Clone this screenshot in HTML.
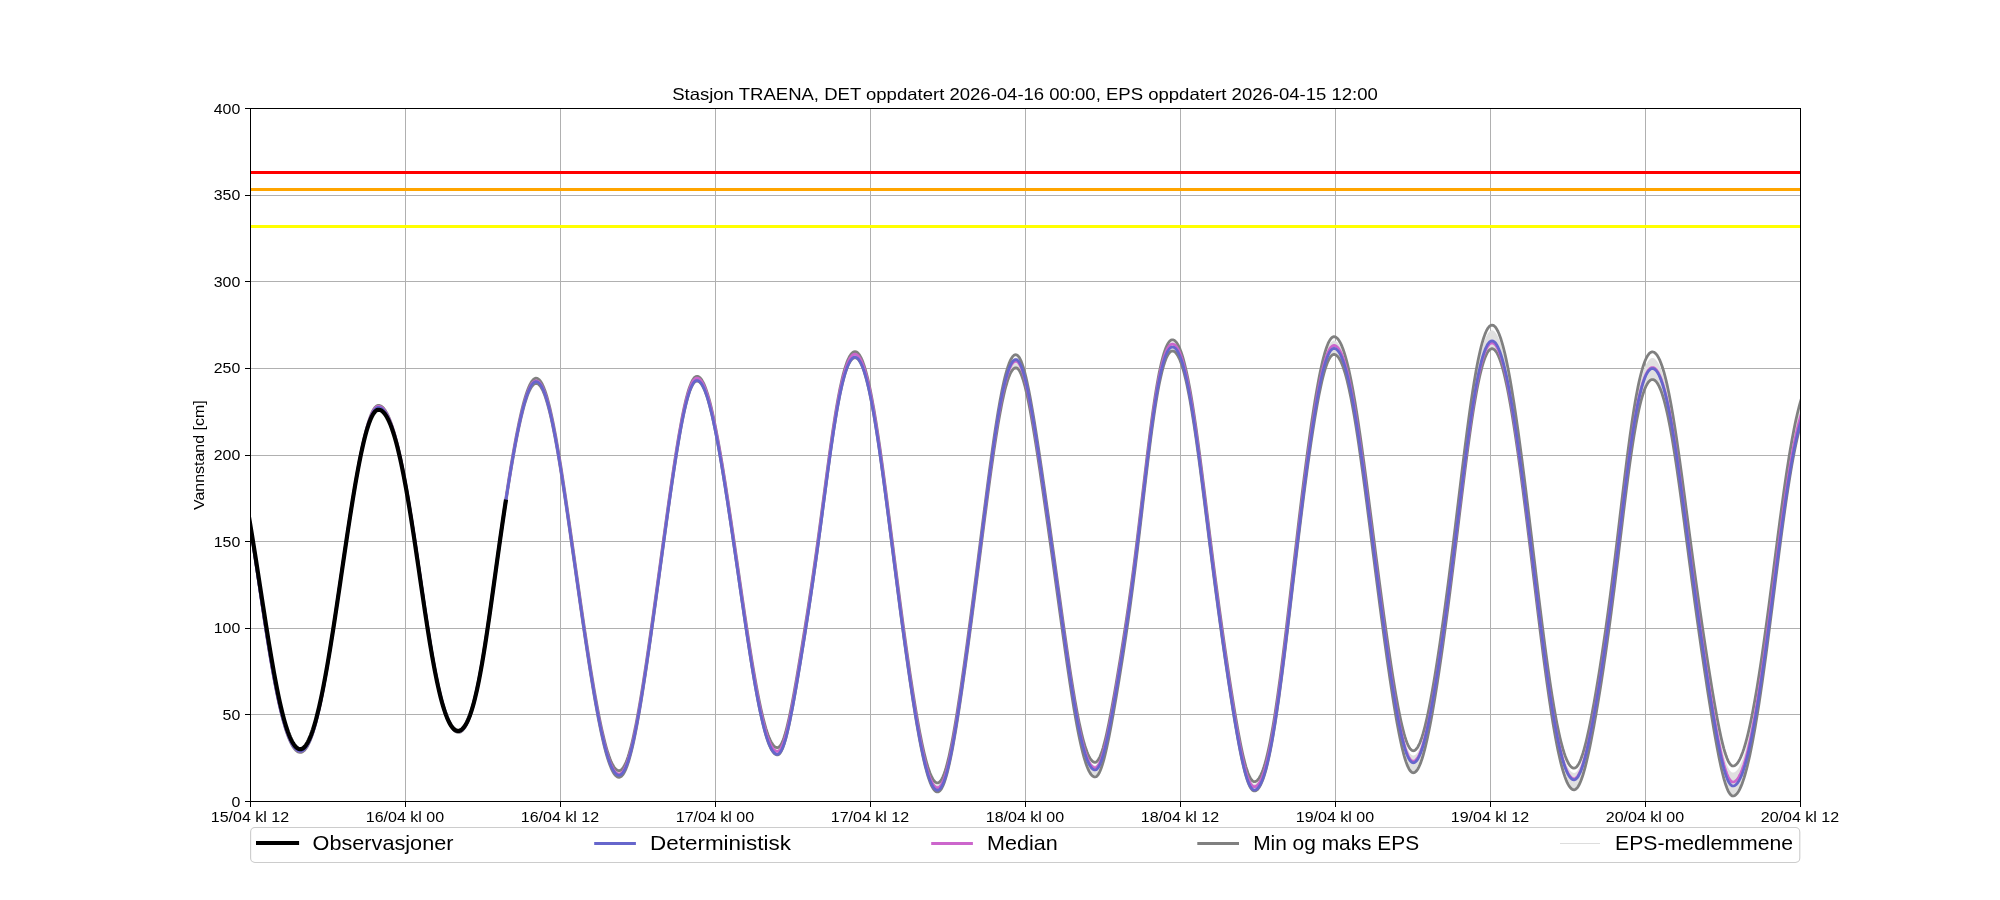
<!DOCTYPE html>
<html><head><meta charset="utf-8"><title>Vannstand TRAENA</title>
<style>html,body{margin:0;padding:0;background:#fff;}body{width:2000px;height:900px;overflow:hidden;}svg{display:block;will-change:transform;}</style>
</head><body>
<svg width="2000" height="900" viewBox="0 0 2000 900">
<defs><clipPath id="ax"><rect x="250" y="108" width="1550" height="693"/></clipPath></defs>
<rect x="0" y="0" width="2000" height="900" fill="#ffffff"/>
<path d="M405 108 h1 V801 h-1Z M560 108 h1 V801 h-1Z M715 108 h1 V801 h-1Z M870 108 h1 V801 h-1Z M1025 108 h1 V801 h-1Z M1180 108 h1 V801 h-1Z M1335 108 h1 V801 h-1Z M1490 108 h1 V801 h-1Z M1645 108 h1 V801 h-1Z M250 714 H1800 v1 H250Z M250 628 H1800 v1 H250Z M250 541 H1800 v1 H250Z M250 455 H1800 v1 H250Z M250 368 H1800 v1 H250Z M250 281 H1800 v1 H250Z M250 195 H1800 v1 H250Z" fill="#b0b0b0" shape-rendering="crispEdges"/>
<g clip-path="url(#ax)" fill="none" stroke-linejoin="round" stroke-linecap="butt">
<path d="M240.00 466.83L241.00 471.74L242.00 476.84L243.00 482.11L244.00 487.55L245.00 493.16L246.00 498.92L247.00 504.83L248.00 510.87L249.00 517.04L250.00 523.32L251.00 529.71L252.00 536.19L253.00 542.76L254.00 549.40L255.00 556.09L256.00 562.83L257.00 569.60L258.00 576.39L259.00 583.19L260.00 589.98L261.00 596.75L262.00 603.49L263.00 610.19L264.00 616.83L265.00 623.40L266.00 629.89L267.00 636.29L268.00 642.58L269.00 648.76L270.00 654.81L271.00 660.73L272.00 666.51L273.00 672.14L274.00 677.61L275.00 682.92L276.00 688.05L277.00 693.00L278.00 697.77L279.00 702.35L280.00 706.73L281.00 710.92L282.00 714.91L283.00 718.70L284.00 722.27L285.00 725.65L286.00 728.81L287.00 731.76L288.00 734.50L289.00 737.02L290.00 739.33L291.00 741.43L292.00 743.31L293.00 744.98L294.00 746.44L295.00 747.68L296.00 748.71L297.00 749.52L298.00 750.12L299.00 750.50L300.00 750.67L301.00 750.62L302.00 750.33L303.00 749.80L304.00 749.02L305.00 748.00L306.00 746.74L307.00 745.24L308.00 743.49L309.00 741.51L310.00 739.28L311.00 736.81L312.00 734.10L313.00 731.16L314.00 727.98L315.00 724.56L316.00 720.92L317.00 717.05L318.00 712.96L319.00 708.65L320.00 704.13L321.00 699.40L322.00 694.48L323.00 689.36L324.00 684.06L325.00 678.59L326.00 672.96L327.00 667.16L328.00 661.23L329.00 655.16L330.00 648.96L331.00 642.66L332.00 636.25L333.00 629.76L334.00 623.18L335.00 616.54L336.00 609.84L337.00 603.10L338.00 596.32L339.00 589.52L340.00 582.71L341.00 575.90L342.00 569.09L343.00 562.29L344.00 555.52L345.00 548.79L346.00 542.10L347.00 535.45L348.00 528.87L349.00 522.36L350.00 515.92L351.00 509.57L352.00 503.31L353.00 497.15L354.00 491.10L355.00 485.17L356.00 479.37L357.00 473.71L358.00 468.20L359.00 462.85L360.00 457.67L361.00 452.67L362.00 447.86L363.00 443.25L364.00 438.86L365.00 434.70L366.00 430.77L367.00 427.09L368.00 423.67L369.00 420.53L370.00 417.67L371.00 415.09L372.00 412.82L373.00 410.86L374.00 409.21L375.00 407.88L376.00 406.88L377.00 406.22L378.00 405.88L379.00 405.87L380.00 406.09L381.00 406.54L382.00 407.20L383.00 408.09L384.00 409.21L385.00 410.54L386.00 412.09L387.00 413.85L388.00 415.83L389.00 418.03L390.00 420.44L391.00 423.06L392.00 425.88L393.00 428.91L394.00 432.15L395.00 435.59L396.00 439.22L397.00 443.06L398.00 447.08L399.00 451.30L400.00 455.71L401.00 460.30L402.00 465.07L403.00 470.02L404.00 475.14L405.00 480.43L406.00 485.88L407.00 491.49L408.00 497.26L409.00 503.17L410.00 509.21L411.00 515.38L412.00 521.68L413.00 528.08L414.00 534.59L415.00 541.18L416.00 547.85L417.00 554.59L418.00 561.37L419.00 568.19L420.00 575.03L421.00 581.88L422.00 588.72L423.00 595.54L424.00 602.31L425.00 609.03L426.00 615.67L427.00 622.23L428.00 628.68L429.00 635.01L430.00 641.21L431.00 647.26L432.00 653.15L433.00 658.87L434.00 664.40L435.00 669.74L436.00 674.88L437.00 679.81L438.00 684.52L439.00 689.01L440.00 693.27L441.00 697.31L442.00 701.11L443.00 704.67L444.00 708.01L445.00 711.11L446.00 713.97L447.00 716.60L448.00 719.01L449.00 721.18L450.00 723.13L451.00 724.85L452.00 726.35L453.00 727.63L454.00 728.70L455.00 729.54L456.00 730.18L457.00 730.60L458.00 730.81L459.00 730.81L460.00 730.57L461.00 730.09L462.00 729.36L463.00 728.40L464.00 727.19L465.00 725.73L466.00 724.03L467.00 722.07L468.00 719.86L469.00 717.40L470.00 714.67L471.00 711.69L472.00 708.45L473.00 704.95L474.00 701.18L475.00 697.17L476.00 692.89L477.00 688.36L478.00 683.59L479.00 678.57L480.00 673.33L481.00 667.85L482.00 662.16L483.00 656.27L484.00 650.19L485.00 643.93L486.00 637.50L487.00 630.93L488.00 624.22L489.00 617.40L490.00 610.47L491.00 603.46L492.00 596.39L493.00 589.25L494.00 582.09L495.00 574.90L496.00 567.70L497.00 560.52L498.00 553.35L499.00 546.21L500.00 539.12L501.00 532.09L502.00 525.12L503.00 518.22L504.00 511.40L505.00 504.68L506.00 498.05L507.00 491.52L508.00 485.10L509.00 478.80L510.00 472.62L511.00 466.56L512.00 460.64L513.00 454.85L514.00 449.21L515.00 443.73L516.00 438.40L517.00 433.23L518.00 428.25L519.00 423.44L520.00 418.83L521.00 414.42L522.00 410.23L523.00 406.25L524.00 402.51L525.00 399.01L526.00 395.77L527.00 392.79L528.00 390.09L529.00 387.67L530.00 385.55L531.00 383.73L532.00 382.21L533.00 381.01L534.00 380.13L535.00 379.58L536.00 379.35L537.00 379.45L538.00 379.88L539.00 380.64L540.00 381.73L541.00 383.14L542.00 384.88L543.00 386.93L544.00 389.29L545.00 391.95L546.00 394.91L547.00 398.16L548.00 401.68L549.00 405.48L550.00 409.54L551.00 413.85L552.00 418.40L553.00 423.18L554.00 428.18L555.00 433.39L556.00 438.79L557.00 444.37L558.00 450.12L559.00 456.04L560.00 462.10L561.00 468.30L562.00 474.62L563.00 481.06L564.00 487.61L565.00 494.24L566.00 500.96L567.00 507.75L568.00 514.61L569.00 521.52L570.00 528.47L571.00 535.46L572.00 542.48L573.00 549.52L574.00 556.57L575.00 563.62L576.00 570.67L577.00 577.72L578.00 584.75L579.00 591.75L580.00 598.73L581.00 605.67L582.00 612.57L583.00 619.42L584.00 626.22L585.00 632.95L586.00 639.63L587.00 646.22L588.00 652.74L589.00 659.17L590.00 665.51L591.00 671.75L592.00 677.88L593.00 683.90L594.00 689.79L595.00 695.55L596.00 701.17L597.00 706.64L598.00 711.95L599.00 717.10L600.00 722.07L601.00 726.86L602.00 731.46L603.00 735.85L604.00 740.04L605.00 744.00L606.00 747.74L607.00 751.23L608.00 754.48L609.00 757.48L610.00 760.22L611.00 762.68L612.00 764.88L613.00 766.79L614.00 768.42L615.00 769.76L616.00 770.80L617.00 771.55L618.00 772.00L619.00 772.15L620.00 771.98L621.00 771.45L622.00 770.58L623.00 769.36L624.00 767.81L625.00 765.91L626.00 763.69L627.00 761.15L628.00 758.29L629.00 755.12L630.00 751.66L631.00 747.92L632.00 743.90L633.00 739.62L634.00 735.08L635.00 730.31L636.00 725.31L637.00 720.09L638.00 714.67L639.00 709.07L640.00 703.28L641.00 697.33L642.00 691.22L643.00 684.97L644.00 678.60L645.00 672.10L646.00 665.49L647.00 658.78L648.00 651.97L649.00 645.09L650.00 638.13L651.00 631.11L652.00 624.02L653.00 616.89L654.00 609.71L655.00 602.49L656.00 595.24L657.00 587.97L658.00 580.67L659.00 573.36L660.00 566.04L661.00 558.72L662.00 551.41L663.00 544.10L664.00 536.81L665.00 529.54L666.00 522.31L667.00 515.11L668.00 507.96L669.00 500.86L670.00 493.83L671.00 486.88L672.00 480.01L673.00 473.24L674.00 466.58L675.00 460.04L676.00 453.64L677.00 447.39L678.00 441.31L679.00 435.40L680.00 429.70L681.00 424.21L682.00 418.94L683.00 413.92L684.00 409.16L685.00 404.68L686.00 400.49L687.00 396.61L688.00 393.05L689.00 389.83L690.00 386.95L691.00 384.43L692.00 382.28L693.00 380.51L694.00 379.13L695.00 378.13L696.00 377.53L697.00 377.33L698.00 377.50L699.00 377.98L700.00 378.79L701.00 379.92L702.00 381.37L703.00 383.13L704.00 385.19L705.00 387.55L706.00 390.20L707.00 393.14L708.00 396.34L709.00 399.81L710.00 403.53L711.00 407.50L712.00 411.69L713.00 416.11L714.00 420.73L715.00 425.55L716.00 430.56L717.00 435.75L718.00 441.10L719.00 446.61L720.00 452.26L721.00 458.05L722.00 463.96L723.00 470.00L724.00 476.13L725.00 482.37L726.00 488.70L727.00 495.12L728.00 501.61L729.00 508.17L730.00 514.79L731.00 521.47L732.00 528.19L733.00 534.96L734.00 541.77L735.00 548.60L736.00 555.46L737.00 562.33L738.00 569.22L739.00 576.10L740.00 582.98L741.00 589.84L742.00 596.69L743.00 603.51L744.00 610.29L745.00 617.02L746.00 623.70L747.00 630.31L748.00 636.85L749.00 643.31L750.00 649.67L751.00 655.93L752.00 662.08L753.00 668.10L754.00 673.98L755.00 679.72L756.00 685.30L757.00 690.71L758.00 695.94L759.00 700.98L760.00 705.82L761.00 710.45L762.00 714.86L763.00 719.04L764.00 722.98L765.00 726.68L766.00 730.12L767.00 733.29L768.00 736.20L769.00 738.82L770.00 741.17L771.00 743.22L772.00 744.98L773.00 746.45L774.00 747.61L775.00 748.47L776.00 749.02L777.00 749.27L778.00 749.17L779.00 748.60L780.00 747.56L781.00 746.06L782.00 744.12L783.00 741.75L784.00 738.97L785.00 735.80L786.00 732.27L787.00 728.40L788.00 724.23L789.00 719.77L790.00 715.07L791.00 710.14L792.00 705.01L793.00 699.71L794.00 694.26L795.00 688.67L796.00 682.98L797.00 677.19L798.00 671.32L799.00 665.38L800.00 659.38L801.00 653.32L802.00 647.21L803.00 641.05L804.00 634.83L805.00 628.57L806.00 622.25L807.00 615.87L808.00 609.42L809.00 602.91L810.00 596.33L811.00 589.66L812.00 582.92L813.00 576.09L814.00 569.17L815.00 562.16L816.00 555.06L817.00 547.88L818.00 540.62L819.00 533.28L820.00 525.87L821.00 518.41L822.00 510.91L823.00 503.37L824.00 495.82L825.00 488.28L826.00 480.75L827.00 473.27L828.00 465.86L829.00 458.53L830.00 451.31L831.00 444.23L832.00 437.30L833.00 430.54L834.00 423.98L835.00 417.64L836.00 411.53L837.00 405.67L838.00 400.08L839.00 394.77L840.00 389.75L841.00 385.03L842.00 380.63L843.00 376.53L844.00 372.76L845.00 369.32L846.00 366.20L847.00 363.41L848.00 360.95L849.00 358.82L850.00 357.02L851.00 355.55L852.00 354.41L853.00 353.59L854.00 353.11L855.00 352.94L856.00 353.11L857.00 353.62L858.00 354.47L859.00 355.65L860.00 357.18L861.00 359.03L862.00 361.21L863.00 363.72L864.00 366.56L865.00 369.71L866.00 373.17L867.00 376.94L868.00 381.01L869.00 385.37L870.00 390.01L871.00 394.93L872.00 400.11L873.00 405.55L874.00 411.23L875.00 417.14L876.00 423.28L877.00 429.62L878.00 436.16L879.00 442.88L880.00 449.77L881.00 456.81L882.00 463.99L883.00 471.30L884.00 478.72L885.00 486.24L886.00 493.84L887.00 501.51L888.00 509.25L889.00 517.03L890.00 524.84L891.00 532.68L892.00 540.52L893.00 548.37L894.00 556.21L895.00 564.03L896.00 571.83L897.00 579.59L898.00 587.31L899.00 594.99L900.00 602.61L901.00 610.17L902.00 617.66L903.00 625.09L904.00 632.44L905.00 639.71L906.00 646.89L907.00 653.98L908.00 660.98L909.00 667.88L910.00 674.67L911.00 681.34L912.00 687.90L913.00 694.33L914.00 700.63L915.00 706.79L916.00 712.79L917.00 718.64L918.00 724.32L919.00 729.81L920.00 735.12L921.00 740.22L922.00 745.11L923.00 749.77L924.00 754.19L925.00 758.37L926.00 762.28L927.00 765.91L928.00 769.25L929.00 772.30L930.00 775.04L931.00 777.46L932.00 779.55L933.00 781.31L934.00 782.72L935.00 783.79L936.00 784.50L937.00 784.86L938.00 784.85L939.00 784.43L940.00 783.58L941.00 782.31L942.00 780.63L943.00 778.55L944.00 776.08L945.00 773.22L946.00 770.00L947.00 766.42L948.00 762.50L949.00 758.27L950.00 753.73L951.00 748.91L952.00 743.82L953.00 738.49L954.00 732.92L955.00 727.14L956.00 721.16L957.00 714.99L958.00 708.67L959.00 702.18L960.00 695.56L961.00 688.81L962.00 681.95L963.00 674.98L964.00 667.91L965.00 660.75L966.00 653.51L967.00 646.19L968.00 638.80L969.00 631.35L970.00 623.84L971.00 616.28L972.00 608.66L973.00 600.99L974.00 593.28L975.00 585.54L976.00 577.76L977.00 569.95L978.00 562.12L979.00 554.27L980.00 546.40L981.00 538.54L982.00 530.68L983.00 522.83L984.00 515.01L985.00 507.22L986.00 499.48L987.00 491.79L988.00 484.18L989.00 476.64L990.00 469.21L991.00 461.88L992.00 454.68L993.00 447.63L994.00 440.73L995.00 434.01L996.00 427.47L997.00 421.14L998.00 415.04L999.00 409.17L1000.00 403.55L1001.00 398.19L1002.00 393.12L1003.00 388.34L1004.00 383.87L1005.00 379.72L1006.00 375.89L1007.00 372.41L1008.00 369.27L1009.00 366.50L1010.00 364.09L1011.00 362.05L1012.00 360.38L1013.00 359.11L1014.00 358.21L1015.00 357.71L1016.00 357.59L1017.00 357.91L1018.00 358.70L1019.00 359.93L1020.00 361.62L1021.00 363.74L1022.00 366.27L1023.00 369.22L1024.00 372.55L1025.00 376.25L1026.00 380.30L1027.00 384.68L1028.00 389.35L1029.00 394.31L1030.00 399.52L1031.00 404.97L1032.00 410.62L1033.00 416.47L1034.00 422.49L1035.00 428.65L1036.00 434.95L1037.00 441.37L1038.00 447.89L1039.00 454.49L1040.00 461.18L1041.00 467.93L1042.00 474.74L1043.00 481.59L1044.00 488.50L1045.00 495.44L1046.00 502.42L1047.00 509.43L1048.00 516.47L1049.00 523.55L1050.00 530.64L1051.00 537.76L1052.00 544.91L1053.00 552.08L1054.00 559.26L1055.00 566.47L1056.00 573.68L1057.00 580.91L1058.00 588.14L1059.00 595.38L1060.00 602.60L1061.00 609.82L1062.00 617.01L1063.00 624.18L1064.00 631.30L1065.00 638.37L1066.00 645.39L1067.00 652.32L1068.00 659.17L1069.00 665.92L1070.00 672.56L1071.00 679.07L1072.00 685.43L1073.00 691.64L1074.00 697.68L1075.00 703.54L1076.00 709.20L1077.00 714.64L1078.00 719.87L1079.00 724.85L1080.00 729.59L1081.00 734.08L1082.00 738.29L1083.00 742.23L1084.00 745.88L1085.00 749.24L1086.00 752.30L1087.00 755.05L1088.00 757.49L1089.00 759.61L1090.00 761.41L1091.00 762.89L1092.00 764.05L1093.00 764.87L1094.00 765.37L1095.00 765.53L1096.00 765.30L1097.00 764.60L1098.00 763.44L1099.00 761.84L1100.00 759.80L1101.00 757.35L1102.00 754.50L1103.00 751.28L1104.00 747.71L1105.00 743.82L1106.00 739.64L1107.00 735.20L1108.00 730.52L1109.00 725.63L1110.00 720.55L1111.00 715.30L1112.00 709.92L1113.00 704.40L1114.00 698.78L1115.00 693.06L1116.00 687.25L1117.00 681.37L1118.00 675.41L1119.00 669.38L1120.00 663.27L1121.00 657.09L1122.00 650.83L1123.00 644.49L1124.00 638.06L1125.00 631.53L1126.00 624.90L1127.00 618.15L1128.00 611.29L1129.00 604.29L1130.00 597.16L1131.00 589.90L1132.00 582.49L1133.00 574.95L1134.00 567.26L1135.00 559.43L1136.00 551.47L1137.00 543.39L1138.00 535.19L1139.00 526.90L1140.00 518.52L1141.00 510.08L1142.00 501.60L1143.00 493.10L1144.00 484.61L1145.00 476.15L1146.00 467.75L1147.00 459.44L1148.00 451.25L1149.00 443.20L1150.00 435.33L1151.00 427.67L1152.00 420.23L1153.00 413.05L1154.00 406.14L1155.00 399.53L1156.00 393.23L1157.00 387.27L1158.00 381.65L1159.00 376.38L1160.00 371.48L1161.00 366.95L1162.00 362.80L1163.00 359.03L1164.00 355.64L1165.00 352.64L1166.00 350.02L1167.00 347.78L1168.00 345.92L1169.00 344.45L1170.00 343.35L1171.00 342.63L1172.00 342.29L1173.00 342.32L1174.00 342.68L1175.00 343.36L1176.00 344.36L1177.00 345.68L1178.00 347.33L1179.00 349.30L1180.00 351.60L1181.00 354.22L1182.00 357.17L1183.00 360.43L1184.00 364.02L1185.00 367.92L1186.00 372.14L1187.00 376.67L1188.00 381.50L1189.00 386.62L1190.00 392.04L1191.00 397.73L1192.00 403.69L1193.00 409.91L1194.00 416.37L1195.00 423.06L1196.00 429.95L1197.00 437.05L1198.00 444.31L1199.00 451.74L1200.00 459.31L1201.00 467.00L1202.00 474.79L1203.00 482.66L1204.00 490.60L1205.00 498.59L1206.00 506.60L1207.00 514.63L1208.00 522.66L1209.00 530.67L1210.00 538.65L1211.00 546.59L1212.00 554.49L1213.00 562.32L1214.00 570.10L1215.00 577.80L1216.00 585.43L1217.00 592.98L1218.00 600.45L1219.00 607.84L1220.00 615.16L1221.00 622.39L1222.00 629.54L1223.00 636.62L1224.00 643.62L1225.00 650.55L1226.00 657.39L1227.00 664.17L1228.00 670.86L1229.00 677.48L1230.00 684.02L1231.00 690.46L1232.00 696.82L1233.00 703.07L1234.00 709.22L1235.00 715.24L1236.00 721.13L1237.00 726.87L1238.00 732.45L1239.00 737.85L1240.00 743.05L1241.00 748.03L1242.00 752.77L1243.00 757.24L1244.00 761.44L1245.00 765.33L1246.00 768.90L1247.00 772.13L1248.00 774.99L1249.00 777.47L1250.00 779.56L1251.00 781.23L1252.00 782.49L1253.00 783.32L1254.00 783.71L1255.00 783.69L1256.00 783.33L1257.00 782.65L1258.00 781.64L1259.00 780.31L1260.00 778.65L1261.00 776.67L1262.00 774.36L1263.00 771.73L1264.00 768.78L1265.00 765.51L1266.00 761.92L1267.00 758.01L1268.00 753.79L1269.00 749.26L1270.00 744.43L1271.00 739.30L1272.00 733.87L1273.00 728.17L1274.00 722.18L1275.00 715.93L1276.00 709.43L1277.00 702.68L1278.00 695.71L1279.00 688.51L1280.00 681.12L1281.00 673.53L1282.00 665.77L1283.00 657.85L1284.00 649.80L1285.00 641.61L1286.00 633.32L1287.00 624.94L1288.00 616.48L1289.00 607.96L1290.00 599.40L1291.00 590.81L1292.00 582.20L1293.00 573.59L1294.00 564.99L1295.00 556.42L1296.00 547.88L1297.00 539.39L1298.00 530.95L1299.00 522.59L1300.00 514.29L1301.00 506.09L1302.00 497.97L1303.00 489.95L1304.00 482.05L1305.00 474.25L1306.00 466.58L1307.00 459.04L1308.00 451.64L1309.00 444.39L1310.00 437.28L1311.00 430.34L1312.00 423.57L1313.00 416.98L1314.00 410.58L1315.00 404.38L1316.00 398.40L1317.00 392.64L1318.00 387.11L1319.00 381.83L1320.00 376.82L1321.00 372.07L1322.00 367.62L1323.00 363.46L1324.00 359.61L1325.00 356.09L1326.00 352.90L1327.00 350.06L1328.00 347.58L1329.00 345.46L1330.00 343.72L1331.00 342.36L1332.00 341.38L1333.00 340.79L1334.00 340.59L1335.00 340.75L1336.00 341.20L1337.00 341.97L1338.00 343.03L1339.00 344.41L1340.00 346.08L1341.00 348.06L1342.00 350.34L1343.00 352.93L1344.00 355.81L1345.00 358.99L1346.00 362.46L1347.00 366.23L1348.00 370.28L1349.00 374.61L1350.00 379.22L1351.00 384.09L1352.00 389.23L1353.00 394.62L1354.00 400.26L1355.00 406.12L1356.00 412.22L1357.00 418.52L1358.00 425.02L1359.00 431.70L1360.00 438.56L1361.00 445.57L1362.00 452.72L1363.00 460.01L1364.00 467.41L1365.00 474.90L1366.00 482.49L1367.00 490.14L1368.00 497.85L1369.00 505.61L1370.00 513.40L1371.00 521.21L1372.00 529.03L1373.00 536.85L1374.00 544.66L1375.00 552.45L1376.00 560.22L1377.00 567.95L1378.00 575.64L1379.00 583.29L1380.00 590.88L1381.00 598.42L1382.00 605.89L1383.00 613.29L1384.00 620.62L1385.00 627.87L1386.00 635.04L1387.00 642.11L1388.00 649.08L1389.00 655.95L1390.00 662.70L1391.00 669.32L1392.00 675.82L1393.00 682.16L1394.00 688.35L1395.00 694.36L1396.00 700.19L1397.00 705.83L1398.00 711.24L1399.00 716.42L1400.00 721.36L1401.00 726.02L1402.00 730.41L1403.00 734.49L1404.00 738.26L1405.00 741.70L1406.00 744.78L1407.00 747.51L1408.00 749.85L1409.00 751.82L1410.00 753.38L1411.00 754.54L1412.00 755.29L1413.00 755.62L1414.00 755.55L1415.00 755.10L1416.00 754.27L1417.00 753.07L1418.00 751.51L1419.00 749.59L1420.00 747.33L1421.00 744.72L1422.00 741.79L1423.00 738.54L1424.00 734.99L1425.00 731.15L1426.00 727.04L1427.00 722.66L1428.00 718.04L1429.00 713.18L1430.00 708.10L1431.00 702.81L1432.00 697.33L1433.00 691.66L1434.00 685.82L1435.00 679.81L1436.00 673.64L1437.00 667.33L1438.00 660.87L1439.00 654.27L1440.00 647.55L1441.00 640.70L1442.00 633.73L1443.00 626.64L1444.00 619.43L1445.00 612.12L1446.00 604.69L1447.00 597.17L1448.00 589.54L1449.00 581.82L1450.00 574.02L1451.00 566.12L1452.00 558.15L1453.00 550.11L1454.00 542.01L1455.00 533.85L1456.00 525.66L1457.00 517.43L1458.00 509.19L1459.00 500.94L1460.00 492.70L1461.00 484.49L1462.00 476.33L1463.00 468.22L1464.00 460.19L1465.00 452.25L1466.00 444.43L1467.00 436.74L1468.00 429.21L1469.00 421.84L1470.00 414.66L1471.00 407.68L1472.00 400.93L1473.00 394.41L1474.00 388.14L1475.00 382.15L1476.00 376.43L1477.00 371.01L1478.00 365.89L1479.00 361.09L1480.00 356.61L1481.00 352.46L1482.00 348.66L1483.00 345.20L1484.00 342.09L1485.00 339.34L1486.00 336.95L1487.00 334.92L1488.00 333.25L1489.00 331.96L1490.00 331.03L1491.00 330.48L1492.00 330.29L1493.00 330.47L1494.00 331.01L1495.00 331.90L1496.00 333.14L1497.00 334.73L1498.00 336.67L1499.00 338.95L1500.00 341.56L1501.00 344.49L1502.00 347.75L1503.00 351.32L1504.00 355.19L1505.00 359.35L1506.00 363.80L1507.00 368.52L1508.00 373.50L1509.00 378.74L1510.00 384.23L1511.00 389.94L1512.00 395.88L1513.00 402.03L1514.00 408.39L1515.00 414.93L1516.00 421.66L1517.00 428.56L1518.00 435.62L1519.00 442.83L1520.00 450.18L1521.00 457.67L1522.00 465.27L1523.00 473.00L1524.00 480.82L1525.00 488.74L1526.00 496.75L1527.00 504.83L1528.00 512.98L1529.00 521.18L1530.00 529.43L1531.00 537.71L1532.00 546.02L1533.00 554.35L1534.00 562.68L1535.00 571.00L1536.00 579.30L1537.00 587.58L1538.00 595.81L1539.00 603.99L1540.00 612.10L1541.00 620.14L1542.00 628.08L1543.00 635.93L1544.00 643.66L1545.00 651.26L1546.00 658.72L1547.00 666.04L1548.00 673.19L1549.00 680.16L1550.00 686.96L1551.00 693.55L1552.00 699.94L1553.00 706.11L1554.00 712.05L1555.00 717.76L1556.00 723.23L1557.00 728.44L1558.00 733.39L1559.00 738.07L1560.00 742.48L1561.00 746.61L1562.00 750.45L1563.00 754.01L1564.00 757.26L1565.00 760.22L1566.00 762.88L1567.00 765.23L1568.00 767.27L1569.00 769.00L1570.00 770.42L1571.00 771.53L1572.00 772.32L1573.00 772.79L1574.00 772.95L1575.00 772.76L1576.00 772.17L1577.00 771.20L1578.00 769.85L1579.00 768.12L1580.00 766.04L1581.00 763.61L1582.00 760.85L1583.00 757.77L1584.00 754.39L1585.00 750.73L1586.00 746.81L1587.00 742.64L1588.00 738.23L1589.00 733.62L1590.00 728.80L1591.00 723.81L1592.00 718.64L1593.00 713.31L1594.00 707.83L1595.00 702.21L1596.00 696.46L1597.00 690.58L1598.00 684.57L1599.00 678.44L1600.00 672.19L1601.00 665.82L1602.00 659.32L1603.00 652.70L1604.00 645.96L1605.00 639.08L1606.00 632.08L1607.00 624.95L1608.00 617.69L1609.00 610.29L1610.00 602.77L1611.00 595.12L1612.00 587.34L1613.00 579.45L1614.00 571.45L1615.00 563.35L1616.00 555.17L1617.00 546.90L1618.00 538.58L1619.00 530.22L1620.00 521.84L1621.00 513.45L1622.00 505.09L1623.00 496.77L1624.00 488.52L1625.00 480.35L1626.00 472.31L1627.00 464.41L1628.00 456.67L1629.00 449.12L1630.00 441.78L1631.00 434.67L1632.00 427.81L1633.00 421.23L1634.00 414.93L1635.00 408.92L1636.00 403.23L1637.00 397.86L1638.00 392.82L1639.00 388.11L1640.00 383.75L1641.00 379.72L1642.00 376.05L1643.00 372.71L1644.00 369.72L1645.00 367.08L1646.00 364.77L1647.00 362.81L1648.00 361.18L1649.00 359.88L1650.00 358.92L1651.00 358.30L1652.00 358.00L1653.00 358.03L1654.00 358.36L1655.00 359.00L1656.00 359.95L1657.00 361.20L1658.00 362.75L1659.00 364.62L1660.00 366.79L1661.00 369.26L1662.00 372.05L1663.00 375.13L1664.00 378.52L1665.00 382.22L1666.00 386.21L1667.00 390.49L1668.00 395.07L1669.00 399.92L1670.00 405.05L1671.00 410.44L1672.00 416.09L1673.00 421.98L1674.00 428.10L1675.00 434.44L1676.00 440.98L1677.00 447.70L1678.00 454.59L1679.00 461.63L1680.00 468.80L1681.00 476.09L1682.00 483.47L1683.00 490.93L1684.00 498.45L1685.00 506.02L1686.00 513.61L1687.00 521.22L1688.00 528.82L1689.00 536.42L1690.00 543.98L1691.00 551.52L1692.00 559.01L1693.00 566.45L1694.00 573.83L1695.00 581.15L1696.00 588.40L1697.00 595.59L1698.00 602.72L1699.00 609.77L1700.00 616.75L1701.00 623.67L1702.00 630.51L1703.00 637.30L1704.00 644.01L1705.00 650.66L1706.00 657.24L1707.00 663.75L1708.00 670.19L1709.00 676.55L1710.00 682.83L1711.00 689.03L1712.00 695.13L1713.00 701.13L1714.00 707.01L1715.00 712.75L1716.00 718.36L1717.00 723.80L1718.00 729.06L1719.00 734.12L1720.00 738.96L1721.00 743.57L1722.00 747.90L1723.00 751.96L1724.00 755.70L1725.00 759.12L1726.00 762.19L1727.00 764.90L1728.00 767.22L1729.00 769.14L1730.00 770.64L1731.00 771.73L1732.00 772.38L1733.00 772.60L1734.00 772.45L1735.00 772.00L1736.00 771.26L1737.00 770.22L1738.00 768.89L1739.00 767.26L1740.00 765.35L1741.00 763.16L1742.00 760.68L1743.00 757.94L1744.00 754.92L1745.00 751.64L1746.00 748.10L1747.00 744.31L1748.00 740.27L1749.00 735.99L1750.00 731.48L1751.00 726.75L1752.00 721.79L1753.00 716.62L1754.00 711.24L1755.00 705.66L1756.00 699.89L1757.00 693.93L1758.00 687.79L1759.00 681.47L1760.00 675.00L1761.00 668.36L1762.00 661.57L1763.00 654.65L1764.00 647.59L1765.00 640.40L1766.00 633.10L1767.00 625.70L1768.00 618.20L1769.00 610.62L1770.00 602.97L1771.00 595.26L1772.00 587.50L1773.00 579.71L1774.00 571.90L1775.00 564.09L1776.00 556.29L1777.00 548.51L1778.00 540.78L1779.00 533.10L1780.00 525.50L1781.00 517.98L1782.00 510.57L1783.00 503.28L1784.00 496.12L1785.00 489.11L1786.00 482.26L1787.00 475.58L1788.00 469.09L1789.00 462.80L1790.00 456.72L1791.00 450.85L1792.00 445.20L1793.00 439.79L1794.00 434.60L1795.00 429.66L1796.00 424.96L1797.00 420.50L1798.00 416.28L1799.00 412.31L1800.00 408.57L1801.00 405.08L1802.00 401.82L1803.00 398.79L1804.00 396.00L1805.00 393.42L1806.00 391.06L1807.00 388.92L1808.00 386.98L1809.00 385.24L1810.00 383.71L1811.00 382.36L1812.00 381.21L1812.00 399.22L1811.00 400.40L1810.00 401.77L1809.00 403.33L1808.00 405.10L1807.00 407.08L1806.00 409.27L1805.00 411.67L1804.00 414.29L1803.00 417.14L1802.00 420.22L1801.00 423.54L1800.00 427.10L1799.00 430.89L1798.00 434.93L1797.00 439.22L1796.00 443.75L1795.00 448.53L1794.00 453.55L1793.00 458.81L1792.00 464.31L1791.00 470.04L1790.00 475.99L1789.00 482.17L1788.00 488.55L1787.00 495.13L1786.00 501.89L1785.00 508.84L1784.00 515.94L1783.00 523.20L1782.00 530.59L1781.00 538.10L1780.00 545.72L1779.00 553.42L1778.00 561.20L1777.00 569.03L1776.00 576.91L1775.00 584.81L1774.00 592.72L1773.00 600.63L1772.00 608.52L1771.00 616.38L1770.00 624.19L1769.00 631.94L1768.00 639.62L1767.00 647.21L1766.00 654.71L1765.00 662.11L1764.00 669.38L1763.00 676.53L1762.00 683.55L1761.00 690.42L1760.00 697.15L1759.00 703.71L1758.00 710.10L1757.00 716.32L1756.00 722.36L1755.00 728.21L1754.00 733.86L1753.00 739.31L1752.00 744.54L1751.00 749.57L1750.00 754.36L1749.00 758.93L1748.00 763.26L1747.00 767.35L1746.00 771.19L1745.00 774.77L1744.00 778.10L1743.00 781.15L1742.00 783.93L1741.00 786.44L1740.00 788.66L1739.00 790.60L1738.00 792.24L1737.00 793.59L1736.00 794.64L1735.00 795.40L1734.00 795.85L1733.00 796.00L1732.00 795.78L1731.00 795.13L1730.00 794.04L1729.00 792.53L1728.00 790.60L1727.00 788.27L1726.00 785.56L1725.00 782.48L1724.00 779.05L1723.00 775.29L1722.00 771.22L1721.00 766.86L1720.00 762.25L1719.00 757.39L1718.00 752.31L1717.00 747.02L1716.00 741.56L1715.00 735.93L1714.00 730.16L1713.00 724.26L1712.00 718.23L1711.00 712.11L1710.00 705.88L1709.00 699.57L1708.00 693.18L1707.00 686.71L1706.00 680.16L1705.00 673.55L1704.00 666.87L1703.00 660.13L1702.00 653.31L1701.00 646.43L1700.00 639.48L1699.00 632.46L1698.00 625.37L1697.00 618.21L1696.00 610.99L1695.00 603.70L1694.00 596.34L1693.00 588.92L1692.00 581.45L1691.00 573.92L1690.00 566.35L1689.00 558.75L1688.00 551.12L1687.00 543.48L1686.00 535.83L1685.00 528.20L1684.00 520.60L1683.00 513.05L1682.00 505.55L1681.00 498.14L1680.00 490.82L1679.00 483.62L1678.00 476.55L1677.00 469.63L1676.00 462.88L1675.00 456.31L1674.00 449.94L1673.00 443.80L1672.00 437.88L1671.00 432.21L1670.00 426.79L1669.00 421.64L1668.00 416.76L1667.00 412.17L1666.00 407.86L1665.00 403.86L1664.00 400.15L1663.00 396.74L1662.00 393.64L1661.00 390.84L1660.00 388.36L1659.00 386.18L1658.00 384.30L1657.00 382.74L1656.00 381.48L1655.00 380.53L1654.00 379.89L1653.00 379.56L1652.00 379.53L1651.00 379.82L1650.00 380.44L1649.00 381.39L1648.00 382.67L1647.00 384.28L1646.00 386.22L1645.00 388.50L1644.00 391.12L1643.00 394.08L1642.00 397.37L1641.00 401.01L1640.00 404.99L1639.00 409.31L1638.00 413.97L1637.00 418.96L1636.00 424.27L1635.00 429.91L1634.00 435.85L1633.00 442.08L1632.00 448.60L1631.00 455.39L1630.00 462.42L1629.00 469.69L1628.00 477.16L1627.00 484.82L1626.00 492.65L1625.00 500.61L1624.00 508.68L1623.00 516.85L1622.00 525.09L1621.00 533.36L1620.00 541.66L1619.00 549.95L1618.00 558.22L1617.00 566.45L1616.00 574.62L1615.00 582.71L1614.00 590.71L1613.00 598.62L1612.00 606.42L1611.00 614.10L1610.00 621.65L1609.00 629.09L1608.00 636.39L1607.00 643.56L1606.00 650.60L1605.00 657.52L1604.00 664.30L1603.00 670.96L1602.00 677.49L1601.00 683.91L1600.00 690.20L1599.00 696.37L1598.00 702.42L1597.00 708.35L1596.00 714.16L1595.00 719.84L1594.00 725.39L1593.00 730.80L1592.00 736.07L1591.00 741.18L1590.00 746.12L1589.00 750.88L1588.00 755.44L1587.00 759.79L1586.00 763.92L1585.00 767.81L1584.00 771.43L1583.00 774.77L1582.00 777.82L1581.00 780.55L1580.00 782.96L1579.00 785.02L1578.00 786.72L1577.00 788.06L1576.00 789.03L1575.00 789.61L1574.00 789.80L1573.00 789.64L1572.00 789.17L1571.00 788.38L1570.00 787.28L1569.00 785.87L1568.00 784.14L1567.00 782.10L1566.00 779.76L1565.00 777.12L1564.00 774.17L1563.00 770.92L1562.00 767.38L1561.00 763.55L1560.00 759.44L1559.00 755.04L1558.00 750.38L1557.00 745.44L1556.00 740.25L1555.00 734.81L1554.00 729.12L1553.00 723.19L1552.00 717.04L1551.00 710.68L1550.00 704.11L1549.00 697.34L1548.00 690.39L1547.00 683.26L1546.00 675.97L1545.00 668.54L1544.00 660.96L1543.00 653.26L1542.00 645.44L1541.00 637.52L1540.00 629.52L1539.00 621.43L1538.00 613.28L1537.00 605.08L1536.00 596.83L1535.00 588.56L1534.00 580.27L1533.00 571.97L1532.00 563.67L1531.00 555.39L1530.00 547.14L1529.00 538.92L1528.00 530.75L1527.00 522.63L1526.00 514.58L1525.00 506.60L1524.00 498.71L1523.00 490.91L1522.00 483.21L1521.00 475.63L1520.00 468.17L1519.00 460.85L1518.00 453.66L1517.00 446.63L1516.00 439.75L1515.00 433.05L1514.00 426.53L1513.00 420.20L1512.00 414.07L1511.00 408.15L1510.00 402.45L1509.00 396.99L1508.00 391.76L1507.00 386.79L1506.00 382.09L1505.00 377.66L1504.00 373.51L1503.00 369.65L1502.00 366.10L1501.00 362.85L1500.00 359.93L1499.00 357.32L1498.00 355.06L1497.00 353.13L1496.00 351.54L1495.00 350.30L1494.00 349.41L1493.00 348.88L1492.00 348.70L1491.00 348.88L1490.00 349.44L1489.00 350.36L1488.00 351.65L1487.00 353.31L1486.00 355.34L1485.00 357.72L1484.00 360.47L1483.00 363.57L1482.00 367.02L1481.00 370.82L1480.00 374.95L1479.00 379.42L1478.00 384.21L1477.00 389.31L1476.00 394.72L1475.00 400.42L1474.00 406.40L1473.00 412.65L1472.00 419.15L1471.00 425.89L1470.00 432.84L1469.00 440.01L1468.00 447.35L1467.00 454.87L1466.00 462.54L1465.00 470.34L1464.00 478.25L1463.00 486.26L1462.00 494.34L1461.00 502.49L1460.00 510.67L1459.00 518.89L1458.00 527.11L1457.00 535.33L1456.00 543.53L1455.00 551.70L1454.00 559.83L1453.00 567.91L1452.00 575.92L1451.00 583.87L1450.00 591.74L1449.00 599.52L1448.00 607.22L1447.00 614.82L1446.00 622.32L1445.00 629.72L1444.00 637.01L1443.00 644.19L1442.00 651.26L1441.00 658.21L1440.00 665.03L1439.00 671.74L1438.00 678.31L1437.00 684.75L1436.00 691.04L1435.00 697.19L1434.00 703.18L1433.00 709.01L1432.00 714.66L1431.00 720.13L1430.00 725.40L1429.00 730.46L1428.00 735.30L1427.00 739.91L1426.00 744.28L1425.00 748.38L1424.00 752.21L1423.00 755.75L1422.00 758.99L1421.00 761.91L1420.00 764.51L1419.00 766.77L1418.00 768.68L1417.00 770.24L1416.00 771.43L1415.00 772.26L1414.00 772.71L1413.00 772.78L1412.00 772.45L1411.00 771.69L1410.00 770.53L1409.00 768.95L1408.00 766.98L1407.00 764.61L1406.00 761.87L1405.00 758.77L1404.00 755.31L1403.00 751.51L1402.00 747.40L1401.00 742.99L1400.00 738.29L1399.00 733.32L1398.00 728.10L1397.00 722.65L1396.00 716.98L1395.00 711.10L1394.00 705.04L1393.00 698.81L1392.00 692.41L1391.00 685.87L1390.00 679.19L1389.00 672.39L1388.00 665.47L1387.00 658.44L1386.00 651.31L1385.00 644.08L1384.00 636.77L1383.00 629.38L1382.00 621.92L1381.00 614.38L1380.00 606.78L1379.00 599.12L1378.00 591.41L1377.00 583.65L1376.00 575.86L1375.00 568.02L1374.00 560.16L1373.00 552.29L1372.00 544.40L1371.00 536.51L1370.00 528.64L1369.00 520.78L1368.00 512.96L1367.00 505.19L1366.00 497.47L1365.00 489.82L1364.00 482.26L1363.00 474.80L1362.00 467.46L1361.00 460.25L1360.00 453.18L1359.00 446.26L1358.00 439.52L1357.00 432.97L1356.00 426.62L1355.00 420.48L1354.00 414.56L1353.00 408.88L1352.00 403.45L1351.00 398.26L1350.00 393.35L1349.00 388.70L1348.00 384.33L1347.00 380.25L1346.00 376.45L1345.00 372.95L1344.00 369.75L1343.00 366.84L1342.00 364.23L1341.00 361.93L1340.00 359.94L1339.00 358.25L1338.00 356.86L1337.00 355.78L1336.00 355.02L1335.00 354.55L1334.00 354.40L1333.00 354.59L1332.00 355.17L1331.00 356.14L1330.00 357.48L1329.00 359.21L1328.00 361.30L1327.00 363.75L1326.00 366.55L1325.00 369.69L1324.00 373.17L1323.00 376.96L1322.00 381.06L1321.00 385.46L1320.00 390.13L1319.00 395.08L1318.00 400.29L1317.00 405.73L1316.00 411.41L1315.00 417.31L1314.00 423.42L1313.00 429.72L1312.00 436.22L1311.00 442.89L1310.00 449.73L1309.00 456.72L1308.00 463.87L1307.00 471.16L1306.00 478.59L1305.00 486.14L1304.00 493.81L1303.00 501.60L1302.00 509.49L1301.00 517.48L1300.00 525.57L1299.00 533.73L1298.00 541.97L1297.00 550.28L1296.00 558.64L1295.00 567.05L1294.00 575.50L1293.00 583.96L1292.00 592.44L1291.00 600.92L1290.00 609.39L1289.00 617.82L1288.00 626.22L1287.00 634.55L1286.00 642.81L1285.00 650.98L1284.00 659.04L1283.00 666.98L1282.00 674.78L1281.00 682.43L1280.00 689.90L1279.00 697.19L1278.00 704.28L1277.00 711.16L1276.00 717.81L1275.00 724.21L1274.00 730.37L1273.00 736.26L1272.00 741.89L1271.00 747.23L1270.00 752.28L1269.00 757.04L1268.00 761.51L1267.00 765.66L1266.00 769.51L1265.00 773.05L1264.00 776.27L1263.00 779.18L1262.00 781.76L1261.00 784.03L1260.00 785.98L1259.00 787.62L1258.00 788.93L1257.00 789.92L1256.00 790.59L1255.00 790.94L1254.00 790.97L1253.00 790.57L1252.00 789.75L1251.00 788.49L1250.00 786.82L1249.00 784.74L1248.00 782.27L1247.00 779.41L1246.00 776.20L1245.00 772.64L1244.00 768.75L1243.00 764.57L1242.00 760.10L1241.00 755.38L1240.00 750.41L1239.00 745.23L1238.00 739.85L1237.00 734.29L1236.00 728.56L1235.00 722.69L1234.00 716.69L1233.00 710.56L1232.00 704.33L1231.00 698.00L1230.00 691.57L1229.00 685.06L1228.00 678.47L1227.00 671.79L1226.00 665.05L1225.00 658.22L1224.00 651.32L1223.00 644.35L1222.00 637.30L1221.00 630.17L1220.00 622.97L1219.00 615.68L1218.00 608.32L1217.00 600.87L1216.00 593.35L1215.00 585.75L1214.00 578.07L1213.00 570.33L1212.00 562.52L1211.00 554.66L1210.00 546.74L1209.00 538.79L1208.00 530.80L1207.00 522.81L1206.00 514.80L1205.00 506.82L1204.00 498.86L1203.00 490.95L1202.00 483.10L1201.00 475.33L1200.00 467.67L1199.00 460.13L1198.00 452.72L1197.00 445.48L1196.00 438.41L1195.00 431.53L1194.00 424.87L1193.00 418.43L1192.00 412.23L1191.00 406.29L1190.00 400.61L1189.00 395.22L1188.00 390.11L1187.00 385.29L1186.00 380.78L1185.00 376.57L1184.00 372.68L1183.00 369.11L1182.00 365.85L1181.00 362.92L1180.00 360.31L1179.00 358.02L1178.00 356.05L1177.00 354.41L1176.00 353.09L1175.00 352.09L1174.00 351.41L1173.00 351.06L1172.00 351.03L1171.00 351.37L1170.00 352.09L1169.00 353.20L1168.00 354.68L1167.00 356.55L1166.00 358.80L1165.00 361.43L1164.00 364.46L1163.00 367.86L1162.00 371.66L1161.00 375.83L1160.00 380.39L1159.00 385.32L1158.00 390.61L1157.00 396.26L1156.00 402.26L1155.00 408.59L1154.00 415.24L1153.00 422.19L1152.00 429.41L1151.00 436.89L1150.00 444.60L1149.00 452.51L1148.00 460.60L1147.00 468.84L1146.00 477.20L1145.00 485.64L1144.00 494.16L1143.00 502.70L1142.00 511.25L1141.00 519.79L1140.00 528.28L1139.00 536.71L1138.00 545.06L1137.00 553.31L1136.00 561.44L1135.00 569.46L1134.00 577.34L1133.00 585.09L1132.00 592.69L1131.00 600.15L1130.00 607.47L1129.00 614.65L1128.00 621.70L1127.00 628.62L1126.00 635.42L1125.00 642.10L1124.00 648.69L1123.00 655.17L1122.00 661.56L1121.00 667.86L1120.00 674.09L1119.00 680.24L1118.00 686.32L1117.00 692.33L1116.00 698.25L1115.00 704.10L1114.00 709.86L1113.00 715.52L1112.00 721.07L1111.00 726.49L1110.00 731.77L1109.00 736.88L1108.00 741.80L1107.00 746.51L1106.00 750.98L1105.00 755.18L1104.00 759.08L1103.00 762.67L1102.00 765.91L1101.00 768.77L1100.00 771.24L1099.00 773.29L1098.00 774.90L1097.00 776.06L1096.00 776.77L1095.00 777.00L1094.00 776.83L1093.00 776.34L1092.00 775.51L1091.00 774.35L1090.00 772.87L1089.00 771.06L1088.00 768.93L1087.00 766.48L1086.00 763.72L1085.00 760.65L1084.00 757.29L1083.00 753.62L1082.00 749.68L1081.00 745.45L1080.00 740.95L1079.00 736.20L1078.00 731.20L1077.00 725.96L1076.00 720.49L1075.00 714.82L1074.00 708.95L1073.00 702.89L1072.00 696.66L1071.00 690.27L1070.00 683.74L1069.00 677.08L1068.00 670.31L1067.00 663.44L1066.00 656.48L1065.00 649.45L1064.00 642.35L1063.00 635.20L1062.00 628.01L1061.00 620.80L1060.00 613.56L1059.00 606.31L1058.00 599.05L1057.00 591.79L1056.00 584.54L1055.00 577.29L1054.00 570.07L1053.00 562.86L1052.00 555.66L1051.00 548.49L1050.00 541.35L1049.00 534.23L1048.00 527.13L1047.00 520.07L1046.00 513.03L1045.00 506.03L1044.00 499.06L1043.00 492.14L1042.00 485.26L1041.00 478.43L1040.00 471.66L1039.00 464.96L1038.00 458.33L1037.00 451.79L1036.00 445.36L1035.00 439.04L1034.00 432.86L1033.00 426.83L1032.00 420.96L1031.00 415.29L1030.00 409.83L1029.00 404.61L1028.00 399.64L1027.00 394.95L1026.00 390.57L1025.00 386.51L1024.00 382.80L1023.00 379.46L1022.00 376.51L1021.00 373.97L1020.00 371.84L1019.00 370.16L1018.00 368.92L1017.00 368.13L1016.00 367.81L1015.00 367.92L1014.00 368.43L1013.00 369.31L1012.00 370.58L1011.00 372.23L1010.00 374.26L1009.00 376.65L1008.00 379.41L1007.00 382.53L1006.00 385.99L1005.00 389.79L1004.00 393.91L1003.00 398.36L1002.00 403.10L1001.00 408.14L1000.00 413.46L999.00 419.04L998.00 424.87L997.00 430.94L996.00 437.22L995.00 443.71L994.00 450.39L993.00 457.24L992.00 464.24L991.00 471.39L990.00 478.66L989.00 486.04L988.00 493.52L987.00 501.08L986.00 508.71L985.00 516.40L984.00 524.13L983.00 531.89L982.00 539.68L981.00 547.48L980.00 555.28L979.00 563.08L978.00 570.87L977.00 578.64L976.00 586.38L975.00 594.10L974.00 601.79L973.00 609.43L972.00 617.04L971.00 624.59L970.00 632.10L969.00 639.55L968.00 646.95L967.00 654.27L966.00 661.53L965.00 668.72L964.00 675.82L963.00 682.84L962.00 689.76L961.00 696.57L960.00 703.27L959.00 709.84L958.00 716.28L957.00 722.56L956.00 728.68L955.00 734.62L954.00 740.36L953.00 745.89L952.00 751.19L951.00 756.25L950.00 761.04L949.00 765.54L948.00 769.75L947.00 773.64L946.00 777.19L945.00 780.40L944.00 783.23L943.00 785.69L942.00 787.76L941.00 789.43L940.00 790.69L939.00 791.53L938.00 791.95L937.00 791.96L936.00 791.60L935.00 790.88L934.00 789.81L933.00 788.39L932.00 786.63L931.00 784.53L930.00 782.10L929.00 779.35L928.00 776.28L927.00 772.92L926.00 769.27L925.00 765.34L924.00 761.15L923.00 756.71L922.00 752.02L921.00 747.11L920.00 741.98L919.00 736.64L918.00 731.12L917.00 725.41L916.00 719.53L915.00 713.49L914.00 707.30L913.00 700.97L912.00 694.50L911.00 687.91L910.00 681.19L909.00 674.36L908.00 667.43L907.00 660.39L906.00 653.26L905.00 646.03L904.00 638.72L903.00 631.33L902.00 623.86L901.00 616.32L900.00 608.72L899.00 601.05L898.00 593.33L897.00 585.57L896.00 577.76L895.00 569.92L894.00 562.05L893.00 554.16L892.00 546.27L891.00 538.38L890.00 530.50L889.00 522.64L888.00 514.82L887.00 507.05L886.00 499.33L885.00 491.69L884.00 484.13L883.00 476.67L882.00 469.32L881.00 462.10L880.00 455.02L879.00 448.10L878.00 441.34L877.00 434.77L876.00 428.40L875.00 422.23L874.00 416.29L873.00 410.57L872.00 405.11L871.00 399.90L870.00 394.96L869.00 390.29L868.00 385.91L867.00 381.82L866.00 378.03L865.00 374.55L864.00 371.38L863.00 368.54L862.00 366.01L861.00 363.82L860.00 361.95L859.00 360.43L858.00 359.23L857.00 358.38L856.00 357.87L855.00 357.70L854.00 357.86L853.00 358.35L852.00 359.17L851.00 360.32L850.00 361.79L849.00 363.59L848.00 365.73L847.00 368.19L846.00 370.99L845.00 374.11L844.00 377.56L843.00 381.34L842.00 385.44L841.00 389.86L840.00 394.59L839.00 399.62L838.00 404.94L837.00 410.54L836.00 416.41L835.00 422.53L834.00 428.88L833.00 435.46L832.00 442.23L831.00 449.17L830.00 456.27L829.00 463.50L828.00 470.85L827.00 478.28L826.00 485.77L825.00 493.31L824.00 500.87L823.00 508.44L822.00 515.99L821.00 523.51L820.00 530.99L819.00 538.42L818.00 545.77L817.00 553.05L816.00 560.25L815.00 567.36L814.00 574.39L813.00 581.32L812.00 588.17L811.00 594.94L810.00 601.62L809.00 608.22L808.00 614.75L807.00 621.21L806.00 627.60L805.00 633.94L804.00 640.22L803.00 646.45L802.00 652.62L801.00 658.75L800.00 664.82L799.00 670.84L798.00 676.79L797.00 682.68L796.00 688.48L795.00 694.18L794.00 699.77L793.00 705.24L792.00 710.55L791.00 715.69L790.00 720.63L789.00 725.34L788.00 729.80L787.00 733.98L786.00 737.85L785.00 741.39L784.00 744.56L783.00 747.35L782.00 749.73L781.00 751.67L780.00 753.17L779.00 754.21L778.00 754.78L777.00 754.89L776.00 754.64L775.00 754.08L774.00 753.22L773.00 752.05L772.00 750.58L771.00 748.81L770.00 746.75L769.00 744.39L768.00 741.75L767.00 738.83L766.00 735.64L765.00 732.19L764.00 728.48L763.00 724.51L762.00 720.31L761.00 715.88L760.00 711.23L759.00 706.36L758.00 701.29L757.00 696.04L756.00 690.60L755.00 684.99L754.00 679.23L753.00 673.31L752.00 667.26L751.00 661.08L750.00 654.79L749.00 648.39L748.00 641.90L747.00 635.33L746.00 628.68L745.00 621.96L744.00 615.19L743.00 608.37L742.00 601.52L741.00 594.64L740.00 587.73L739.00 580.82L738.00 573.89L737.00 566.97L736.00 560.06L735.00 553.17L734.00 546.30L733.00 539.45L732.00 532.64L731.00 525.88L730.00 519.17L729.00 512.51L728.00 505.91L727.00 499.38L726.00 492.94L725.00 486.57L724.00 480.30L723.00 474.13L722.00 468.06L721.00 462.12L720.00 456.30L719.00 450.62L718.00 445.08L717.00 439.70L716.00 434.49L715.00 429.45L714.00 424.61L713.00 419.96L712.00 415.52L711.00 411.31L710.00 407.32L709.00 403.58L708.00 400.10L707.00 396.88L706.00 393.93L705.00 391.27L704.00 388.89L703.00 386.82L702.00 385.06L701.00 383.60L700.00 382.47L699.00 381.65L698.00 381.16L697.00 381.00L696.00 381.20L695.00 381.80L694.00 382.80L693.00 384.19L692.00 385.96L691.00 388.12L690.00 390.64L689.00 393.53L688.00 396.76L687.00 400.34L686.00 404.23L685.00 408.43L684.00 412.93L683.00 417.70L682.00 422.74L681.00 428.02L680.00 433.53L679.00 439.26L678.00 445.18L677.00 451.28L676.00 457.55L675.00 463.98L674.00 470.54L673.00 477.22L672.00 484.02L671.00 490.91L670.00 497.89L669.00 504.95L668.00 512.07L667.00 519.25L666.00 526.48L665.00 533.74L664.00 541.04L663.00 548.36L662.00 555.70L661.00 563.04L660.00 570.39L659.00 577.74L658.00 585.08L657.00 592.40L656.00 599.71L655.00 606.99L654.00 614.23L653.00 621.44L652.00 628.61L651.00 635.72L650.00 642.77L649.00 649.76L648.00 656.67L647.00 663.50L646.00 670.24L645.00 676.87L644.00 683.40L643.00 689.80L642.00 696.07L641.00 702.20L640.00 708.18L639.00 713.99L638.00 719.61L637.00 725.05L636.00 730.29L635.00 735.31L634.00 740.10L633.00 744.65L632.00 748.95L631.00 752.98L630.00 756.74L629.00 760.21L628.00 763.39L627.00 766.26L626.00 768.81L625.00 771.04L624.00 772.94L623.00 774.50L622.00 775.72L621.00 776.60L620.00 777.12L619.00 777.30L618.00 777.15L617.00 776.70L616.00 775.95L615.00 774.90L614.00 773.56L613.00 771.93L612.00 770.01L611.00 767.81L610.00 765.33L609.00 762.59L608.00 759.58L607.00 756.32L606.00 752.82L605.00 749.07L604.00 745.10L603.00 740.91L602.00 736.50L601.00 731.89L600.00 727.09L599.00 722.10L598.00 716.94L597.00 711.61L596.00 706.12L595.00 700.48L594.00 694.71L593.00 688.80L592.00 682.77L591.00 676.62L590.00 670.36L589.00 664.01L588.00 657.55L587.00 651.02L586.00 644.40L585.00 637.71L584.00 630.95L583.00 624.13L582.00 617.26L581.00 610.34L580.00 603.38L579.00 596.38L578.00 589.36L577.00 582.31L576.00 575.24L575.00 568.17L574.00 561.10L573.00 554.02L572.00 546.97L571.00 539.93L570.00 532.92L569.00 525.95L568.00 519.02L567.00 512.14L566.00 505.33L565.00 498.59L564.00 491.94L563.00 485.38L562.00 478.92L561.00 472.58L560.00 466.36L559.00 460.28L558.00 454.35L557.00 448.59L556.00 442.99L555.00 437.58L554.00 432.36L553.00 427.35L552.00 422.55L551.00 417.99L550.00 413.67L549.00 409.60L548.00 405.79L547.00 402.26L546.00 399.00L545.00 396.03L544.00 393.37L543.00 391.00L542.00 388.95L541.00 387.21L540.00 385.79L539.00 384.70L538.00 383.94L537.00 383.51L536.00 383.41L535.00 383.63L534.00 384.19L533.00 385.06L532.00 386.25L531.00 387.76L530.00 389.57L529.00 391.68L528.00 394.08L527.00 396.77L526.00 399.72L525.00 402.95L524.00 406.42L523.00 410.14L522.00 414.08L521.00 418.25L520.00 422.63L519.00 427.21L518.00 431.98L517.00 436.94L516.00 442.06L515.00 447.36L514.00 452.81L513.00 458.40L512.00 464.15L511.00 470.03L510.00 476.04L509.00 482.18L508.00 488.44L507.00 494.81L506.00 501.29L505.00 507.87L504.00 514.55L503.00 521.32L502.00 528.17L501.00 535.09L500.00 542.08L499.00 549.12L498.00 556.20L497.00 563.32L496.00 570.46L495.00 577.60L494.00 584.74L493.00 591.86L492.00 598.94L491.00 605.97L490.00 612.93L489.00 619.81L488.00 626.59L487.00 633.25L486.00 639.77L485.00 646.15L484.00 652.37L483.00 658.41L482.00 664.26L481.00 669.91L480.00 675.34L479.00 680.55L478.00 685.53L477.00 690.27L476.00 694.76L475.00 699.00L474.00 702.99L473.00 706.73L472.00 710.20L471.00 713.42L470.00 716.37L469.00 719.08L468.00 721.52L467.00 723.71L466.00 725.65L465.00 727.34L464.00 728.79L463.00 729.98L462.00 730.94L461.00 731.66L460.00 732.13L459.00 732.37L458.00 732.37L457.00 732.16L456.00 731.74L455.00 731.10L454.00 730.26L453.00 729.19L452.00 727.91L451.00 726.41L450.00 724.69L449.00 722.74L448.00 720.57L447.00 718.16L446.00 715.53L445.00 712.67L444.00 709.57L443.00 706.23L442.00 702.67L441.00 698.87L440.00 694.83L439.00 690.57L438.00 686.08L437.00 681.37L436.00 676.44L435.00 671.30L434.00 665.96L433.00 660.43L432.00 654.71L431.00 648.82L430.00 642.77L429.00 636.57L428.00 630.24L427.00 623.79L426.00 617.23L425.00 610.59L424.00 603.87L423.00 597.10L422.00 590.28L421.00 583.44L420.00 576.59L419.00 569.75L418.00 562.93L417.00 556.15L416.00 549.41L415.00 542.74L414.00 536.15L413.00 529.64L412.00 523.24L411.00 516.94L410.00 510.77L409.00 504.73L408.00 498.82L407.00 493.05L406.00 487.44L405.00 481.99L404.00 476.70L403.00 471.58L402.00 466.63L401.00 461.86L400.00 457.27L399.00 452.86L398.00 448.64L397.00 444.62L396.00 440.78L395.00 437.15L394.00 433.71L393.00 430.47L392.00 427.44L391.00 424.62L390.00 422.00L389.00 419.59L388.00 417.39L387.00 415.41L386.00 413.65L385.00 412.10L384.00 410.77L383.00 409.65L382.00 408.76L381.00 408.10L380.00 407.65L379.00 407.43L378.00 407.44L377.00 407.78L376.00 408.45L375.00 409.44L374.00 410.77L373.00 412.42L372.00 414.38L371.00 416.66L370.00 419.23L369.00 422.09L368.00 425.24L367.00 428.66L366.00 432.34L365.00 436.27L364.00 440.43L363.00 444.83L362.00 449.43L361.00 454.25L360.00 459.25L359.00 464.43L358.00 469.79L357.00 475.30L356.00 480.96L355.00 486.77L354.00 492.70L353.00 498.75L352.00 504.91L351.00 511.17L350.00 517.53L349.00 523.97L348.00 530.48L347.00 537.07L346.00 543.71L345.00 550.41L344.00 557.15L343.00 563.92L342.00 570.71L341.00 577.53L340.00 584.35L339.00 591.16L338.00 597.97L337.00 604.74L336.00 611.49L335.00 618.19L334.00 624.83L333.00 631.41L332.00 637.91L331.00 644.32L330.00 650.63L329.00 656.83L328.00 662.90L327.00 668.84L326.00 674.63L325.00 680.27L324.00 685.75L323.00 691.05L322.00 696.16L321.00 701.09L320.00 705.82L319.00 710.34L318.00 714.65L317.00 718.75L316.00 722.62L315.00 726.26L314.00 729.68L313.00 732.86L312.00 735.81L311.00 738.52L310.00 740.99L309.00 743.22L308.00 745.21L307.00 746.95L306.00 748.46L305.00 749.72L304.00 750.74L303.00 751.51L302.00 752.05L301.00 752.34L300.00 752.39L299.00 752.22L298.00 751.83L297.00 751.24L296.00 750.42L295.00 749.40L294.00 748.15L293.00 746.70L292.00 745.03L291.00 743.14L290.00 741.04L289.00 738.73L288.00 736.20L287.00 733.46L286.00 730.51L285.00 727.35L284.00 723.98L283.00 720.40L282.00 716.61L281.00 712.62L280.00 708.43L279.00 704.04L278.00 699.46L277.00 694.69L276.00 689.73L275.00 684.60L274.00 679.29L273.00 673.82L272.00 668.19L271.00 662.41L270.00 656.48L269.00 650.43L268.00 644.24L267.00 637.95L266.00 631.55L265.00 625.06L264.00 618.48L263.00 611.84L262.00 605.14L261.00 598.40L260.00 591.62L259.00 584.83L258.00 578.03L257.00 571.23L256.00 564.46L255.00 557.72L254.00 551.02L253.00 544.38L252.00 537.81L251.00 531.33L250.00 524.93L249.00 518.65L248.00 512.48L247.00 506.43L246.00 500.52L245.00 494.76L244.00 489.15L243.00 483.70L242.00 478.43L241.00 473.33L240.00 468.41Z" fill="#e0e0e0" stroke="none"/>
<path d="M240.00 466.38L241.00 471.29L242.00 476.39L243.00 481.66L244.00 487.10L245.00 492.71L246.00 498.47L247.00 504.38L248.00 510.42L249.00 516.58L250.00 522.87L251.00 529.26L252.00 535.74L253.00 542.30L254.00 548.94L255.00 555.63L256.00 562.37L257.00 569.14L258.00 575.93L259.00 582.73L260.00 589.52L261.00 596.29L262.00 603.03L263.00 609.72L264.00 616.36L265.00 622.93L266.00 629.42L267.00 635.82L268.00 642.11L269.00 648.29L270.00 654.34L271.00 660.26L272.00 666.04L273.00 671.67L274.00 677.14L275.00 682.44L276.00 687.57L277.00 692.52L278.00 697.29L279.00 701.87L280.00 706.26L281.00 710.44L282.00 714.43L283.00 718.22L284.00 721.79L285.00 725.17L286.00 728.33L287.00 731.28L288.00 734.01L289.00 736.54L290.00 738.85L291.00 740.95L292.00 742.83L293.00 744.50L294.00 745.96L295.00 747.20L296.00 748.22L297.00 749.04L298.00 749.63L299.00 750.02L300.00 750.19L301.00 750.14L302.00 749.85L303.00 749.32L304.00 748.54L305.00 747.52L306.00 746.26L307.00 744.76L308.00 743.01L309.00 741.02L310.00 738.80L311.00 736.33L312.00 733.62L313.00 730.67L314.00 727.49L315.00 724.08L316.00 720.44L317.00 716.57L318.00 712.48L319.00 708.17L320.00 703.65L321.00 698.92L322.00 694.00L323.00 688.89L324.00 683.59L325.00 678.12L326.00 672.48L327.00 666.69L328.00 660.76L329.00 654.69L330.00 648.49L331.00 642.19L332.00 635.78L333.00 629.29L334.00 622.71L335.00 616.07L336.00 609.38L337.00 602.64L338.00 595.86L339.00 589.06L340.00 582.25L341.00 575.43L342.00 568.63L343.00 561.83L344.00 555.07L345.00 548.33L346.00 541.64L347.00 535.00L348.00 528.42L349.00 521.90L350.00 515.47L351.00 509.12L352.00 502.86L353.00 496.70L354.00 490.65L355.00 484.72L356.00 478.93L357.00 473.27L358.00 467.76L359.00 462.40L360.00 457.22L361.00 452.22L362.00 447.41L363.00 442.81L364.00 438.42L365.00 434.25L366.00 430.33L367.00 426.65L368.00 423.23L369.00 420.09L370.00 417.22L371.00 414.65L372.00 412.38L373.00 410.42L374.00 408.77L375.00 407.44L376.00 406.44L377.00 405.78L378.00 405.44L379.00 405.43L380.00 405.65L381.00 406.10L382.00 406.76L383.00 407.65L384.00 408.77L385.00 410.10L386.00 411.65L387.00 413.41L388.00 415.39L389.00 417.59L390.00 420.00L391.00 422.62L392.00 425.44L393.00 428.47L394.00 431.71L395.00 435.15L396.00 438.78L397.00 442.62L398.00 446.64L399.00 450.86L400.00 455.27L401.00 459.86L402.00 464.63L403.00 469.58L404.00 474.70L405.00 479.99L406.00 485.44L407.00 491.05L408.00 496.82L409.00 502.73L410.00 508.77L411.00 514.94L412.00 521.24L413.00 527.64L414.00 534.15L415.00 540.74L416.00 547.41L417.00 554.15L418.00 560.93L419.00 567.75L420.00 574.59L421.00 581.44L422.00 588.28L423.00 595.10L424.00 601.87L425.00 608.59L426.00 615.23L427.00 621.79L428.00 628.24L429.00 634.57L430.00 640.77L431.00 646.82L432.00 652.71L433.00 658.43L434.00 663.96L435.00 669.30L436.00 674.44L437.00 679.37L438.00 684.08L439.00 688.57L440.00 692.83L441.00 696.87L442.00 700.67L443.00 704.23L444.00 707.57L445.00 710.67L446.00 713.53L447.00 716.16L448.00 718.57L449.00 720.74L450.00 722.69L451.00 724.41L452.00 725.91L453.00 727.19L454.00 728.26L455.00 729.10L456.00 729.74L457.00 730.16L458.00 730.37L459.00 730.37L460.00 730.13L461.00 729.64L462.00 728.92L463.00 727.95L464.00 726.74L465.00 725.28L466.00 723.57L467.00 721.61L468.00 719.39L469.00 716.92L470.00 714.19L471.00 711.20L472.00 707.95L473.00 704.44L474.00 700.67L475.00 696.65L476.00 692.36L477.00 687.82L478.00 683.04L479.00 678.02L480.00 672.76L481.00 667.27L482.00 661.57L483.00 655.67L484.00 649.57L485.00 643.30L486.00 636.86L487.00 630.28L488.00 623.56L489.00 616.72L490.00 609.78L491.00 602.76L492.00 595.67L493.00 588.52L494.00 581.34L495.00 574.14L496.00 566.93L497.00 559.73L498.00 552.54L499.00 545.39L500.00 538.29L501.00 531.24L502.00 524.26L503.00 517.34L504.00 510.51L505.00 503.78L506.00 497.13L507.00 490.59L508.00 484.16L509.00 477.84L510.00 471.65L511.00 465.58L512.00 459.65L513.00 453.85L514.00 448.20L515.00 442.70L516.00 437.36L517.00 432.19L518.00 427.19L519.00 422.38L520.00 417.76L521.00 413.34L522.00 409.14L523.00 405.16L524.00 401.41L525.00 397.91L526.00 394.66L527.00 391.67L528.00 388.97L529.00 386.54L530.00 384.42L531.00 382.59L532.00 381.07L533.00 379.87L534.00 378.99L535.00 378.44L536.00 378.21L537.00 378.31L538.00 378.74L539.00 379.50L540.00 380.58L541.00 382.00L542.00 383.73L543.00 385.78L544.00 388.13L545.00 390.80L546.00 393.75L547.00 397.00L548.00 400.53L549.00 404.32L550.00 408.38L551.00 412.69L552.00 417.23L553.00 422.01L554.00 427.00L555.00 432.20L556.00 437.60L557.00 443.18L558.00 448.93L559.00 454.84L560.00 460.90L561.00 467.09L562.00 473.41L563.00 479.85L564.00 486.39L565.00 493.02L566.00 499.73L567.00 506.52L568.00 513.37L569.00 520.27L570.00 527.22L571.00 534.20L572.00 541.21L573.00 548.25L574.00 555.29L575.00 562.34L576.00 569.39L577.00 576.42L578.00 583.45L579.00 590.44L580.00 597.41L581.00 604.35L582.00 611.24L583.00 618.09L584.00 624.88L585.00 631.61L586.00 638.28L587.00 644.87L588.00 651.38L589.00 657.81L590.00 664.15L591.00 670.38L592.00 676.50L593.00 682.51L594.00 688.40L595.00 694.15L596.00 699.77L597.00 705.24L598.00 710.55L599.00 715.69L600.00 720.66L601.00 725.45L602.00 730.04L603.00 734.43L604.00 738.61L605.00 742.57L606.00 746.30L607.00 749.80L608.00 753.04L609.00 756.04L610.00 758.77L611.00 761.24L612.00 763.43L613.00 765.34L614.00 766.97L615.00 768.31L616.00 769.35L617.00 770.10L618.00 770.55L619.00 770.70L620.00 770.53L621.00 770.00L622.00 769.13L623.00 767.91L624.00 766.36L625.00 764.47L626.00 762.25L627.00 759.71L628.00 756.85L629.00 753.69L630.00 750.23L631.00 746.49L632.00 742.48L633.00 738.20L634.00 733.67L635.00 728.90L636.00 723.90L637.00 718.69L638.00 713.28L639.00 707.68L640.00 701.90L641.00 695.95L642.00 689.85L643.00 683.61L644.00 677.24L645.00 670.75L646.00 664.15L647.00 657.44L648.00 650.65L649.00 643.77L650.00 636.82L651.00 629.80L652.00 622.73L653.00 615.60L654.00 608.43L655.00 601.22L656.00 593.98L657.00 586.72L658.00 579.43L659.00 572.13L660.00 564.82L661.00 557.51L662.00 550.20L663.00 542.90L664.00 535.62L665.00 528.36L666.00 521.13L667.00 513.94L668.00 506.80L669.00 499.71L670.00 492.68L671.00 485.74L672.00 478.88L673.00 472.11L674.00 465.46L675.00 458.93L676.00 452.53L677.00 446.29L678.00 440.21L679.00 434.32L680.00 428.62L681.00 423.13L682.00 417.87L683.00 412.86L684.00 408.10L685.00 403.62L686.00 399.44L687.00 395.56L688.00 392.00L689.00 388.78L690.00 385.91L691.00 383.39L692.00 381.24L693.00 379.47L694.00 378.09L695.00 377.10L696.00 376.50L697.00 376.30L698.00 376.46L699.00 376.95L700.00 377.76L701.00 378.89L702.00 380.33L703.00 382.09L704.00 384.15L705.00 386.50L706.00 389.15L707.00 392.08L708.00 395.28L709.00 398.75L710.00 402.46L711.00 406.42L712.00 410.61L713.00 415.02L714.00 419.64L715.00 424.45L716.00 429.46L717.00 434.64L718.00 439.98L719.00 445.48L720.00 451.12L721.00 456.90L722.00 462.81L723.00 468.83L724.00 474.96L725.00 481.19L726.00 487.51L727.00 493.91L728.00 500.39L729.00 506.94L730.00 513.55L731.00 520.22L732.00 526.94L733.00 533.70L734.00 540.49L735.00 547.32L736.00 554.16L737.00 561.02L738.00 567.90L739.00 574.77L740.00 581.64L741.00 588.49L742.00 595.33L743.00 602.13L744.00 608.90L745.00 615.63L746.00 622.29L747.00 628.90L748.00 635.43L749.00 641.88L750.00 648.23L751.00 654.48L752.00 660.62L753.00 666.63L754.00 672.50L755.00 678.23L756.00 683.80L757.00 689.20L758.00 694.43L759.00 699.46L760.00 704.29L761.00 708.92L762.00 713.32L763.00 717.50L764.00 721.43L765.00 725.12L766.00 728.56L767.00 731.73L768.00 734.63L769.00 737.25L770.00 739.59L771.00 741.65L772.00 743.41L773.00 744.87L774.00 746.03L775.00 746.89L776.00 747.44L777.00 747.69L778.00 747.58L779.00 747.02L780.00 745.98L781.00 744.48L782.00 742.54L783.00 740.17L784.00 737.39L785.00 734.22L786.00 730.69L787.00 726.83L788.00 722.65L789.00 718.20L790.00 713.50L791.00 708.57L792.00 703.45L793.00 698.15L794.00 692.70L795.00 687.12L796.00 681.43L797.00 675.65L798.00 669.78L799.00 663.84L800.00 657.84L801.00 651.79L802.00 645.68L803.00 639.52L804.00 633.31L805.00 627.05L806.00 620.74L807.00 614.36L808.00 607.92L809.00 601.42L810.00 594.83L811.00 588.18L812.00 581.43L813.00 574.61L814.00 567.69L815.00 560.69L816.00 553.60L817.00 546.42L818.00 539.16L819.00 531.83L820.00 524.43L821.00 516.97L822.00 509.47L823.00 501.94L824.00 494.40L825.00 486.85L826.00 479.34L827.00 471.86L828.00 464.45L829.00 457.13L830.00 449.92L831.00 442.83L832.00 435.91L833.00 429.16L834.00 422.60L835.00 416.26L836.00 410.16L837.00 404.30L838.00 398.71L839.00 393.41L840.00 388.39L841.00 383.67L842.00 379.27L843.00 375.18L844.00 371.41L845.00 367.97L846.00 364.85L847.00 362.06L848.00 359.61L849.00 357.48L850.00 355.68L851.00 354.21L852.00 353.07L853.00 352.25L854.00 351.76L855.00 351.60L856.00 351.77L857.00 352.28L858.00 353.13L859.00 354.31L860.00 355.83L861.00 357.68L862.00 359.86L863.00 362.37L864.00 365.20L865.00 368.34L866.00 371.80L867.00 375.56L868.00 379.63L869.00 383.98L870.00 388.62L871.00 393.53L872.00 398.70L873.00 404.13L874.00 409.80L875.00 415.71L876.00 421.84L877.00 428.17L878.00 434.70L879.00 441.41L880.00 448.28L881.00 455.31L882.00 462.49L883.00 469.78L884.00 477.19L885.00 484.70L886.00 492.29L887.00 499.95L888.00 507.67L889.00 515.44L890.00 523.24L891.00 531.07L892.00 538.90L893.00 546.74L894.00 554.56L895.00 562.37L896.00 570.16L897.00 577.91L898.00 585.62L899.00 593.28L900.00 600.89L901.00 608.43L902.00 615.92L903.00 623.33L904.00 630.67L905.00 637.92L906.00 645.09L907.00 652.18L908.00 659.16L909.00 666.05L910.00 672.83L911.00 679.49L912.00 686.04L913.00 692.46L914.00 698.75L915.00 704.90L916.00 710.89L917.00 716.73L918.00 722.40L919.00 727.89L920.00 733.18L921.00 738.28L922.00 743.16L923.00 747.82L924.00 752.23L925.00 756.40L926.00 760.30L927.00 763.93L928.00 767.27L929.00 770.32L930.00 773.05L931.00 775.47L932.00 777.56L933.00 779.31L934.00 780.72L935.00 781.79L936.00 782.50L937.00 782.86L938.00 782.85L939.00 782.42L940.00 781.57L941.00 780.30L942.00 778.62L943.00 776.54L944.00 774.06L945.00 771.20L946.00 767.97L947.00 764.38L948.00 760.46L949.00 756.22L950.00 751.67L951.00 746.84L952.00 741.75L953.00 736.40L954.00 730.82L955.00 725.03L956.00 719.03L957.00 712.86L958.00 706.52L959.00 700.02L960.00 693.39L961.00 686.63L962.00 679.75L963.00 672.76L964.00 665.68L965.00 658.50L966.00 651.24L967.00 643.91L968.00 636.51L969.00 629.04L970.00 621.51L971.00 613.93L972.00 606.29L973.00 598.61L974.00 590.89L975.00 583.12L976.00 575.32L977.00 567.50L978.00 559.65L979.00 551.78L980.00 543.90L981.00 536.02L982.00 528.14L983.00 520.28L984.00 512.44L985.00 504.64L986.00 496.87L987.00 489.17L988.00 481.54L989.00 473.99L990.00 466.54L991.00 459.20L992.00 451.99L993.00 444.92L994.00 438.01L995.00 431.27L996.00 424.72L997.00 418.38L998.00 412.26L999.00 406.38L1000.00 400.75L1001.00 395.39L1002.00 390.31L1003.00 385.52L1004.00 381.04L1005.00 376.88L1006.00 373.04L1007.00 369.55L1008.00 366.41L1009.00 363.63L1010.00 361.22L1011.00 359.17L1012.00 357.51L1013.00 356.23L1014.00 355.33L1015.00 354.82L1016.00 354.71L1017.00 355.03L1018.00 355.81L1019.00 357.05L1020.00 358.73L1021.00 360.85L1022.00 363.39L1023.00 366.33L1024.00 369.66L1025.00 373.36L1026.00 377.41L1027.00 381.78L1028.00 386.45L1029.00 391.40L1030.00 396.61L1031.00 402.05L1032.00 407.71L1033.00 413.55L1034.00 419.56L1035.00 425.72L1036.00 432.02L1037.00 438.43L1038.00 444.94L1039.00 451.54L1040.00 458.22L1041.00 464.97L1042.00 471.77L1043.00 478.62L1044.00 485.52L1045.00 492.45L1046.00 499.43L1047.00 506.43L1048.00 513.47L1049.00 520.53L1050.00 527.62L1051.00 534.74L1052.00 541.88L1053.00 549.04L1054.00 556.21L1055.00 563.41L1056.00 570.62L1057.00 577.84L1058.00 585.07L1059.00 592.29L1060.00 599.52L1061.00 606.72L1062.00 613.91L1063.00 621.07L1064.00 628.18L1065.00 635.25L1066.00 642.26L1067.00 649.19L1068.00 656.03L1069.00 662.78L1070.00 669.41L1071.00 675.91L1072.00 682.27L1073.00 688.47L1074.00 694.51L1075.00 700.36L1076.00 706.01L1077.00 711.45L1078.00 716.67L1079.00 721.65L1080.00 726.39L1081.00 730.87L1082.00 735.08L1083.00 739.01L1084.00 742.66L1085.00 746.02L1086.00 749.07L1087.00 751.82L1088.00 754.26L1089.00 756.38L1090.00 758.18L1091.00 759.66L1092.00 760.81L1093.00 761.64L1094.00 762.13L1095.00 762.30L1096.00 762.07L1097.00 761.37L1098.00 760.21L1099.00 758.61L1100.00 756.57L1101.00 754.12L1102.00 751.28L1103.00 748.06L1104.00 744.50L1105.00 740.62L1106.00 736.45L1107.00 732.01L1108.00 727.34L1109.00 722.45L1110.00 717.38L1111.00 712.15L1112.00 706.77L1113.00 701.27L1114.00 695.66L1115.00 689.95L1116.00 684.15L1117.00 678.28L1118.00 672.33L1119.00 666.31L1120.00 660.22L1121.00 654.05L1122.00 647.81L1123.00 641.48L1124.00 635.06L1125.00 628.55L1126.00 621.93L1127.00 615.20L1128.00 608.35L1129.00 601.37L1130.00 594.26L1131.00 587.01L1132.00 579.62L1133.00 572.09L1134.00 564.41L1135.00 556.60L1136.00 548.66L1137.00 540.59L1138.00 532.41L1139.00 524.13L1140.00 515.77L1141.00 507.35L1142.00 498.88L1143.00 490.40L1144.00 481.92L1145.00 473.47L1146.00 465.08L1147.00 456.79L1148.00 448.61L1149.00 440.58L1150.00 432.72L1151.00 425.07L1152.00 417.64L1153.00 410.47L1154.00 403.58L1155.00 396.97L1156.00 390.69L1157.00 384.73L1158.00 379.12L1159.00 373.86L1160.00 368.97L1161.00 364.45L1162.00 360.30L1163.00 356.54L1164.00 353.16L1165.00 350.16L1166.00 347.54L1167.00 345.31L1168.00 343.45L1169.00 341.98L1170.00 340.89L1171.00 340.17L1172.00 339.83L1173.00 339.86L1174.00 340.21L1175.00 340.89L1176.00 341.90L1177.00 343.22L1178.00 344.87L1179.00 346.85L1180.00 349.15L1181.00 351.77L1182.00 354.72L1183.00 357.99L1184.00 361.58L1185.00 365.48L1186.00 369.70L1187.00 374.24L1188.00 379.07L1189.00 384.20L1190.00 389.62L1191.00 395.32L1192.00 401.29L1193.00 407.51L1194.00 413.97L1195.00 420.67L1196.00 427.57L1197.00 434.67L1198.00 441.94L1199.00 449.38L1200.00 456.95L1201.00 464.65L1202.00 472.45L1203.00 480.33L1204.00 488.27L1205.00 496.27L1206.00 504.29L1207.00 512.32L1208.00 520.36L1209.00 528.38L1210.00 536.37L1211.00 544.32L1212.00 552.22L1213.00 560.07L1214.00 567.85L1215.00 575.56L1216.00 583.19L1217.00 590.75L1218.00 598.23L1219.00 605.63L1220.00 612.95L1221.00 620.19L1222.00 627.36L1223.00 634.44L1224.00 641.45L1225.00 648.38L1226.00 655.24L1227.00 662.02L1228.00 668.72L1229.00 675.34L1230.00 681.88L1231.00 688.34L1232.00 694.70L1233.00 700.96L1234.00 707.11L1235.00 713.14L1236.00 719.04L1237.00 724.78L1238.00 730.37L1239.00 735.77L1240.00 740.97L1241.00 745.95L1242.00 750.70L1243.00 755.18L1244.00 759.38L1245.00 763.27L1246.00 766.85L1247.00 770.07L1248.00 772.94L1249.00 775.42L1250.00 777.51L1251.00 779.19L1252.00 780.44L1253.00 781.27L1254.00 781.66L1255.00 781.64L1256.00 781.28L1257.00 780.60L1258.00 779.58L1259.00 778.25L1260.00 776.58L1261.00 774.59L1262.00 772.28L1263.00 769.64L1264.00 766.67L1265.00 763.38L1266.00 759.78L1267.00 755.85L1268.00 751.62L1269.00 747.07L1270.00 742.21L1271.00 737.06L1272.00 731.61L1273.00 725.88L1274.00 719.87L1275.00 713.60L1276.00 707.07L1277.00 700.30L1278.00 693.29L1279.00 686.06L1280.00 678.64L1281.00 671.02L1282.00 663.23L1283.00 655.28L1284.00 647.19L1285.00 638.97L1286.00 630.65L1287.00 622.23L1288.00 613.74L1289.00 605.18L1290.00 596.58L1291.00 587.95L1292.00 579.31L1293.00 570.66L1294.00 562.03L1295.00 553.42L1296.00 544.84L1297.00 536.32L1298.00 527.85L1299.00 519.44L1300.00 511.11L1301.00 502.87L1302.00 494.72L1303.00 486.67L1304.00 478.73L1305.00 470.90L1306.00 463.20L1307.00 455.63L1308.00 448.19L1309.00 440.91L1310.00 433.77L1311.00 426.80L1312.00 420.00L1313.00 413.39L1314.00 406.96L1315.00 400.74L1316.00 394.73L1317.00 388.94L1318.00 383.40L1319.00 378.10L1320.00 373.06L1321.00 368.30L1322.00 363.82L1323.00 359.65L1324.00 355.79L1325.00 352.25L1326.00 349.06L1327.00 346.20L1328.00 343.71L1329.00 341.59L1330.00 339.84L1331.00 338.47L1332.00 337.49L1333.00 336.90L1334.00 336.70L1335.00 336.85L1336.00 337.31L1337.00 338.07L1338.00 339.13L1339.00 340.50L1340.00 342.18L1341.00 344.15L1342.00 346.43L1343.00 349.00L1344.00 351.88L1345.00 355.05L1346.00 358.52L1347.00 362.27L1348.00 366.31L1349.00 370.63L1350.00 375.23L1351.00 380.10L1352.00 385.22L1353.00 390.60L1354.00 396.22L1355.00 402.08L1356.00 408.15L1357.00 414.44L1358.00 420.92L1359.00 427.59L1360.00 434.43L1361.00 441.43L1362.00 448.57L1363.00 455.84L1364.00 463.22L1365.00 470.70L1366.00 478.26L1367.00 485.90L1368.00 493.59L1369.00 501.33L1370.00 509.10L1371.00 516.89L1372.00 524.69L1373.00 532.49L1374.00 540.28L1375.00 548.06L1376.00 555.81L1377.00 563.52L1378.00 571.19L1379.00 578.82L1380.00 586.40L1381.00 593.91L1382.00 601.37L1383.00 608.75L1384.00 616.07L1385.00 623.30L1386.00 630.45L1387.00 637.50L1388.00 644.46L1389.00 651.31L1390.00 658.04L1391.00 664.66L1392.00 671.13L1393.00 677.47L1394.00 683.64L1395.00 689.64L1396.00 695.46L1397.00 701.08L1398.00 706.48L1399.00 711.66L1400.00 716.58L1401.00 721.24L1402.00 725.61L1403.00 729.69L1404.00 733.45L1405.00 736.88L1406.00 739.96L1407.00 742.68L1408.00 745.02L1409.00 746.98L1410.00 748.54L1411.00 749.70L1412.00 750.45L1413.00 750.78L1414.00 750.71L1415.00 750.26L1416.00 749.43L1417.00 748.23L1418.00 746.67L1419.00 744.75L1420.00 742.48L1421.00 739.87L1422.00 736.94L1423.00 733.69L1424.00 730.13L1425.00 726.29L1426.00 722.17L1427.00 717.79L1428.00 713.17L1429.00 708.31L1430.00 703.22L1431.00 697.93L1432.00 692.44L1433.00 686.77L1434.00 680.92L1435.00 674.91L1436.00 668.73L1437.00 662.41L1438.00 655.95L1439.00 649.35L1440.00 642.62L1441.00 635.76L1442.00 628.78L1443.00 621.69L1444.00 614.47L1445.00 607.15L1446.00 599.72L1447.00 592.19L1448.00 584.56L1449.00 576.83L1450.00 569.02L1451.00 561.12L1452.00 553.14L1453.00 545.09L1454.00 536.98L1455.00 528.82L1456.00 520.62L1457.00 512.38L1458.00 504.13L1459.00 495.88L1460.00 487.64L1461.00 479.42L1462.00 471.24L1463.00 463.13L1464.00 455.09L1465.00 447.15L1466.00 439.33L1467.00 431.63L1468.00 424.09L1469.00 416.71L1470.00 409.53L1471.00 402.55L1472.00 395.79L1473.00 389.26L1474.00 382.99L1475.00 376.99L1476.00 371.27L1477.00 365.85L1478.00 360.72L1479.00 355.92L1480.00 351.44L1481.00 347.29L1482.00 343.48L1483.00 340.02L1484.00 336.91L1485.00 334.15L1486.00 331.76L1487.00 329.73L1488.00 328.06L1489.00 326.77L1490.00 325.84L1491.00 325.28L1492.00 325.10L1493.00 325.28L1494.00 325.82L1495.00 326.71L1496.00 327.95L1497.00 329.55L1498.00 331.49L1499.00 333.76L1500.00 336.38L1501.00 339.32L1502.00 342.57L1503.00 346.14L1504.00 350.02L1505.00 354.19L1506.00 358.64L1507.00 363.36L1508.00 368.35L1509.00 373.60L1510.00 379.09L1511.00 384.81L1512.00 390.75L1513.00 396.91L1514.00 403.27L1515.00 409.82L1516.00 416.55L1517.00 423.46L1518.00 430.53L1519.00 437.74L1520.00 445.10L1521.00 452.60L1522.00 460.21L1523.00 467.94L1524.00 475.78L1525.00 483.71L1526.00 491.72L1527.00 499.81L1528.00 507.97L1529.00 516.18L1530.00 524.43L1531.00 532.73L1532.00 541.04L1533.00 549.38L1534.00 557.71L1535.00 566.04L1536.00 574.36L1537.00 582.64L1538.00 590.88L1539.00 599.07L1540.00 607.19L1541.00 615.23L1542.00 623.19L1543.00 631.04L1544.00 638.77L1545.00 646.39L1546.00 653.86L1547.00 661.18L1548.00 668.34L1549.00 675.32L1550.00 682.12L1551.00 688.72L1552.00 695.11L1553.00 701.29L1554.00 707.24L1555.00 712.95L1556.00 718.42L1557.00 723.64L1558.00 728.60L1559.00 733.28L1560.00 737.70L1561.00 741.83L1562.00 745.68L1563.00 749.23L1564.00 752.50L1565.00 755.46L1566.00 758.12L1567.00 760.47L1568.00 762.51L1569.00 764.25L1570.00 765.67L1571.00 766.78L1572.00 767.57L1573.00 768.04L1574.00 768.20L1575.00 768.00L1576.00 767.42L1577.00 766.44L1578.00 765.09L1579.00 763.36L1580.00 761.27L1581.00 758.83L1582.00 756.07L1583.00 752.98L1584.00 749.59L1585.00 745.92L1586.00 741.98L1587.00 737.80L1588.00 733.38L1589.00 728.75L1590.00 723.92L1591.00 718.91L1592.00 713.72L1593.00 708.37L1594.00 702.88L1595.00 697.24L1596.00 691.47L1597.00 685.57L1598.00 679.54L1599.00 673.39L1600.00 667.11L1601.00 660.72L1602.00 654.20L1603.00 647.55L1604.00 640.78L1605.00 633.88L1606.00 626.86L1607.00 619.70L1608.00 612.41L1609.00 604.99L1610.00 597.44L1611.00 589.76L1612.00 581.96L1613.00 574.04L1614.00 566.02L1615.00 557.89L1616.00 549.68L1617.00 541.39L1618.00 533.05L1619.00 524.66L1620.00 516.25L1621.00 507.84L1622.00 499.45L1623.00 491.10L1624.00 482.83L1625.00 474.64L1626.00 466.57L1627.00 458.65L1628.00 450.89L1629.00 443.31L1630.00 435.95L1631.00 428.83L1632.00 421.95L1633.00 415.35L1634.00 409.03L1635.00 403.01L1636.00 397.30L1637.00 391.91L1638.00 386.86L1639.00 382.14L1640.00 377.76L1641.00 373.72L1642.00 370.03L1643.00 366.69L1644.00 363.69L1645.00 361.03L1646.00 358.72L1647.00 356.75L1648.00 355.12L1649.00 353.82L1650.00 352.85L1651.00 352.22L1652.00 351.93L1653.00 351.95L1654.00 352.29L1655.00 352.93L1656.00 353.87L1657.00 355.12L1658.00 356.68L1659.00 358.54L1660.00 360.70L1661.00 363.18L1662.00 365.96L1663.00 369.04L1664.00 372.43L1665.00 376.11L1666.00 380.10L1667.00 384.38L1668.00 388.95L1669.00 393.80L1670.00 398.92L1671.00 404.30L1672.00 409.95L1673.00 415.83L1674.00 421.94L1675.00 428.27L1676.00 434.80L1677.00 441.52L1678.00 448.40L1679.00 455.43L1680.00 462.59L1681.00 469.87L1682.00 477.24L1683.00 484.69L1684.00 492.20L1685.00 499.76L1686.00 507.34L1687.00 514.94L1688.00 522.54L1689.00 530.12L1690.00 537.68L1691.00 545.20L1692.00 552.68L1693.00 560.11L1694.00 567.48L1695.00 574.79L1696.00 582.04L1697.00 589.21L1698.00 596.33L1699.00 603.37L1700.00 610.34L1701.00 617.25L1702.00 624.09L1703.00 630.86L1704.00 637.56L1705.00 644.20L1706.00 650.77L1707.00 657.27L1708.00 663.70L1709.00 670.06L1710.00 676.33L1711.00 682.52L1712.00 688.61L1713.00 694.60L1714.00 700.47L1715.00 706.22L1716.00 711.81L1717.00 717.25L1718.00 722.50L1719.00 727.56L1720.00 732.40L1721.00 736.99L1722.00 741.33L1723.00 745.38L1724.00 749.12L1725.00 752.54L1726.00 755.60L1727.00 758.30L1728.00 760.62L1729.00 762.54L1730.00 764.05L1731.00 765.13L1732.00 765.78L1733.00 766.00L1734.00 765.85L1735.00 765.41L1736.00 764.66L1737.00 763.63L1738.00 762.30L1739.00 760.68L1740.00 758.78L1741.00 756.59L1742.00 754.13L1743.00 751.39L1744.00 748.38L1745.00 745.11L1746.00 741.59L1747.00 737.81L1748.00 733.79L1749.00 729.53L1750.00 725.03L1751.00 720.31L1752.00 715.37L1753.00 710.22L1754.00 704.86L1755.00 699.30L1756.00 693.55L1757.00 687.61L1758.00 681.49L1759.00 675.20L1760.00 668.75L1761.00 662.14L1762.00 655.38L1763.00 648.47L1764.00 641.44L1765.00 634.28L1766.00 627.01L1767.00 619.63L1768.00 612.16L1769.00 604.61L1770.00 596.98L1771.00 589.30L1772.00 581.57L1773.00 573.81L1774.00 566.03L1775.00 558.25L1776.00 550.47L1777.00 542.73L1778.00 535.02L1779.00 527.37L1780.00 519.79L1781.00 512.31L1782.00 504.92L1783.00 497.66L1784.00 490.53L1785.00 483.54L1786.00 476.72L1787.00 470.07L1788.00 463.61L1789.00 457.34L1790.00 451.28L1791.00 445.44L1792.00 439.81L1793.00 434.42L1794.00 429.26L1795.00 424.34L1796.00 419.66L1797.00 415.22L1798.00 411.02L1799.00 407.06L1800.00 403.35L1801.00 399.87L1802.00 396.63L1803.00 393.62L1804.00 390.83L1805.00 388.27L1806.00 385.93L1807.00 383.79L1808.00 381.87L1809.00 380.14L1810.00 378.61L1811.00 377.28L1812.00 376.13" stroke="#808080" stroke-width="2.78"/>
<path d="M240.00 468.41L241.00 473.33L242.00 478.43L243.00 483.70L244.00 489.15L245.00 494.76L246.00 500.52L247.00 506.43L248.00 512.48L249.00 518.65L250.00 524.93L251.00 531.33L252.00 537.81L253.00 544.38L254.00 551.02L255.00 557.72L256.00 564.46L257.00 571.23L258.00 578.03L259.00 584.83L260.00 591.62L261.00 598.40L262.00 605.14L263.00 611.84L264.00 618.48L265.00 625.06L266.00 631.55L267.00 637.95L268.00 644.24L269.00 650.43L270.00 656.48L271.00 662.41L272.00 668.19L273.00 673.82L274.00 679.29L275.00 684.60L276.00 689.73L277.00 694.69L278.00 699.46L279.00 704.04L280.00 708.43L281.00 712.62L282.00 716.61L283.00 720.40L284.00 723.98L285.00 727.35L286.00 730.51L287.00 733.46L288.00 736.20L289.00 738.73L290.00 741.04L291.00 743.14L292.00 745.03L293.00 746.70L294.00 748.15L295.00 749.40L296.00 750.42L297.00 751.24L298.00 751.83L299.00 752.22L300.00 752.39L301.00 752.34L302.00 752.05L303.00 751.51L304.00 750.74L305.00 749.72L306.00 748.46L307.00 746.95L308.00 745.21L309.00 743.22L310.00 740.99L311.00 738.52L312.00 735.81L313.00 732.86L314.00 729.68L315.00 726.26L316.00 722.62L317.00 718.75L318.00 714.65L319.00 710.34L320.00 705.82L321.00 701.09L322.00 696.16L323.00 691.05L324.00 685.75L325.00 680.27L326.00 674.63L327.00 668.84L328.00 662.90L329.00 656.83L330.00 650.63L331.00 644.32L332.00 637.91L333.00 631.41L334.00 624.83L335.00 618.19L336.00 611.49L337.00 604.74L338.00 597.97L339.00 591.16L340.00 584.35L341.00 577.53L342.00 570.71L343.00 563.92L344.00 557.15L345.00 550.41L346.00 543.71L347.00 537.07L348.00 530.48L349.00 523.97L350.00 517.53L351.00 511.17L352.00 504.91L353.00 498.75L354.00 492.70L355.00 486.77L356.00 480.96L357.00 475.30L358.00 469.79L359.00 464.43L360.00 459.25L361.00 454.25L362.00 449.43L363.00 444.83L364.00 440.43L365.00 436.27L366.00 432.34L367.00 428.66L368.00 425.24L369.00 422.09L370.00 419.23L371.00 416.66L372.00 414.38L373.00 412.42L374.00 410.77L375.00 409.44L376.00 408.45L377.00 407.78L378.00 407.44L379.00 407.43L380.00 407.65L381.00 408.10L382.00 408.76L383.00 409.65L384.00 410.77L385.00 412.10L386.00 413.65L387.00 415.41L388.00 417.39L389.00 419.59L390.00 422.00L391.00 424.62L392.00 427.44L393.00 430.47L394.00 433.71L395.00 437.15L396.00 440.78L397.00 444.62L398.00 448.64L399.00 452.86L400.00 457.27L401.00 461.86L402.00 466.63L403.00 471.58L404.00 476.70L405.00 481.99L406.00 487.44L407.00 493.05L408.00 498.82L409.00 504.73L410.00 510.77L411.00 516.94L412.00 523.24L413.00 529.64L414.00 536.15L415.00 542.74L416.00 549.41L417.00 556.15L418.00 562.93L419.00 569.75L420.00 576.59L421.00 583.44L422.00 590.28L423.00 597.10L424.00 603.87L425.00 610.59L426.00 617.23L427.00 623.79L428.00 630.24L429.00 636.57L430.00 642.77L431.00 648.82L432.00 654.71L433.00 660.43L434.00 665.96L435.00 671.30L436.00 676.44L437.00 681.37L438.00 686.08L439.00 690.57L440.00 694.83L441.00 698.87L442.00 702.67L443.00 706.23L444.00 709.57L445.00 712.67L446.00 715.53L447.00 718.16L448.00 720.57L449.00 722.74L450.00 724.69L451.00 726.41L452.00 727.91L453.00 729.19L454.00 730.26L455.00 731.10L456.00 731.74L457.00 732.16L458.00 732.37L459.00 732.37L460.00 732.13L461.00 731.66L462.00 730.94L463.00 729.98L464.00 728.79L465.00 727.34L466.00 725.65L467.00 723.71L468.00 721.52L469.00 719.08L470.00 716.37L471.00 713.42L472.00 710.20L473.00 706.73L474.00 702.99L475.00 699.00L476.00 694.76L477.00 690.27L478.00 685.53L479.00 680.55L480.00 675.34L481.00 669.91L482.00 664.26L483.00 658.41L484.00 652.37L485.00 646.15L486.00 639.77L487.00 633.25L488.00 626.59L489.00 619.81L490.00 612.93L491.00 605.97L492.00 598.94L493.00 591.86L494.00 584.74L495.00 577.60L496.00 570.46L497.00 563.32L498.00 556.20L499.00 549.12L500.00 542.08L501.00 535.09L502.00 528.17L503.00 521.32L504.00 514.55L505.00 507.87L506.00 501.29L507.00 494.81L508.00 488.44L509.00 482.18L510.00 476.04L511.00 470.03L512.00 464.15L513.00 458.40L514.00 452.81L515.00 447.36L516.00 442.06L517.00 436.94L518.00 431.98L519.00 427.21L520.00 422.63L521.00 418.25L522.00 414.08L523.00 410.14L524.00 406.42L525.00 402.95L526.00 399.72L527.00 396.77L528.00 394.08L529.00 391.68L530.00 389.57L531.00 387.76L532.00 386.25L533.00 385.06L534.00 384.19L535.00 383.63L536.00 383.41L537.00 383.51L538.00 383.94L539.00 384.70L540.00 385.79L541.00 387.21L542.00 388.95L543.00 391.00L544.00 393.37L545.00 396.03L546.00 399.00L547.00 402.26L548.00 405.79L549.00 409.60L550.00 413.67L551.00 417.99L552.00 422.55L553.00 427.35L554.00 432.36L555.00 437.58L556.00 442.99L557.00 448.59L558.00 454.35L559.00 460.28L560.00 466.36L561.00 472.58L562.00 478.92L563.00 485.38L564.00 491.94L565.00 498.59L566.00 505.33L567.00 512.14L568.00 519.02L569.00 525.95L570.00 532.92L571.00 539.93L572.00 546.97L573.00 554.02L574.00 561.10L575.00 568.17L576.00 575.24L577.00 582.31L578.00 589.36L579.00 596.38L580.00 603.38L581.00 610.34L582.00 617.26L583.00 624.13L584.00 630.95L585.00 637.71L586.00 644.40L587.00 651.02L588.00 657.55L589.00 664.01L590.00 670.36L591.00 676.62L592.00 682.77L593.00 688.80L594.00 694.71L595.00 700.48L596.00 706.12L597.00 711.61L598.00 716.94L599.00 722.10L600.00 727.09L601.00 731.89L602.00 736.50L603.00 740.91L604.00 745.10L605.00 749.07L606.00 752.82L607.00 756.32L608.00 759.58L609.00 762.59L610.00 765.33L611.00 767.81L612.00 770.01L613.00 771.93L614.00 773.56L615.00 774.90L616.00 775.95L617.00 776.70L618.00 777.15L619.00 777.30L620.00 777.12L621.00 776.60L622.00 775.72L623.00 774.50L624.00 772.94L625.00 771.04L626.00 768.81L627.00 766.26L628.00 763.39L629.00 760.21L630.00 756.74L631.00 752.98L632.00 748.95L633.00 744.65L634.00 740.10L635.00 735.31L636.00 730.29L637.00 725.05L638.00 719.61L639.00 713.99L640.00 708.18L641.00 702.20L642.00 696.07L643.00 689.80L644.00 683.40L645.00 676.87L646.00 670.24L647.00 663.50L648.00 656.67L649.00 649.76L650.00 642.77L651.00 635.72L652.00 628.61L653.00 621.44L654.00 614.23L655.00 606.99L656.00 599.71L657.00 592.40L658.00 585.08L659.00 577.74L660.00 570.39L661.00 563.04L662.00 555.70L663.00 548.36L664.00 541.04L665.00 533.74L666.00 526.48L667.00 519.25L668.00 512.07L669.00 504.95L670.00 497.89L671.00 490.91L672.00 484.02L673.00 477.22L674.00 470.54L675.00 463.98L676.00 457.55L677.00 451.28L678.00 445.18L679.00 439.26L680.00 433.53L681.00 428.02L682.00 422.74L683.00 417.70L684.00 412.93L685.00 408.43L686.00 404.23L687.00 400.34L688.00 396.76L689.00 393.53L690.00 390.64L691.00 388.12L692.00 385.96L693.00 384.19L694.00 382.80L695.00 381.80L696.00 381.20L697.00 381.00L698.00 381.16L699.00 381.65L700.00 382.47L701.00 383.60L702.00 385.06L703.00 386.82L704.00 388.89L705.00 391.27L706.00 393.93L707.00 396.88L708.00 400.10L709.00 403.58L710.00 407.32L711.00 411.31L712.00 415.52L713.00 419.96L714.00 424.61L715.00 429.45L716.00 434.49L717.00 439.70L718.00 445.08L719.00 450.62L720.00 456.30L721.00 462.12L722.00 468.06L723.00 474.13L724.00 480.30L725.00 486.57L726.00 492.94L727.00 499.38L728.00 505.91L729.00 512.51L730.00 519.17L731.00 525.88L732.00 532.64L733.00 539.45L734.00 546.30L735.00 553.17L736.00 560.06L737.00 566.97L738.00 573.89L739.00 580.82L740.00 587.73L741.00 594.64L742.00 601.52L743.00 608.37L744.00 615.19L745.00 621.96L746.00 628.68L747.00 635.33L748.00 641.90L749.00 648.39L750.00 654.79L751.00 661.08L752.00 667.26L753.00 673.31L754.00 679.23L755.00 684.99L756.00 690.60L757.00 696.04L758.00 701.29L759.00 706.36L760.00 711.23L761.00 715.88L762.00 720.31L763.00 724.51L764.00 728.48L765.00 732.19L766.00 735.64L767.00 738.83L768.00 741.75L769.00 744.39L770.00 746.75L771.00 748.81L772.00 750.58L773.00 752.05L774.00 753.22L775.00 754.08L776.00 754.64L777.00 754.89L778.00 754.78L779.00 754.21L780.00 753.17L781.00 751.67L782.00 749.73L783.00 747.35L784.00 744.56L785.00 741.39L786.00 737.85L787.00 733.98L788.00 729.80L789.00 725.34L790.00 720.63L791.00 715.69L792.00 710.55L793.00 705.24L794.00 699.77L795.00 694.18L796.00 688.48L797.00 682.68L798.00 676.79L799.00 670.84L800.00 664.82L801.00 658.75L802.00 652.62L803.00 646.45L804.00 640.22L805.00 633.94L806.00 627.60L807.00 621.21L808.00 614.75L809.00 608.22L810.00 601.62L811.00 594.94L812.00 588.17L813.00 581.32L814.00 574.39L815.00 567.36L816.00 560.25L817.00 553.05L818.00 545.77L819.00 538.42L820.00 530.99L821.00 523.51L822.00 515.99L823.00 508.44L824.00 500.87L825.00 493.31L826.00 485.77L827.00 478.28L828.00 470.85L829.00 463.50L830.00 456.27L831.00 449.17L832.00 442.23L833.00 435.46L834.00 428.88L835.00 422.53L836.00 416.41L837.00 410.54L838.00 404.94L839.00 399.62L840.00 394.59L841.00 389.86L842.00 385.44L843.00 381.34L844.00 377.56L845.00 374.11L846.00 370.99L847.00 368.19L848.00 365.73L849.00 363.59L850.00 361.79L851.00 360.32L852.00 359.17L853.00 358.35L854.00 357.86L855.00 357.70L856.00 357.87L857.00 358.38L858.00 359.23L859.00 360.43L860.00 361.95L861.00 363.82L862.00 366.01L863.00 368.54L864.00 371.38L865.00 374.55L866.00 378.03L867.00 381.82L868.00 385.91L869.00 390.29L870.00 394.96L871.00 399.90L872.00 405.11L873.00 410.57L874.00 416.29L875.00 422.23L876.00 428.40L877.00 434.77L878.00 441.34L879.00 448.10L880.00 455.02L881.00 462.10L882.00 469.32L883.00 476.67L884.00 484.13L885.00 491.69L886.00 499.33L887.00 507.05L888.00 514.82L889.00 522.64L890.00 530.50L891.00 538.38L892.00 546.27L893.00 554.16L894.00 562.05L895.00 569.92L896.00 577.76L897.00 585.57L898.00 593.33L899.00 601.05L900.00 608.72L901.00 616.32L902.00 623.86L903.00 631.33L904.00 638.72L905.00 646.03L906.00 653.26L907.00 660.39L908.00 667.43L909.00 674.36L910.00 681.19L911.00 687.91L912.00 694.50L913.00 700.97L914.00 707.30L915.00 713.49L916.00 719.53L917.00 725.41L918.00 731.12L919.00 736.64L920.00 741.98L921.00 747.11L922.00 752.02L923.00 756.71L924.00 761.15L925.00 765.34L926.00 769.27L927.00 772.92L928.00 776.28L929.00 779.35L930.00 782.10L931.00 784.53L932.00 786.63L933.00 788.39L934.00 789.81L935.00 790.88L936.00 791.60L937.00 791.96L938.00 791.95L939.00 791.53L940.00 790.69L941.00 789.43L942.00 787.76L943.00 785.69L944.00 783.23L945.00 780.40L946.00 777.19L947.00 773.64L948.00 769.75L949.00 765.54L950.00 761.04L951.00 756.25L952.00 751.19L953.00 745.89L954.00 740.36L955.00 734.62L956.00 728.68L957.00 722.56L958.00 716.28L959.00 709.84L960.00 703.27L961.00 696.57L962.00 689.76L963.00 682.84L964.00 675.82L965.00 668.72L966.00 661.53L967.00 654.27L968.00 646.95L969.00 639.55L970.00 632.10L971.00 624.59L972.00 617.04L973.00 609.43L974.00 601.79L975.00 594.10L976.00 586.38L977.00 578.64L978.00 570.87L979.00 563.08L980.00 555.28L981.00 547.48L982.00 539.68L983.00 531.89L984.00 524.13L985.00 516.40L986.00 508.71L987.00 501.08L988.00 493.52L989.00 486.04L990.00 478.66L991.00 471.39L992.00 464.24L993.00 457.24L994.00 450.39L995.00 443.71L996.00 437.22L997.00 430.94L998.00 424.87L999.00 419.04L1000.00 413.46L1001.00 408.14L1002.00 403.10L1003.00 398.36L1004.00 393.91L1005.00 389.79L1006.00 385.99L1007.00 382.53L1008.00 379.41L1009.00 376.65L1010.00 374.26L1011.00 372.23L1012.00 370.58L1013.00 369.31L1014.00 368.43L1015.00 367.92L1016.00 367.81L1017.00 368.13L1018.00 368.92L1019.00 370.16L1020.00 371.84L1021.00 373.97L1022.00 376.51L1023.00 379.46L1024.00 382.80L1025.00 386.51L1026.00 390.57L1027.00 394.95L1028.00 399.64L1029.00 404.61L1030.00 409.83L1031.00 415.29L1032.00 420.96L1033.00 426.83L1034.00 432.86L1035.00 439.04L1036.00 445.36L1037.00 451.79L1038.00 458.33L1039.00 464.96L1040.00 471.66L1041.00 478.43L1042.00 485.26L1043.00 492.14L1044.00 499.06L1045.00 506.03L1046.00 513.03L1047.00 520.07L1048.00 527.13L1049.00 534.23L1050.00 541.35L1051.00 548.49L1052.00 555.66L1053.00 562.86L1054.00 570.07L1055.00 577.29L1056.00 584.54L1057.00 591.79L1058.00 599.05L1059.00 606.31L1060.00 613.56L1061.00 620.80L1062.00 628.01L1063.00 635.20L1064.00 642.35L1065.00 649.45L1066.00 656.48L1067.00 663.44L1068.00 670.31L1069.00 677.08L1070.00 683.74L1071.00 690.27L1072.00 696.66L1073.00 702.89L1074.00 708.95L1075.00 714.82L1076.00 720.49L1077.00 725.96L1078.00 731.20L1079.00 736.20L1080.00 740.95L1081.00 745.45L1082.00 749.68L1083.00 753.62L1084.00 757.29L1085.00 760.65L1086.00 763.72L1087.00 766.48L1088.00 768.93L1089.00 771.06L1090.00 772.87L1091.00 774.35L1092.00 775.51L1093.00 776.34L1094.00 776.83L1095.00 777.00L1096.00 776.77L1097.00 776.06L1098.00 774.90L1099.00 773.29L1100.00 771.24L1101.00 768.77L1102.00 765.91L1103.00 762.67L1104.00 759.08L1105.00 755.18L1106.00 750.98L1107.00 746.51L1108.00 741.80L1109.00 736.88L1110.00 731.77L1111.00 726.49L1112.00 721.07L1113.00 715.52L1114.00 709.86L1115.00 704.10L1116.00 698.25L1117.00 692.33L1118.00 686.32L1119.00 680.24L1120.00 674.09L1121.00 667.86L1122.00 661.56L1123.00 655.17L1124.00 648.69L1125.00 642.10L1126.00 635.42L1127.00 628.62L1128.00 621.70L1129.00 614.65L1130.00 607.47L1131.00 600.15L1132.00 592.69L1133.00 585.09L1134.00 577.34L1135.00 569.46L1136.00 561.44L1137.00 553.31L1138.00 545.06L1139.00 536.71L1140.00 528.28L1141.00 519.79L1142.00 511.25L1143.00 502.70L1144.00 494.16L1145.00 485.64L1146.00 477.20L1147.00 468.84L1148.00 460.60L1149.00 452.51L1150.00 444.60L1151.00 436.89L1152.00 429.41L1153.00 422.19L1154.00 415.24L1155.00 408.59L1156.00 402.26L1157.00 396.26L1158.00 390.61L1159.00 385.32L1160.00 380.39L1161.00 375.83L1162.00 371.66L1163.00 367.86L1164.00 364.46L1165.00 361.43L1166.00 358.80L1167.00 356.55L1168.00 354.68L1169.00 353.20L1170.00 352.09L1171.00 351.37L1172.00 351.03L1173.00 351.06L1174.00 351.41L1175.00 352.09L1176.00 353.09L1177.00 354.41L1178.00 356.05L1179.00 358.02L1180.00 360.31L1181.00 362.92L1182.00 365.85L1183.00 369.11L1184.00 372.68L1185.00 376.57L1186.00 380.78L1187.00 385.29L1188.00 390.11L1189.00 395.22L1190.00 400.61L1191.00 406.29L1192.00 412.23L1193.00 418.43L1194.00 424.87L1195.00 431.53L1196.00 438.41L1197.00 445.48L1198.00 452.72L1199.00 460.13L1200.00 467.67L1201.00 475.33L1202.00 483.10L1203.00 490.95L1204.00 498.86L1205.00 506.82L1206.00 514.80L1207.00 522.81L1208.00 530.80L1209.00 538.79L1210.00 546.74L1211.00 554.66L1212.00 562.52L1213.00 570.33L1214.00 578.07L1215.00 585.75L1216.00 593.35L1217.00 600.87L1218.00 608.32L1219.00 615.68L1220.00 622.97L1221.00 630.17L1222.00 637.30L1223.00 644.35L1224.00 651.32L1225.00 658.22L1226.00 665.05L1227.00 671.79L1228.00 678.47L1229.00 685.06L1230.00 691.57L1231.00 698.00L1232.00 704.33L1233.00 710.56L1234.00 716.69L1235.00 722.69L1236.00 728.56L1237.00 734.29L1238.00 739.85L1239.00 745.23L1240.00 750.41L1241.00 755.38L1242.00 760.10L1243.00 764.57L1244.00 768.75L1245.00 772.64L1246.00 776.20L1247.00 779.41L1248.00 782.27L1249.00 784.74L1250.00 786.82L1251.00 788.49L1252.00 789.75L1253.00 790.57L1254.00 790.97L1255.00 790.94L1256.00 790.59L1257.00 789.92L1258.00 788.93L1259.00 787.62L1260.00 785.98L1261.00 784.03L1262.00 781.76L1263.00 779.18L1264.00 776.27L1265.00 773.05L1266.00 769.51L1267.00 765.66L1268.00 761.51L1269.00 757.04L1270.00 752.28L1271.00 747.23L1272.00 741.89L1273.00 736.26L1274.00 730.37L1275.00 724.21L1276.00 717.81L1277.00 711.16L1278.00 704.28L1279.00 697.19L1280.00 689.90L1281.00 682.43L1282.00 674.78L1283.00 666.98L1284.00 659.04L1285.00 650.98L1286.00 642.81L1287.00 634.55L1288.00 626.22L1289.00 617.82L1290.00 609.39L1291.00 600.92L1292.00 592.44L1293.00 583.96L1294.00 575.50L1295.00 567.05L1296.00 558.64L1297.00 550.28L1298.00 541.97L1299.00 533.73L1300.00 525.57L1301.00 517.48L1302.00 509.49L1303.00 501.60L1304.00 493.81L1305.00 486.14L1306.00 478.59L1307.00 471.16L1308.00 463.87L1309.00 456.72L1310.00 449.73L1311.00 442.89L1312.00 436.22L1313.00 429.72L1314.00 423.42L1315.00 417.31L1316.00 411.41L1317.00 405.73L1318.00 400.29L1319.00 395.08L1320.00 390.13L1321.00 385.46L1322.00 381.06L1323.00 376.96L1324.00 373.17L1325.00 369.69L1326.00 366.55L1327.00 363.75L1328.00 361.30L1329.00 359.21L1330.00 357.48L1331.00 356.14L1332.00 355.17L1333.00 354.59L1334.00 354.40L1335.00 354.55L1336.00 355.02L1337.00 355.78L1338.00 356.86L1339.00 358.25L1340.00 359.94L1341.00 361.93L1342.00 364.23L1343.00 366.84L1344.00 369.75L1345.00 372.95L1346.00 376.45L1347.00 380.25L1348.00 384.33L1349.00 388.70L1350.00 393.35L1351.00 398.26L1352.00 403.45L1353.00 408.88L1354.00 414.56L1355.00 420.48L1356.00 426.62L1357.00 432.97L1358.00 439.52L1359.00 446.26L1360.00 453.18L1361.00 460.25L1362.00 467.46L1363.00 474.80L1364.00 482.26L1365.00 489.82L1366.00 497.47L1367.00 505.19L1368.00 512.96L1369.00 520.78L1370.00 528.64L1371.00 536.51L1372.00 544.40L1373.00 552.29L1374.00 560.16L1375.00 568.02L1376.00 575.86L1377.00 583.65L1378.00 591.41L1379.00 599.12L1380.00 606.78L1381.00 614.38L1382.00 621.92L1383.00 629.38L1384.00 636.77L1385.00 644.08L1386.00 651.31L1387.00 658.44L1388.00 665.47L1389.00 672.39L1390.00 679.19L1391.00 685.87L1392.00 692.41L1393.00 698.81L1394.00 705.04L1395.00 711.10L1396.00 716.98L1397.00 722.65L1398.00 728.10L1399.00 733.32L1400.00 738.29L1401.00 742.99L1402.00 747.40L1403.00 751.51L1404.00 755.31L1405.00 758.77L1406.00 761.87L1407.00 764.61L1408.00 766.98L1409.00 768.95L1410.00 770.53L1411.00 771.69L1412.00 772.45L1413.00 772.78L1414.00 772.71L1415.00 772.26L1416.00 771.43L1417.00 770.24L1418.00 768.68L1419.00 766.77L1420.00 764.51L1421.00 761.91L1422.00 758.99L1423.00 755.75L1424.00 752.21L1425.00 748.38L1426.00 744.28L1427.00 739.91L1428.00 735.30L1429.00 730.46L1430.00 725.40L1431.00 720.13L1432.00 714.66L1433.00 709.01L1434.00 703.18L1435.00 697.19L1436.00 691.04L1437.00 684.75L1438.00 678.31L1439.00 671.74L1440.00 665.03L1441.00 658.21L1442.00 651.26L1443.00 644.19L1444.00 637.01L1445.00 629.72L1446.00 622.32L1447.00 614.82L1448.00 607.22L1449.00 599.52L1450.00 591.74L1451.00 583.87L1452.00 575.92L1453.00 567.91L1454.00 559.83L1455.00 551.70L1456.00 543.53L1457.00 535.33L1458.00 527.11L1459.00 518.89L1460.00 510.67L1461.00 502.49L1462.00 494.34L1463.00 486.26L1464.00 478.25L1465.00 470.34L1466.00 462.54L1467.00 454.87L1468.00 447.35L1469.00 440.01L1470.00 432.84L1471.00 425.89L1472.00 419.15L1473.00 412.65L1474.00 406.40L1475.00 400.42L1476.00 394.72L1477.00 389.31L1478.00 384.21L1479.00 379.42L1480.00 374.95L1481.00 370.82L1482.00 367.02L1483.00 363.57L1484.00 360.47L1485.00 357.72L1486.00 355.34L1487.00 353.31L1488.00 351.65L1489.00 350.36L1490.00 349.44L1491.00 348.88L1492.00 348.70L1493.00 348.88L1494.00 349.41L1495.00 350.30L1496.00 351.54L1497.00 353.13L1498.00 355.06L1499.00 357.32L1500.00 359.93L1501.00 362.85L1502.00 366.10L1503.00 369.65L1504.00 373.51L1505.00 377.66L1506.00 382.09L1507.00 386.79L1508.00 391.76L1509.00 396.99L1510.00 402.45L1511.00 408.15L1512.00 414.07L1513.00 420.20L1514.00 426.53L1515.00 433.05L1516.00 439.75L1517.00 446.63L1518.00 453.66L1519.00 460.85L1520.00 468.17L1521.00 475.63L1522.00 483.21L1523.00 490.91L1524.00 498.71L1525.00 506.60L1526.00 514.58L1527.00 522.63L1528.00 530.75L1529.00 538.92L1530.00 547.14L1531.00 555.39L1532.00 563.67L1533.00 571.97L1534.00 580.27L1535.00 588.56L1536.00 596.83L1537.00 605.08L1538.00 613.28L1539.00 621.43L1540.00 629.52L1541.00 637.52L1542.00 645.44L1543.00 653.26L1544.00 660.96L1545.00 668.54L1546.00 675.97L1547.00 683.26L1548.00 690.39L1549.00 697.34L1550.00 704.11L1551.00 710.68L1552.00 717.04L1553.00 723.19L1554.00 729.12L1555.00 734.81L1556.00 740.25L1557.00 745.44L1558.00 750.38L1559.00 755.04L1560.00 759.44L1561.00 763.55L1562.00 767.38L1563.00 770.92L1564.00 774.17L1565.00 777.12L1566.00 779.76L1567.00 782.10L1568.00 784.14L1569.00 785.87L1570.00 787.28L1571.00 788.38L1572.00 789.17L1573.00 789.64L1574.00 789.80L1575.00 789.61L1576.00 789.03L1577.00 788.06L1578.00 786.72L1579.00 785.02L1580.00 782.96L1581.00 780.55L1582.00 777.82L1583.00 774.77L1584.00 771.43L1585.00 767.81L1586.00 763.92L1587.00 759.79L1588.00 755.44L1589.00 750.88L1590.00 746.12L1591.00 741.18L1592.00 736.07L1593.00 730.80L1594.00 725.39L1595.00 719.84L1596.00 714.16L1597.00 708.35L1598.00 702.42L1599.00 696.37L1600.00 690.20L1601.00 683.91L1602.00 677.49L1603.00 670.96L1604.00 664.30L1605.00 657.52L1606.00 650.60L1607.00 643.56L1608.00 636.39L1609.00 629.09L1610.00 621.65L1611.00 614.10L1612.00 606.42L1613.00 598.62L1614.00 590.71L1615.00 582.71L1616.00 574.62L1617.00 566.45L1618.00 558.22L1619.00 549.95L1620.00 541.66L1621.00 533.36L1622.00 525.09L1623.00 516.85L1624.00 508.68L1625.00 500.61L1626.00 492.65L1627.00 484.82L1628.00 477.16L1629.00 469.69L1630.00 462.42L1631.00 455.39L1632.00 448.60L1633.00 442.08L1634.00 435.85L1635.00 429.91L1636.00 424.27L1637.00 418.96L1638.00 413.97L1639.00 409.31L1640.00 404.99L1641.00 401.01L1642.00 397.37L1643.00 394.08L1644.00 391.12L1645.00 388.50L1646.00 386.22L1647.00 384.28L1648.00 382.67L1649.00 381.39L1650.00 380.44L1651.00 379.82L1652.00 379.53L1653.00 379.56L1654.00 379.89L1655.00 380.53L1656.00 381.48L1657.00 382.74L1658.00 384.30L1659.00 386.18L1660.00 388.36L1661.00 390.84L1662.00 393.64L1663.00 396.74L1664.00 400.15L1665.00 403.86L1666.00 407.86L1667.00 412.17L1668.00 416.76L1669.00 421.64L1670.00 426.79L1671.00 432.21L1672.00 437.88L1673.00 443.80L1674.00 449.94L1675.00 456.31L1676.00 462.88L1677.00 469.63L1678.00 476.55L1679.00 483.62L1680.00 490.82L1681.00 498.14L1682.00 505.55L1683.00 513.05L1684.00 520.60L1685.00 528.20L1686.00 535.83L1687.00 543.48L1688.00 551.12L1689.00 558.75L1690.00 566.35L1691.00 573.92L1692.00 581.45L1693.00 588.92L1694.00 596.34L1695.00 603.70L1696.00 610.99L1697.00 618.21L1698.00 625.37L1699.00 632.46L1700.00 639.48L1701.00 646.43L1702.00 653.31L1703.00 660.13L1704.00 666.87L1705.00 673.55L1706.00 680.16L1707.00 686.71L1708.00 693.18L1709.00 699.57L1710.00 705.88L1711.00 712.11L1712.00 718.23L1713.00 724.26L1714.00 730.16L1715.00 735.93L1716.00 741.56L1717.00 747.02L1718.00 752.31L1719.00 757.39L1720.00 762.25L1721.00 766.86L1722.00 771.22L1723.00 775.29L1724.00 779.05L1725.00 782.48L1726.00 785.56L1727.00 788.27L1728.00 790.60L1729.00 792.53L1730.00 794.04L1731.00 795.13L1732.00 795.78L1733.00 796.00L1734.00 795.85L1735.00 795.40L1736.00 794.64L1737.00 793.59L1738.00 792.24L1739.00 790.60L1740.00 788.66L1741.00 786.44L1742.00 783.93L1743.00 781.15L1744.00 778.10L1745.00 774.77L1746.00 771.19L1747.00 767.35L1748.00 763.26L1749.00 758.93L1750.00 754.36L1751.00 749.57L1752.00 744.54L1753.00 739.31L1754.00 733.86L1755.00 728.21L1756.00 722.36L1757.00 716.32L1758.00 710.10L1759.00 703.71L1760.00 697.15L1761.00 690.42L1762.00 683.55L1763.00 676.53L1764.00 669.38L1765.00 662.11L1766.00 654.71L1767.00 647.21L1768.00 639.62L1769.00 631.94L1770.00 624.19L1771.00 616.38L1772.00 608.52L1773.00 600.63L1774.00 592.72L1775.00 584.81L1776.00 576.91L1777.00 569.03L1778.00 561.20L1779.00 553.42L1780.00 545.72L1781.00 538.10L1782.00 530.59L1783.00 523.20L1784.00 515.94L1785.00 508.84L1786.00 501.89L1787.00 495.13L1788.00 488.55L1789.00 482.17L1790.00 475.99L1791.00 470.04L1792.00 464.31L1793.00 458.81L1794.00 453.55L1795.00 448.53L1796.00 443.75L1797.00 439.22L1798.00 434.93L1799.00 430.89L1800.00 427.10L1801.00 423.54L1802.00 420.22L1803.00 417.14L1804.00 414.29L1805.00 411.67L1806.00 409.27L1807.00 407.08L1808.00 405.10L1809.00 403.33L1810.00 401.77L1811.00 400.40L1812.00 399.22" stroke="#808080" stroke-width="2.78"/>
<path d="M240.00 467.38L241.00 472.29L242.00 477.39L243.00 482.66L244.00 488.10L245.00 493.71L246.00 499.47L247.00 505.38L248.00 511.42L249.00 517.58L250.00 523.87L251.00 530.26L252.00 536.74L253.00 543.30L254.00 549.94L255.00 556.63L256.00 563.37L257.00 570.14L258.00 576.93L259.00 583.73L260.00 590.52L261.00 597.29L262.00 604.03L263.00 610.72L264.00 617.36L265.00 623.93L266.00 630.42L267.00 636.82L268.00 643.11L269.00 649.29L270.00 655.34L271.00 661.26L272.00 667.04L273.00 672.67L274.00 678.14L275.00 683.44L276.00 688.57L277.00 693.52L278.00 698.29L279.00 702.87L280.00 707.26L281.00 711.44L282.00 715.43L283.00 719.22L284.00 722.79L285.00 726.17L286.00 729.33L287.00 732.28L288.00 735.01L289.00 737.54L290.00 739.85L291.00 741.95L292.00 743.83L293.00 745.50L294.00 746.96L295.00 748.20L296.00 749.22L297.00 750.04L298.00 750.63L299.00 751.02L300.00 751.19L301.00 751.14L302.00 750.85L303.00 750.32L304.00 749.54L305.00 748.52L306.00 747.26L307.00 745.76L308.00 744.01L309.00 742.02L310.00 739.80L311.00 737.33L312.00 734.62L313.00 731.67L314.00 728.49L315.00 725.08L316.00 721.44L317.00 717.57L318.00 713.48L319.00 709.17L320.00 704.65L321.00 699.92L322.00 695.00L323.00 689.89L324.00 684.59L325.00 679.12L326.00 673.48L327.00 667.69L328.00 661.76L329.00 655.69L330.00 649.49L331.00 643.19L332.00 636.78L333.00 630.29L334.00 623.71L335.00 617.07L336.00 610.38L337.00 603.64L338.00 596.86L339.00 590.06L340.00 583.25L341.00 576.43L342.00 569.63L343.00 562.83L344.00 556.07L345.00 549.33L346.00 542.64L347.00 536.00L348.00 529.42L349.00 522.90L350.00 516.47L351.00 510.12L352.00 503.86L353.00 497.70L354.00 491.65L355.00 485.72L356.00 479.93L357.00 474.27L358.00 468.76L359.00 463.40L360.00 458.22L361.00 453.22L362.00 448.41L363.00 443.81L364.00 439.42L365.00 435.25L366.00 431.33L367.00 427.65L368.00 424.23L369.00 421.09L370.00 418.22L371.00 415.65L372.00 413.38L373.00 411.42L374.00 409.77L375.00 408.44L376.00 407.44L377.00 406.78L378.00 406.44L379.00 406.43L380.00 406.65L381.00 407.10L382.00 407.76L383.00 408.65L384.00 409.77L385.00 411.10L386.00 412.65L387.00 414.41L388.00 416.39L389.00 418.59L390.00 421.00L391.00 423.62L392.00 426.44L393.00 429.47L394.00 432.71L395.00 436.15L396.00 439.78L397.00 443.62L398.00 447.64L399.00 451.86L400.00 456.27L401.00 460.86L402.00 465.63L403.00 470.58L404.00 475.70L405.00 480.99L406.00 486.44L407.00 492.05L408.00 497.82L409.00 503.73L410.00 509.77L411.00 515.94L412.00 522.24L413.00 528.64L414.00 535.15L415.00 541.74L416.00 548.41L417.00 555.15L418.00 561.93L419.00 568.75L420.00 575.59L421.00 582.44L422.00 589.28L423.00 596.10L424.00 602.87L425.00 609.59L426.00 616.23L427.00 622.79L428.00 629.24L429.00 635.57L430.00 641.77L431.00 647.82L432.00 653.71L433.00 659.43L434.00 664.96L435.00 670.30L436.00 675.44L437.00 680.37L438.00 685.08L439.00 689.57L440.00 693.83L441.00 697.87L442.00 701.67L443.00 705.23L444.00 708.57L445.00 711.67L446.00 714.53L447.00 717.16L448.00 719.57L449.00 721.74L450.00 723.69L451.00 725.41L452.00 726.91L453.00 728.19L454.00 729.26L455.00 730.10L456.00 730.74L457.00 731.16L458.00 731.37L459.00 731.37L460.00 731.13L461.00 730.65L462.00 729.93L463.00 728.97L464.00 727.76L465.00 726.31L466.00 724.61L467.00 722.66L468.00 720.46L469.00 718.00L470.00 715.29L471.00 712.32L472.00 709.09L473.00 705.59L474.00 701.84L475.00 697.84L476.00 693.57L477.00 689.06L478.00 684.30L479.00 679.30L480.00 674.07L481.00 668.61L482.00 662.94L483.00 657.06L484.00 651.00L485.00 644.75L486.00 638.35L487.00 631.79L488.00 625.10L489.00 618.30L490.00 611.39L491.00 604.40L492.00 597.34L493.00 590.23L494.00 583.08L495.00 575.92L496.00 568.74L497.00 561.57L498.00 554.42L499.00 547.31L500.00 540.24L501.00 533.22L502.00 526.27L503.00 519.39L504.00 512.60L505.00 505.89L506.00 499.28L507.00 492.77L508.00 486.37L509.00 480.09L510.00 473.92L511.00 467.88L512.00 461.98L513.00 456.21L514.00 450.58L515.00 445.11L516.00 439.80L517.00 434.65L518.00 429.68L519.00 424.88L520.00 420.29L521.00 415.89L522.00 411.70L523.00 407.74L524.00 404.01L525.00 400.52L526.00 397.29L527.00 394.32L528.00 391.62L529.00 389.21L530.00 387.09L531.00 385.27L532.00 383.76L533.00 382.57L534.00 381.69L535.00 381.13L536.00 380.91L537.00 381.01L538.00 381.44L539.00 382.20L540.00 383.29L541.00 384.70L542.00 386.44L543.00 388.49L544.00 390.85L545.00 393.52L546.00 396.48L547.00 399.73L548.00 403.26L549.00 407.06L550.00 411.13L551.00 415.44L552.00 419.99L553.00 424.78L554.00 429.78L555.00 434.99L556.00 440.39L557.00 445.98L558.00 451.74L559.00 457.66L560.00 463.73L561.00 469.94L562.00 476.27L563.00 482.71L564.00 489.26L565.00 495.91L566.00 502.63L567.00 509.43L568.00 516.29L569.00 523.21L570.00 530.17L571.00 537.17L572.00 544.19L573.00 551.24L574.00 558.29L575.00 565.36L576.00 572.42L577.00 579.47L578.00 586.50L579.00 593.51L580.00 600.50L581.00 607.44L582.00 614.35L583.00 621.21L584.00 628.02L585.00 634.76L586.00 641.44L587.00 648.04L588.00 654.57L589.00 661.01L590.00 667.35L591.00 673.60L592.00 679.73L593.00 685.76L594.00 691.65L595.00 697.42L596.00 703.04L597.00 708.52L598.00 713.84L599.00 718.99L600.00 723.97L601.00 728.77L602.00 733.37L603.00 737.77L604.00 741.95L605.00 745.92L606.00 749.66L607.00 753.16L608.00 756.41L609.00 759.41L610.00 762.15L611.00 764.62L612.00 766.82L613.00 768.73L614.00 770.36L615.00 771.70L616.00 772.75L617.00 773.50L618.00 773.95L619.00 774.10L620.00 773.92L621.00 773.40L622.00 772.52L623.00 771.30L624.00 769.74L625.00 767.84L626.00 765.62L627.00 763.07L628.00 760.20L629.00 757.03L630.00 753.56L631.00 749.80L632.00 745.77L633.00 741.47L634.00 736.93L635.00 732.14L636.00 727.12L637.00 721.89L638.00 716.46L639.00 710.83L640.00 705.03L641.00 699.06L642.00 692.93L643.00 686.67L644.00 680.27L645.00 673.75L646.00 667.12L647.00 660.39L648.00 653.56L649.00 646.66L650.00 639.67L651.00 632.63L652.00 625.52L653.00 618.36L654.00 611.16L655.00 603.92L656.00 596.65L657.00 589.35L658.00 582.03L659.00 574.70L660.00 567.35L661.00 560.01L662.00 552.67L663.00 545.34L664.00 538.03L665.00 530.74L666.00 523.48L667.00 516.26L668.00 509.08L669.00 501.96L670.00 494.91L671.00 487.94L672.00 481.05L673.00 474.26L674.00 467.58L675.00 461.02L676.00 454.60L677.00 448.34L678.00 442.24L679.00 436.32L680.00 430.60L681.00 425.09L682.00 419.81L683.00 414.78L684.00 410.01L685.00 405.52L686.00 401.32L687.00 397.42L688.00 393.86L689.00 390.62L690.00 387.74L691.00 385.21L692.00 383.06L693.00 381.28L694.00 379.90L695.00 378.90L696.00 378.30L697.00 378.10L698.00 378.26L699.00 378.75L700.00 379.56L701.00 380.70L702.00 382.15L703.00 383.91L704.00 385.98L705.00 388.35L706.00 391.01L707.00 393.95L708.00 397.17L709.00 400.65L710.00 404.38L711.00 408.36L712.00 412.57L713.00 417.00L714.00 421.64L715.00 426.48L716.00 431.51L717.00 436.71L718.00 442.09L719.00 447.61L720.00 453.29L721.00 459.10L722.00 465.03L723.00 471.08L724.00 477.25L725.00 483.51L726.00 489.86L727.00 496.30L728.00 502.81L729.00 509.40L730.00 516.05L731.00 522.75L732.00 529.50L733.00 536.30L734.00 543.13L735.00 549.99L736.00 556.87L737.00 563.77L738.00 570.68L739.00 577.59L740.00 584.50L741.00 591.39L742.00 598.26L743.00 605.10L744.00 611.91L745.00 618.67L746.00 625.37L747.00 632.01L748.00 638.58L749.00 645.06L750.00 651.44L751.00 657.73L752.00 663.89L753.00 669.94L754.00 675.84L755.00 681.60L756.00 687.20L757.00 692.62L758.00 697.87L759.00 702.93L760.00 707.79L761.00 712.44L762.00 716.86L763.00 721.06L764.00 725.01L765.00 728.72L766.00 732.17L767.00 735.36L768.00 738.27L769.00 740.91L770.00 743.26L771.00 745.32L772.00 747.09L773.00 748.56L774.00 749.72L775.00 750.58L776.00 751.14L777.00 751.39L778.00 751.28L779.00 750.71L780.00 749.67L781.00 748.17L782.00 746.23L783.00 743.85L784.00 741.06L785.00 737.89L786.00 734.35L787.00 730.48L788.00 726.30L789.00 721.84L790.00 717.13L791.00 712.19L792.00 707.05L793.00 701.74L794.00 696.27L795.00 690.68L796.00 684.98L797.00 679.18L798.00 673.29L799.00 667.34L800.00 661.32L801.00 655.25L802.00 649.12L803.00 642.95L804.00 636.72L805.00 630.44L806.00 624.10L807.00 617.71L808.00 611.25L809.00 604.72L810.00 598.12L811.00 591.44L812.00 584.67L813.00 577.82L814.00 570.89L815.00 563.86L816.00 556.75L817.00 549.55L818.00 542.27L819.00 534.92L820.00 527.49L821.00 520.01L822.00 512.49L823.00 504.94L824.00 497.37L825.00 489.81L826.00 482.27L827.00 474.78L828.00 467.35L829.00 460.00L830.00 452.77L831.00 445.67L832.00 438.73L833.00 431.96L834.00 425.38L835.00 419.03L836.00 412.91L837.00 407.04L838.00 401.44L839.00 396.12L840.00 391.09L841.00 386.36L842.00 381.94L843.00 377.84L844.00 374.06L845.00 370.61L846.00 367.49L847.00 364.69L848.00 362.23L849.00 360.09L850.00 358.29L851.00 356.82L852.00 355.67L853.00 354.85L854.00 354.36L855.00 354.20L856.00 354.37L857.00 354.88L858.00 355.73L859.00 356.92L860.00 358.45L861.00 360.31L862.00 362.50L863.00 365.02L864.00 367.86L865.00 371.03L866.00 374.50L867.00 378.28L868.00 382.37L869.00 386.74L870.00 391.40L871.00 396.34L872.00 401.54L873.00 406.99L874.00 412.70L875.00 418.63L876.00 424.79L877.00 431.15L878.00 437.72L879.00 444.46L880.00 451.37L881.00 458.44L882.00 465.65L883.00 472.98L884.00 480.43L885.00 487.98L886.00 495.61L887.00 503.31L888.00 511.08L889.00 518.89L890.00 526.73L891.00 534.60L892.00 542.48L893.00 550.35L894.00 558.23L895.00 566.08L896.00 573.91L897.00 581.70L898.00 589.46L899.00 597.16L900.00 604.81L901.00 612.40L902.00 619.93L903.00 627.38L904.00 634.76L905.00 642.06L906.00 649.27L907.00 656.40L908.00 663.42L909.00 670.35L910.00 677.16L911.00 683.87L912.00 690.45L913.00 696.91L914.00 703.23L915.00 709.41L916.00 715.44L917.00 721.31L918.00 727.01L919.00 732.52L920.00 737.85L921.00 742.97L922.00 747.88L923.00 752.55L924.00 756.99L925.00 761.18L926.00 765.10L927.00 768.75L928.00 772.10L929.00 775.16L930.00 777.91L931.00 780.34L932.00 782.44L933.00 784.20L934.00 785.61L935.00 786.68L936.00 787.40L937.00 787.76L938.00 787.75L939.00 787.32L940.00 786.48L941.00 785.21L942.00 783.54L943.00 781.46L944.00 778.99L945.00 776.13L946.00 772.91L947.00 769.34L948.00 765.43L949.00 761.20L950.00 756.67L951.00 751.86L952.00 746.78L953.00 741.45L954.00 735.89L955.00 730.11L956.00 724.14L957.00 717.99L958.00 711.67L959.00 705.19L960.00 698.58L961.00 691.84L962.00 684.99L963.00 678.03L964.00 670.97L965.00 663.82L966.00 656.59L967.00 649.29L968.00 641.91L969.00 634.47L970.00 626.97L971.00 619.42L972.00 611.81L973.00 604.16L974.00 596.46L975.00 588.73L976.00 580.96L977.00 573.16L978.00 565.34L979.00 557.50L980.00 549.66L981.00 541.80L982.00 533.96L983.00 526.12L984.00 518.31L985.00 510.53L986.00 502.80L987.00 495.13L988.00 487.52L989.00 480.00L990.00 472.57L991.00 465.26L992.00 458.07L993.00 451.02L994.00 444.14L995.00 437.42L996.00 430.90L997.00 424.58L998.00 418.48L999.00 412.62L1000.00 407.00L1001.00 401.66L1002.00 396.59L1003.00 391.82L1004.00 387.35L1005.00 383.20L1006.00 379.39L1007.00 375.91L1008.00 372.78L1009.00 370.00L1010.00 367.59L1011.00 365.56L1012.00 363.90L1013.00 362.62L1014.00 361.73L1015.00 361.22L1016.00 361.11L1017.00 361.43L1018.00 362.21L1019.00 363.45L1020.00 365.13L1021.00 367.24L1022.00 369.77L1023.00 372.71L1024.00 376.04L1025.00 379.73L1026.00 383.77L1027.00 388.14L1028.00 392.80L1029.00 397.75L1030.00 402.94L1031.00 408.38L1032.00 414.02L1033.00 419.85L1034.00 425.85L1035.00 432.00L1036.00 438.28L1037.00 444.68L1038.00 451.18L1039.00 457.77L1040.00 464.43L1041.00 471.16L1042.00 477.95L1043.00 484.79L1044.00 491.67L1045.00 498.59L1046.00 505.54L1047.00 512.53L1048.00 519.55L1049.00 526.60L1050.00 533.67L1051.00 540.77L1052.00 547.89L1053.00 555.03L1054.00 562.19L1055.00 569.37L1056.00 576.56L1057.00 583.76L1058.00 590.97L1059.00 598.18L1060.00 605.38L1061.00 612.58L1062.00 619.74L1063.00 626.88L1064.00 633.99L1065.00 641.04L1066.00 648.02L1067.00 654.94L1068.00 661.77L1069.00 668.50L1070.00 675.11L1071.00 681.60L1072.00 687.94L1073.00 694.14L1074.00 700.16L1075.00 705.99L1076.00 711.63L1077.00 717.06L1078.00 722.27L1079.00 727.24L1080.00 731.97L1081.00 736.44L1082.00 740.64L1083.00 744.56L1084.00 748.20L1085.00 751.55L1086.00 754.60L1087.00 757.34L1088.00 759.78L1089.00 761.89L1090.00 763.69L1091.00 765.17L1092.00 766.32L1093.00 767.14L1094.00 767.64L1095.00 767.80L1096.00 767.57L1097.00 766.87L1098.00 765.71L1099.00 764.10L1100.00 762.06L1101.00 759.61L1102.00 756.75L1103.00 753.53L1104.00 749.96L1105.00 746.07L1106.00 741.89L1107.00 737.44L1108.00 732.76L1109.00 727.86L1110.00 722.77L1111.00 717.53L1112.00 712.13L1113.00 706.61L1114.00 700.99L1115.00 695.26L1116.00 689.45L1117.00 683.55L1118.00 677.59L1119.00 671.55L1120.00 665.44L1121.00 659.25L1122.00 652.98L1123.00 646.63L1124.00 640.19L1125.00 633.66L1126.00 627.02L1127.00 620.26L1128.00 613.39L1129.00 606.38L1130.00 599.25L1131.00 591.97L1132.00 584.56L1133.00 577.00L1134.00 569.31L1135.00 561.47L1136.00 553.50L1137.00 545.41L1138.00 537.21L1139.00 528.90L1140.00 520.52L1141.00 512.07L1142.00 503.58L1143.00 495.07L1144.00 486.57L1145.00 478.10L1146.00 469.70L1147.00 461.38L1148.00 453.18L1149.00 445.13L1150.00 437.25L1151.00 429.58L1152.00 422.14L1153.00 414.95L1154.00 408.03L1155.00 401.42L1156.00 395.12L1157.00 389.15L1158.00 383.52L1159.00 378.25L1160.00 373.34L1161.00 368.81L1162.00 364.66L1163.00 360.88L1164.00 357.49L1165.00 354.48L1166.00 351.86L1167.00 349.62L1168.00 347.76L1169.00 346.28L1170.00 345.19L1171.00 344.47L1172.00 344.13L1173.00 344.16L1174.00 344.51L1175.00 345.19L1176.00 346.20L1177.00 347.53L1178.00 349.18L1179.00 351.16L1180.00 353.46L1181.00 356.09L1182.00 359.04L1183.00 362.32L1184.00 365.91L1185.00 369.83L1186.00 374.06L1187.00 378.60L1188.00 383.44L1189.00 388.58L1190.00 394.01L1191.00 399.72L1192.00 405.69L1193.00 411.93L1194.00 418.40L1195.00 425.11L1196.00 432.02L1197.00 439.13L1198.00 446.42L1199.00 453.87L1200.00 461.46L1201.00 469.17L1202.00 476.98L1203.00 484.87L1204.00 492.83L1205.00 500.84L1206.00 508.88L1207.00 516.93L1208.00 524.98L1209.00 533.01L1210.00 541.02L1211.00 548.98L1212.00 556.90L1213.00 564.76L1214.00 572.55L1215.00 580.28L1216.00 587.93L1217.00 595.51L1218.00 603.00L1219.00 610.42L1220.00 617.75L1221.00 625.01L1222.00 632.19L1223.00 639.28L1224.00 646.31L1225.00 653.25L1226.00 660.12L1227.00 666.92L1228.00 673.63L1229.00 680.27L1230.00 686.82L1231.00 693.29L1232.00 699.66L1233.00 705.93L1234.00 712.10L1235.00 718.14L1236.00 724.04L1237.00 729.80L1238.00 735.39L1239.00 740.80L1240.00 746.01L1241.00 751.00L1242.00 755.75L1243.00 760.24L1244.00 764.45L1245.00 768.35L1246.00 771.93L1247.00 775.16L1248.00 778.03L1249.00 780.51L1250.00 782.60L1251.00 784.28L1252.00 785.54L1253.00 786.37L1254.00 786.76L1255.00 786.74L1256.00 786.39L1257.00 785.71L1258.00 784.70L1259.00 783.38L1260.00 781.73L1261.00 779.75L1262.00 777.46L1263.00 774.84L1264.00 771.90L1265.00 768.64L1266.00 765.06L1267.00 761.17L1268.00 756.97L1269.00 752.46L1270.00 747.64L1271.00 742.53L1272.00 737.13L1273.00 731.45L1274.00 725.49L1275.00 719.26L1276.00 712.78L1277.00 706.06L1278.00 699.12L1279.00 691.95L1280.00 684.58L1281.00 677.02L1282.00 669.29L1283.00 661.41L1284.00 653.38L1285.00 645.23L1286.00 636.97L1287.00 628.62L1288.00 620.20L1289.00 611.71L1290.00 603.18L1291.00 594.63L1292.00 586.05L1293.00 577.48L1294.00 568.91L1295.00 560.38L1296.00 551.87L1297.00 543.41L1298.00 535.01L1299.00 526.68L1300.00 518.42L1301.00 510.25L1302.00 502.17L1303.00 494.18L1304.00 486.31L1305.00 478.55L1306.00 470.91L1307.00 463.40L1308.00 456.03L1309.00 448.80L1310.00 441.72L1311.00 434.81L1312.00 428.07L1313.00 421.50L1314.00 415.13L1315.00 408.96L1316.00 402.99L1317.00 397.25L1318.00 391.75L1319.00 386.49L1320.00 381.49L1321.00 376.77L1322.00 372.32L1323.00 368.18L1324.00 364.35L1325.00 360.84L1326.00 357.67L1327.00 354.84L1328.00 352.36L1329.00 350.25L1330.00 348.51L1331.00 347.16L1332.00 346.18L1333.00 345.60L1334.00 345.40L1335.00 345.55L1336.00 346.01L1337.00 346.78L1338.00 347.85L1339.00 349.22L1340.00 350.90L1341.00 352.89L1342.00 355.17L1343.00 357.76L1344.00 360.65L1345.00 363.83L1346.00 367.32L1347.00 371.09L1348.00 375.15L1349.00 379.49L1350.00 384.10L1351.00 388.99L1352.00 394.14L1353.00 399.54L1354.00 405.19L1355.00 411.07L1356.00 417.17L1357.00 423.49L1358.00 430.00L1359.00 436.70L1360.00 443.57L1361.00 450.60L1362.00 457.77L1363.00 465.07L1364.00 472.48L1365.00 479.99L1366.00 487.59L1367.00 495.26L1368.00 502.99L1369.00 510.76L1370.00 518.57L1371.00 526.40L1372.00 534.23L1373.00 542.07L1374.00 549.90L1375.00 557.71L1376.00 565.49L1377.00 573.24L1378.00 580.95L1379.00 588.61L1380.00 596.22L1381.00 603.77L1382.00 611.26L1383.00 618.68L1384.00 626.02L1385.00 633.29L1386.00 640.47L1387.00 647.56L1388.00 654.54L1389.00 661.42L1390.00 668.19L1391.00 674.83L1392.00 681.33L1393.00 687.69L1394.00 693.89L1395.00 699.92L1396.00 705.76L1397.00 711.40L1398.00 716.82L1399.00 722.02L1400.00 726.96L1401.00 731.63L1402.00 736.03L1403.00 740.12L1404.00 743.89L1405.00 747.33L1406.00 750.42L1407.00 753.15L1408.00 755.51L1409.00 757.47L1410.00 759.04L1411.00 760.20L1412.00 760.95L1413.00 761.28L1414.00 761.21L1415.00 760.76L1416.00 759.95L1417.00 758.77L1418.00 757.23L1419.00 755.34L1420.00 753.11L1421.00 750.55L1422.00 747.66L1423.00 744.46L1424.00 740.97L1425.00 737.19L1426.00 733.14L1427.00 728.83L1428.00 724.28L1429.00 719.51L1430.00 714.51L1431.00 709.31L1432.00 703.92L1433.00 698.35L1434.00 692.61L1435.00 686.70L1436.00 680.65L1437.00 674.44L1438.00 668.10L1439.00 661.62L1440.00 655.02L1441.00 648.29L1442.00 641.45L1443.00 634.48L1444.00 627.41L1445.00 620.23L1446.00 612.94L1447.00 605.55L1448.00 598.06L1449.00 590.48L1450.00 582.81L1451.00 575.05L1452.00 567.22L1453.00 559.32L1454.00 551.36L1455.00 543.34L1456.00 535.29L1457.00 527.20L1458.00 519.09L1459.00 510.98L1460.00 502.87L1461.00 494.80L1462.00 486.76L1463.00 478.78L1464.00 470.87L1465.00 463.06L1466.00 455.36L1467.00 447.79L1468.00 440.37L1469.00 433.11L1470.00 426.04L1471.00 419.17L1472.00 412.51L1473.00 406.09L1474.00 399.92L1475.00 394.01L1476.00 388.38L1477.00 383.04L1478.00 377.99L1479.00 373.26L1480.00 368.85L1481.00 364.76L1482.00 361.01L1483.00 357.60L1484.00 354.54L1485.00 351.82L1486.00 349.47L1487.00 347.47L1488.00 345.83L1489.00 344.55L1490.00 343.63L1491.00 343.08L1492.00 342.90L1493.00 343.07L1494.00 343.60L1495.00 344.48L1496.00 345.70L1497.00 347.27L1498.00 349.18L1499.00 351.42L1500.00 353.99L1501.00 356.89L1502.00 360.09L1503.00 363.61L1504.00 367.42L1505.00 371.53L1506.00 375.91L1507.00 380.56L1508.00 385.47L1509.00 390.63L1510.00 396.04L1511.00 401.67L1512.00 407.52L1513.00 413.58L1514.00 419.83L1515.00 426.28L1516.00 432.91L1517.00 439.70L1518.00 446.65L1519.00 453.75L1520.00 460.99L1521.00 468.36L1522.00 475.86L1523.00 483.46L1524.00 491.16L1525.00 498.96L1526.00 506.84L1527.00 514.80L1528.00 522.82L1529.00 530.90L1530.00 539.02L1531.00 547.17L1532.00 555.35L1533.00 563.55L1534.00 571.75L1535.00 579.94L1536.00 588.12L1537.00 596.26L1538.00 604.37L1539.00 612.42L1540.00 620.41L1541.00 628.32L1542.00 636.15L1543.00 643.87L1544.00 651.48L1545.00 658.97L1546.00 666.32L1547.00 673.52L1548.00 680.56L1549.00 687.43L1550.00 694.12L1551.00 700.62L1552.00 706.91L1553.00 712.98L1554.00 718.84L1555.00 724.46L1556.00 729.84L1557.00 734.97L1558.00 739.85L1559.00 744.46L1560.00 748.80L1561.00 752.86L1562.00 756.65L1563.00 760.15L1564.00 763.35L1565.00 766.27L1566.00 768.88L1567.00 771.20L1568.00 773.21L1569.00 774.91L1570.00 776.31L1571.00 777.40L1572.00 778.18L1573.00 778.64L1574.00 778.80L1575.00 778.61L1576.00 778.02L1577.00 777.06L1578.00 775.72L1579.00 774.01L1580.00 771.94L1581.00 769.53L1582.00 766.79L1583.00 763.74L1584.00 760.39L1585.00 756.76L1586.00 752.87L1587.00 748.73L1588.00 744.36L1589.00 739.79L1590.00 735.02L1591.00 730.06L1592.00 724.94L1593.00 719.66L1594.00 714.24L1595.00 708.68L1596.00 702.98L1597.00 697.16L1598.00 691.21L1599.00 685.14L1600.00 678.95L1601.00 672.64L1602.00 666.21L1603.00 659.66L1604.00 652.98L1605.00 646.18L1606.00 639.25L1607.00 632.18L1608.00 624.99L1609.00 617.67L1610.00 610.22L1611.00 602.64L1612.00 594.94L1613.00 587.12L1614.00 579.20L1615.00 571.17L1616.00 563.06L1617.00 554.87L1618.00 546.62L1619.00 538.33L1620.00 530.02L1621.00 521.71L1622.00 513.41L1623.00 505.16L1624.00 496.98L1625.00 488.88L1626.00 480.90L1627.00 473.06L1628.00 465.38L1629.00 457.89L1630.00 450.61L1631.00 443.56L1632.00 436.76L1633.00 430.23L1634.00 423.98L1635.00 418.02L1636.00 412.38L1637.00 407.05L1638.00 402.05L1639.00 397.38L1640.00 393.05L1641.00 389.06L1642.00 385.42L1643.00 382.11L1644.00 379.15L1645.00 376.52L1646.00 374.24L1647.00 372.29L1648.00 370.68L1649.00 369.39L1650.00 368.44L1651.00 367.82L1652.00 367.53L1653.00 367.55L1654.00 367.89L1655.00 368.53L1656.00 369.47L1657.00 370.72L1658.00 372.28L1659.00 374.14L1660.00 376.31L1661.00 378.79L1662.00 381.57L1663.00 384.66L1664.00 388.05L1665.00 391.74L1666.00 395.73L1667.00 400.01L1668.00 404.58L1669.00 409.44L1670.00 414.56L1671.00 419.96L1672.00 425.60L1673.00 431.49L1674.00 437.61L1675.00 443.95L1676.00 450.48L1677.00 457.20L1678.00 464.09L1679.00 471.13L1680.00 478.30L1681.00 485.58L1682.00 492.96L1683.00 500.42L1684.00 507.94L1685.00 515.50L1686.00 523.09L1687.00 530.70L1688.00 538.30L1689.00 545.89L1690.00 553.46L1691.00 560.99L1692.00 568.47L1693.00 575.91L1694.00 583.29L1695.00 590.61L1696.00 597.86L1697.00 605.05L1698.00 612.17L1699.00 619.22L1700.00 626.20L1701.00 633.11L1702.00 639.96L1703.00 646.73L1704.00 653.45L1705.00 660.09L1706.00 666.67L1707.00 673.18L1708.00 679.61L1709.00 685.98L1710.00 692.26L1711.00 698.45L1712.00 704.55L1713.00 710.55L1714.00 716.42L1715.00 722.17L1716.00 727.77L1717.00 733.21L1718.00 738.47L1719.00 743.53L1720.00 748.37L1721.00 752.97L1722.00 757.31L1723.00 761.36L1724.00 765.11L1725.00 768.53L1726.00 771.60L1727.00 774.30L1728.00 776.62L1729.00 778.54L1730.00 780.04L1731.00 781.13L1732.00 781.78L1733.00 782.00L1734.00 781.85L1735.00 781.40L1736.00 780.66L1737.00 779.62L1738.00 778.29L1739.00 776.67L1740.00 774.76L1741.00 772.57L1742.00 770.10L1743.00 767.35L1744.00 764.34L1745.00 761.06L1746.00 757.53L1747.00 753.74L1748.00 749.71L1749.00 745.44L1750.00 740.94L1751.00 736.20L1752.00 731.25L1753.00 726.09L1754.00 720.72L1755.00 715.14L1756.00 709.38L1757.00 703.43L1758.00 697.29L1759.00 690.99L1760.00 684.52L1761.00 677.89L1762.00 671.12L1763.00 664.20L1764.00 657.15L1765.00 649.97L1766.00 642.68L1767.00 635.29L1768.00 627.80L1769.00 620.23L1770.00 612.58L1771.00 604.88L1772.00 597.14L1773.00 589.36L1774.00 581.56L1775.00 573.76L1776.00 565.96L1777.00 558.20L1778.00 550.47L1779.00 542.81L1780.00 535.21L1781.00 527.71L1782.00 520.30L1783.00 513.02L1784.00 505.87L1785.00 498.87L1786.00 492.03L1787.00 485.36L1788.00 478.88L1789.00 472.60L1790.00 466.52L1791.00 460.66L1792.00 455.03L1793.00 449.62L1794.00 444.44L1795.00 439.51L1796.00 434.81L1797.00 430.36L1798.00 426.15L1799.00 422.18L1800.00 418.46L1801.00 414.97L1802.00 411.72L1803.00 408.69L1804.00 405.90L1805.00 403.33L1806.00 400.98L1807.00 398.83L1808.00 396.90L1809.00 395.17L1810.00 393.64L1811.00 392.30L1812.00 391.14" stroke="#cc66cc" stroke-width="2.78"/>
<path d="M240.00 468.21L241.00 473.11L242.00 478.19L243.00 483.45L244.00 488.88L245.00 494.47L246.00 500.21L247.00 506.10L248.00 512.12L249.00 518.27L250.00 524.54L251.00 530.91L252.00 537.37L253.00 543.92L254.00 550.53L255.00 557.21L256.00 563.93L257.00 570.68L258.00 577.45L259.00 584.23L260.00 591.00L261.00 597.75L262.00 604.47L263.00 611.15L264.00 617.77L265.00 624.32L266.00 630.79L267.00 637.17L268.00 643.44L269.00 649.60L270.00 655.64L271.00 661.54L272.00 667.30L273.00 672.91L274.00 678.37L275.00 683.65L276.00 688.77L277.00 693.71L278.00 698.46L279.00 703.02L280.00 707.40L281.00 711.57L282.00 715.55L283.00 719.32L284.00 722.89L285.00 726.25L286.00 729.40L287.00 732.34L288.00 735.07L289.00 737.58L290.00 739.89L291.00 741.98L292.00 743.85L293.00 745.52L294.00 746.97L295.00 748.21L296.00 749.23L297.00 750.04L298.00 750.64L299.00 751.02L300.00 751.19L301.00 751.14L302.00 750.85L303.00 750.32L304.00 749.55L305.00 748.53L306.00 747.27L307.00 745.78L308.00 744.04L309.00 742.06L310.00 739.84L311.00 737.37L312.00 734.68L313.00 731.74L314.00 728.57L315.00 725.17L316.00 721.54L317.00 717.68L318.00 713.60L319.00 709.31L320.00 704.80L321.00 700.09L322.00 695.18L323.00 690.08L324.00 684.80L325.00 679.35L326.00 673.73L327.00 667.96L328.00 662.04L329.00 655.99L330.00 649.81L331.00 643.53L332.00 637.14L333.00 630.66L334.00 624.11L335.00 617.49L336.00 610.81L337.00 604.09L338.00 597.34L339.00 590.56L340.00 583.76L341.00 576.97L342.00 570.18L343.00 563.41L344.00 556.66L345.00 549.95L346.00 543.27L347.00 536.65L348.00 530.09L349.00 523.60L350.00 517.18L351.00 510.84L352.00 504.60L353.00 498.46L354.00 492.43L355.00 486.52L356.00 480.74L357.00 475.09L358.00 469.60L359.00 464.26L360.00 459.09L361.00 454.10L362.00 449.31L363.00 444.71L364.00 440.33L365.00 436.18L366.00 432.26L367.00 428.60L368.00 425.19L369.00 422.05L370.00 419.20L371.00 416.63L372.00 414.36L373.00 412.40L374.00 410.76L375.00 409.44L376.00 408.44L377.00 407.78L378.00 407.44L379.00 407.43L380.00 407.65L381.00 408.09L382.00 408.76L383.00 409.65L384.00 410.75L385.00 412.08L386.00 413.62L387.00 415.38L388.00 417.36L389.00 419.55L390.00 421.95L391.00 424.56L392.00 427.37L393.00 430.39L394.00 433.62L395.00 437.04L396.00 440.67L397.00 444.49L398.00 448.50L399.00 452.71L400.00 457.10L401.00 461.67L402.00 466.43L403.00 471.36L404.00 476.47L405.00 481.74L406.00 487.18L407.00 492.77L408.00 498.51L409.00 504.40L410.00 510.43L411.00 516.59L412.00 522.86L413.00 529.25L414.00 535.73L415.00 542.31L416.00 548.96L417.00 555.67L418.00 562.44L419.00 569.24L420.00 576.06L421.00 582.89L422.00 589.71L423.00 596.51L424.00 603.26L425.00 609.96L426.00 616.58L427.00 623.12L428.00 629.55L429.00 635.87L430.00 642.05L431.00 648.08L432.00 653.95L433.00 659.65L434.00 665.17L435.00 670.49L436.00 675.62L437.00 680.53L438.00 685.23L439.00 689.70L440.00 693.95L441.00 697.98L442.00 701.76L443.00 705.32L444.00 708.64L445.00 711.73L446.00 714.59L447.00 717.21L448.00 719.60L449.00 721.77L450.00 723.71L451.00 725.43L452.00 726.92L453.00 728.20L454.00 729.26L455.00 730.11L456.00 730.74L457.00 731.16L458.00 731.37L459.00 731.37L460.00 731.13L461.00 730.65L462.00 729.94L463.00 728.98L464.00 727.78L465.00 726.33L466.00 724.63L467.00 722.69L468.00 720.49L469.00 718.04L470.00 715.34L471.00 712.37L472.00 709.15L473.00 705.66L474.00 701.92L475.00 697.93L476.00 693.67L477.00 689.17L478.00 684.42L479.00 679.43L480.00 674.21L481.00 668.77L482.00 663.11L483.00 657.25L484.00 651.20L485.00 644.97L486.00 638.58L487.00 632.03L488.00 625.36L489.00 618.57L490.00 611.68L491.00 604.70L492.00 597.66L493.00 590.57L494.00 583.43L495.00 576.28L496.00 569.12L497.00 561.97L498.00 554.84L499.00 547.74L500.00 540.69L501.00 533.69L502.00 526.75L503.00 519.89L504.00 513.11L505.00 506.42L506.00 499.82L507.00 493.33L508.00 486.94L509.00 480.67L510.00 474.52L511.00 468.49L512.00 462.60L513.00 456.85L514.00 451.24L515.00 445.78L516.00 440.47L517.00 435.34L518.00 430.37L519.00 425.59L520.00 421.00L521.00 416.62L522.00 412.44L523.00 408.49L524.00 404.76L525.00 401.28L526.00 398.05L527.00 395.09L528.00 392.40L529.00 389.99L530.00 387.88L531.00 386.06L532.00 384.56L533.00 383.36L534.00 382.49L535.00 381.93L536.00 381.71L537.00 381.81L538.00 382.24L539.00 383.00L540.00 384.09L541.00 385.51L542.00 387.24L543.00 389.29L544.00 391.66L545.00 394.33L546.00 397.29L547.00 400.55L548.00 404.08L549.00 407.88L550.00 411.95L551.00 416.27L552.00 420.83L553.00 425.62L554.00 430.62L555.00 435.84L556.00 441.25L557.00 446.84L558.00 452.61L559.00 458.53L560.00 464.61L561.00 470.82L562.00 477.16L563.00 483.61L564.00 490.16L565.00 496.81L566.00 503.55L567.00 510.35L568.00 517.22L569.00 524.14L570.00 531.11L571.00 538.12L572.00 545.15L573.00 552.20L574.00 559.27L575.00 566.34L576.00 573.40L577.00 580.46L578.00 587.50L579.00 594.52L580.00 601.51L581.00 608.47L582.00 615.38L583.00 622.25L584.00 629.06L585.00 635.82L586.00 642.50L587.00 649.11L588.00 655.65L589.00 662.09L590.00 668.44L591.00 674.70L592.00 680.84L593.00 686.87L594.00 692.77L595.00 698.54L596.00 704.17L597.00 709.66L598.00 714.98L599.00 720.14L600.00 725.12L601.00 729.92L602.00 734.53L603.00 738.93L604.00 743.12L605.00 747.09L606.00 750.84L607.00 754.34L608.00 757.60L609.00 760.60L610.00 763.34L611.00 765.81L612.00 768.01L613.00 769.93L614.00 771.56L615.00 772.90L616.00 773.95L617.00 774.70L618.00 775.15L619.00 775.30L620.00 775.13L621.00 774.60L622.00 773.73L623.00 772.51L624.00 770.96L625.00 769.06L626.00 766.84L627.00 764.30L628.00 761.44L629.00 758.27L630.00 754.81L631.00 751.07L632.00 747.05L633.00 742.77L634.00 738.23L635.00 733.46L636.00 728.46L637.00 723.24L638.00 717.82L639.00 712.22L640.00 706.43L641.00 700.48L642.00 694.37L643.00 688.13L644.00 681.75L645.00 675.25L646.00 668.64L647.00 661.93L648.00 655.13L649.00 648.24L650.00 641.28L651.00 634.26L652.00 627.18L653.00 620.04L654.00 612.86L655.00 605.65L656.00 598.40L657.00 591.12L658.00 583.83L659.00 576.52L660.00 569.20L661.00 561.88L662.00 554.57L663.00 547.26L664.00 539.97L665.00 532.70L666.00 525.47L667.00 518.27L668.00 511.12L669.00 504.02L670.00 496.99L671.00 490.04L672.00 483.17L673.00 476.40L674.00 469.74L675.00 463.20L676.00 456.80L677.00 450.55L678.00 444.47L679.00 438.57L680.00 432.86L681.00 427.37L682.00 422.11L683.00 417.09L684.00 412.33L685.00 407.85L686.00 403.66L687.00 399.78L688.00 396.22L689.00 392.99L690.00 390.11L691.00 387.60L692.00 385.45L693.00 383.68L694.00 382.29L695.00 381.30L696.00 380.70L697.00 380.50L698.00 380.66L699.00 381.15L700.00 381.97L701.00 383.10L702.00 384.55L703.00 386.32L704.00 388.39L705.00 390.76L706.00 393.43L707.00 396.37L708.00 399.59L709.00 403.08L710.00 406.82L711.00 410.80L712.00 415.01L713.00 419.45L714.00 424.10L715.00 428.94L716.00 433.98L717.00 439.19L718.00 444.57L719.00 450.10L720.00 455.78L721.00 461.60L722.00 467.54L723.00 473.60L724.00 479.77L725.00 486.04L726.00 492.41L727.00 498.85L728.00 505.38L729.00 511.97L730.00 518.63L731.00 525.34L732.00 532.10L733.00 538.91L734.00 545.75L735.00 552.62L736.00 559.52L737.00 566.42L738.00 573.34L739.00 580.26L740.00 587.18L741.00 594.08L742.00 600.96L743.00 607.81L744.00 614.63L745.00 621.40L746.00 628.11L747.00 634.76L748.00 641.33L749.00 647.82L750.00 654.22L751.00 660.51L752.00 666.68L753.00 672.73L754.00 678.64L755.00 684.41L756.00 690.01L757.00 695.45L758.00 700.71L759.00 705.77L760.00 710.64L761.00 715.29L762.00 719.72L763.00 723.92L764.00 727.88L765.00 731.59L766.00 735.05L767.00 738.24L768.00 741.16L769.00 743.79L770.00 746.15L771.00 748.21L772.00 749.98L773.00 751.45L774.00 752.62L775.00 753.48L776.00 754.04L777.00 754.29L778.00 754.18L779.00 753.61L780.00 752.57L781.00 751.08L782.00 749.13L783.00 746.75L784.00 743.97L785.00 740.79L786.00 737.26L787.00 733.39L788.00 729.21L789.00 724.74L790.00 720.03L791.00 715.09L792.00 709.96L793.00 704.65L794.00 699.19L795.00 693.59L796.00 687.89L797.00 682.09L798.00 676.21L799.00 670.26L800.00 664.24L801.00 658.17L802.00 652.05L803.00 645.87L804.00 639.65L805.00 633.37L806.00 627.03L807.00 620.64L808.00 614.18L809.00 607.65L810.00 601.05L811.00 594.38L812.00 587.61L813.00 580.77L814.00 573.83L815.00 566.81L816.00 559.70L817.00 552.50L818.00 545.22L819.00 537.87L820.00 530.45L821.00 522.97L822.00 515.45L823.00 507.90L824.00 500.34L825.00 492.78L826.00 485.24L827.00 477.75L828.00 470.32L829.00 462.98L830.00 455.75L831.00 448.65L832.00 441.71L833.00 434.94L834.00 428.37L835.00 422.01L836.00 415.89L837.00 410.03L838.00 404.43L839.00 399.11L840.00 394.08L841.00 389.35L842.00 384.93L843.00 380.84L844.00 377.06L845.00 373.61L846.00 370.48L847.00 367.69L848.00 365.23L849.00 363.09L850.00 361.29L851.00 359.82L852.00 358.67L853.00 357.85L854.00 357.36L855.00 357.20L856.00 357.37L857.00 357.88L858.00 358.73L859.00 359.92L860.00 361.44L861.00 363.30L862.00 365.49L863.00 368.01L864.00 370.85L865.00 374.01L866.00 377.48L867.00 381.26L868.00 385.33L869.00 389.71L870.00 394.36L871.00 399.29L872.00 404.49L873.00 409.94L874.00 415.63L875.00 421.56L876.00 427.71L877.00 434.07L878.00 440.62L879.00 447.36L880.00 454.27L881.00 461.33L882.00 468.53L883.00 475.85L884.00 483.29L885.00 490.83L886.00 498.45L887.00 506.15L888.00 513.90L889.00 521.70L890.00 529.54L891.00 537.39L892.00 545.26L893.00 553.13L894.00 561.00L895.00 568.84L896.00 576.66L897.00 584.44L898.00 592.19L899.00 599.88L900.00 607.52L901.00 615.11L902.00 622.62L903.00 630.07L904.00 637.44L905.00 644.73L906.00 651.93L907.00 659.04L908.00 666.06L909.00 672.98L910.00 679.79L911.00 686.48L912.00 693.06L913.00 699.51L914.00 705.82L915.00 712.00L916.00 718.02L917.00 723.88L918.00 729.57L919.00 735.08L920.00 740.40L921.00 745.52L922.00 750.42L923.00 755.09L924.00 759.52L925.00 763.71L926.00 767.62L927.00 771.27L928.00 774.62L929.00 777.67L930.00 780.42L931.00 782.84L932.00 784.94L933.00 786.70L934.00 788.12L935.00 789.18L936.00 789.90L937.00 790.26L938.00 790.25L939.00 789.82L940.00 788.96L941.00 787.69L942.00 786.00L943.00 783.90L944.00 781.41L945.00 778.53L946.00 775.29L947.00 771.68L948.00 767.74L949.00 763.48L950.00 758.91L951.00 754.06L952.00 748.93L953.00 743.55L954.00 737.95L955.00 732.12L956.00 726.09L957.00 719.89L958.00 713.51L959.00 706.98L960.00 700.30L961.00 693.50L962.00 686.58L963.00 679.55L964.00 672.42L965.00 665.20L966.00 657.90L967.00 650.52L968.00 643.07L969.00 635.56L970.00 627.98L971.00 620.35L972.00 612.67L973.00 604.93L974.00 597.16L975.00 589.35L976.00 581.50L977.00 573.62L978.00 565.72L979.00 557.81L980.00 549.88L981.00 541.95L982.00 534.02L983.00 526.11L984.00 518.22L985.00 510.37L986.00 502.56L987.00 494.82L988.00 487.14L989.00 479.54L990.00 472.05L991.00 464.67L992.00 457.41L993.00 450.30L994.00 443.35L995.00 436.58L996.00 430.00L997.00 423.62L998.00 417.47L999.00 411.56L1000.00 405.90L1001.00 400.50L1002.00 395.39L1003.00 390.58L1004.00 386.08L1005.00 381.89L1006.00 378.04L1007.00 374.53L1008.00 371.38L1009.00 368.58L1010.00 366.15L1011.00 364.10L1012.00 362.42L1013.00 361.14L1014.00 360.24L1015.00 359.73L1016.00 359.61L1017.00 359.93L1018.00 360.72L1019.00 361.96L1020.00 363.65L1021.00 365.78L1022.00 368.33L1023.00 371.29L1024.00 374.63L1025.00 378.35L1026.00 382.42L1027.00 386.81L1028.00 391.51L1029.00 396.49L1030.00 401.72L1031.00 407.20L1032.00 412.88L1033.00 418.76L1034.00 424.81L1035.00 431.01L1036.00 437.34L1037.00 443.79L1038.00 450.35L1039.00 456.99L1040.00 463.71L1041.00 470.50L1042.00 477.35L1043.00 484.25L1044.00 491.20L1045.00 498.19L1046.00 505.21L1047.00 512.27L1048.00 519.36L1049.00 526.47L1050.00 533.62L1051.00 540.79L1052.00 547.98L1053.00 555.20L1054.00 562.43L1055.00 569.68L1056.00 576.95L1057.00 584.22L1058.00 591.51L1059.00 598.79L1060.00 606.06L1061.00 613.33L1062.00 620.57L1063.00 627.78L1064.00 634.95L1065.00 642.07L1066.00 649.12L1067.00 656.11L1068.00 663.00L1069.00 669.79L1070.00 676.47L1071.00 683.02L1072.00 689.42L1073.00 695.67L1074.00 701.75L1075.00 707.64L1076.00 713.33L1077.00 718.81L1078.00 724.06L1079.00 729.08L1080.00 733.85L1081.00 738.36L1082.00 742.60L1083.00 746.56L1084.00 750.23L1085.00 753.61L1086.00 756.68L1087.00 759.45L1088.00 761.91L1089.00 764.04L1090.00 765.86L1091.00 767.34L1092.00 768.50L1093.00 769.33L1094.00 769.83L1095.00 770.00L1096.00 769.77L1097.00 769.07L1098.00 767.91L1099.00 766.31L1100.00 764.27L1101.00 761.82L1102.00 758.97L1103.00 755.75L1104.00 752.18L1105.00 748.30L1106.00 744.12L1107.00 739.68L1108.00 735.00L1109.00 730.11L1110.00 725.04L1111.00 719.80L1112.00 714.41L1113.00 708.90L1114.00 703.28L1115.00 697.57L1116.00 691.77L1117.00 685.89L1118.00 679.93L1119.00 673.90L1120.00 667.80L1121.00 661.63L1122.00 655.37L1123.00 649.04L1124.00 642.61L1125.00 636.09L1126.00 629.46L1127.00 622.72L1128.00 615.86L1129.00 608.87L1130.00 601.75L1131.00 594.49L1132.00 587.09L1133.00 579.54L1134.00 571.86L1135.00 564.04L1136.00 556.08L1137.00 548.01L1138.00 539.82L1139.00 531.53L1140.00 523.16L1141.00 514.72L1142.00 506.25L1143.00 497.75L1144.00 489.26L1145.00 480.81L1146.00 472.41L1147.00 464.11L1148.00 455.92L1149.00 447.88L1150.00 440.02L1151.00 432.36L1152.00 424.92L1153.00 417.75L1154.00 410.84L1155.00 404.23L1156.00 397.94L1157.00 391.98L1158.00 386.36L1159.00 381.10L1160.00 376.20L1161.00 371.67L1162.00 367.53L1163.00 363.76L1164.00 360.37L1165.00 357.37L1166.00 354.75L1167.00 352.51L1168.00 350.66L1169.00 349.18L1170.00 348.09L1171.00 347.37L1172.00 347.03L1173.00 347.06L1174.00 347.41L1175.00 348.10L1176.00 349.10L1177.00 350.43L1178.00 352.09L1179.00 354.07L1180.00 356.37L1181.00 359.00L1182.00 361.96L1183.00 365.24L1184.00 368.83L1185.00 372.75L1186.00 376.98L1187.00 381.53L1188.00 386.37L1189.00 391.52L1190.00 396.95L1191.00 402.67L1192.00 408.65L1193.00 414.89L1194.00 421.37L1195.00 428.08L1196.00 435.00L1197.00 442.11L1198.00 449.41L1199.00 456.86L1200.00 464.46L1201.00 472.17L1202.00 479.99L1203.00 487.89L1204.00 495.86L1205.00 503.88L1206.00 511.92L1207.00 519.98L1208.00 528.04L1209.00 536.08L1210.00 544.09L1211.00 552.06L1212.00 559.99L1213.00 567.86L1214.00 575.66L1215.00 583.39L1216.00 591.05L1217.00 598.63L1218.00 606.14L1219.00 613.56L1220.00 620.90L1221.00 628.17L1222.00 635.35L1223.00 642.46L1224.00 649.49L1225.00 656.44L1226.00 663.31L1227.00 670.11L1228.00 676.84L1229.00 683.48L1230.00 690.04L1231.00 696.51L1232.00 702.89L1233.00 709.17L1234.00 715.34L1235.00 721.38L1236.00 727.29L1237.00 733.06L1238.00 738.65L1239.00 744.07L1240.00 749.28L1241.00 754.28L1242.00 759.03L1243.00 763.52L1244.00 767.73L1245.00 771.64L1246.00 775.22L1247.00 778.45L1248.00 781.32L1249.00 783.81L1250.00 785.90L1251.00 787.58L1252.00 788.84L1253.00 789.67L1254.00 790.06L1255.00 790.04L1256.00 789.69L1257.00 789.01L1258.00 788.00L1259.00 786.67L1260.00 785.02L1261.00 783.05L1262.00 780.75L1263.00 778.13L1264.00 775.19L1265.00 771.93L1266.00 768.35L1267.00 764.45L1268.00 760.25L1269.00 755.73L1270.00 750.92L1271.00 745.80L1272.00 740.40L1273.00 734.71L1274.00 728.74L1275.00 722.52L1276.00 716.03L1277.00 709.31L1278.00 702.35L1279.00 695.18L1280.00 687.81L1281.00 680.25L1282.00 672.51L1283.00 664.62L1284.00 656.59L1285.00 648.44L1286.00 640.17L1287.00 631.82L1288.00 623.39L1289.00 614.89L1290.00 606.36L1291.00 597.80L1292.00 589.22L1293.00 580.63L1294.00 572.07L1295.00 563.52L1296.00 555.01L1297.00 546.55L1298.00 538.14L1299.00 529.80L1300.00 521.54L1301.00 513.36L1302.00 505.27L1303.00 497.28L1304.00 489.40L1305.00 481.63L1306.00 473.99L1307.00 466.48L1308.00 459.10L1309.00 451.87L1310.00 444.79L1311.00 437.87L1312.00 431.12L1313.00 424.55L1314.00 418.17L1315.00 412.00L1316.00 406.03L1317.00 400.29L1318.00 394.78L1319.00 389.52L1320.00 384.51L1321.00 379.78L1322.00 375.34L1323.00 371.20L1324.00 367.36L1325.00 363.85L1326.00 360.67L1327.00 357.84L1328.00 355.37L1329.00 353.26L1330.00 351.52L1331.00 350.16L1332.00 349.18L1333.00 348.60L1334.00 348.40L1335.00 348.55L1336.00 349.01L1337.00 349.77L1338.00 350.84L1339.00 352.21L1340.00 353.88L1341.00 355.86L1342.00 358.13L1343.00 360.71L1344.00 363.59L1345.00 366.76L1346.00 370.23L1347.00 373.99L1348.00 378.03L1349.00 382.36L1350.00 386.96L1351.00 391.83L1352.00 396.96L1353.00 402.34L1354.00 407.97L1355.00 413.83L1356.00 419.91L1357.00 426.20L1358.00 432.69L1359.00 439.36L1360.00 446.21L1361.00 453.21L1362.00 460.35L1363.00 467.62L1364.00 475.01L1365.00 482.50L1366.00 490.07L1367.00 497.71L1368.00 505.41L1369.00 513.15L1370.00 520.93L1371.00 528.72L1372.00 536.53L1373.00 544.34L1374.00 552.14L1375.00 559.92L1376.00 567.67L1377.00 575.39L1378.00 583.07L1379.00 590.70L1380.00 598.28L1381.00 605.81L1382.00 613.27L1383.00 620.66L1384.00 627.98L1385.00 635.21L1386.00 642.37L1387.00 649.43L1388.00 656.39L1389.00 663.24L1390.00 669.99L1391.00 676.60L1392.00 683.08L1393.00 689.42L1394.00 695.60L1395.00 701.61L1396.00 707.43L1397.00 713.05L1398.00 718.46L1399.00 723.63L1400.00 728.56L1401.00 733.22L1402.00 737.60L1403.00 741.68L1404.00 745.44L1405.00 748.87L1406.00 751.96L1407.00 754.68L1408.00 757.02L1409.00 758.98L1410.00 760.54L1411.00 761.70L1412.00 762.45L1413.00 762.78L1414.00 762.71L1415.00 762.26L1416.00 761.44L1417.00 760.25L1418.00 758.70L1419.00 756.80L1420.00 754.55L1421.00 751.96L1422.00 749.05L1423.00 745.83L1424.00 742.31L1425.00 738.50L1426.00 734.42L1427.00 730.07L1428.00 725.49L1429.00 720.67L1430.00 715.63L1431.00 710.39L1432.00 704.95L1433.00 699.33L1434.00 693.54L1435.00 687.58L1436.00 681.47L1437.00 675.21L1438.00 668.81L1439.00 662.27L1440.00 655.61L1441.00 648.82L1442.00 641.91L1443.00 634.88L1444.00 627.74L1445.00 620.49L1446.00 613.14L1447.00 605.68L1448.00 598.12L1449.00 590.47L1450.00 582.73L1451.00 574.91L1452.00 567.00L1453.00 559.03L1454.00 551.00L1455.00 542.91L1456.00 534.79L1457.00 526.63L1458.00 518.45L1459.00 510.27L1460.00 502.10L1461.00 493.96L1462.00 485.85L1463.00 477.81L1464.00 469.84L1465.00 461.97L1466.00 454.21L1467.00 446.58L1468.00 439.10L1469.00 431.78L1470.00 424.66L1471.00 417.73L1472.00 411.03L1473.00 404.56L1474.00 398.34L1475.00 392.39L1476.00 386.71L1477.00 381.33L1478.00 376.25L1479.00 371.48L1480.00 367.03L1481.00 362.92L1482.00 359.14L1483.00 355.70L1484.00 352.62L1485.00 349.89L1486.00 347.51L1487.00 345.50L1488.00 343.84L1489.00 342.56L1490.00 341.64L1491.00 341.08L1492.00 340.90L1493.00 341.08L1494.00 341.61L1495.00 342.49L1496.00 343.72L1497.00 345.30L1498.00 347.22L1499.00 349.48L1500.00 352.07L1501.00 354.98L1502.00 358.21L1503.00 361.75L1504.00 365.59L1505.00 369.72L1506.00 374.13L1507.00 378.81L1508.00 383.76L1509.00 388.95L1510.00 394.39L1511.00 400.06L1512.00 405.95L1513.00 412.05L1514.00 418.35L1515.00 424.84L1516.00 431.51L1517.00 438.35L1518.00 445.35L1519.00 452.50L1520.00 459.79L1521.00 467.21L1522.00 474.76L1523.00 482.41L1524.00 490.17L1525.00 498.02L1526.00 505.96L1527.00 513.97L1528.00 522.05L1529.00 530.18L1530.00 538.36L1531.00 546.57L1532.00 554.81L1533.00 563.06L1534.00 571.32L1535.00 579.57L1536.00 587.80L1537.00 596.00L1538.00 604.17L1539.00 612.27L1540.00 620.32L1541.00 628.29L1542.00 636.16L1543.00 643.94L1544.00 651.60L1545.00 659.14L1546.00 666.54L1547.00 673.80L1548.00 680.89L1549.00 687.80L1550.00 694.54L1551.00 701.08L1552.00 707.41L1553.00 713.53L1554.00 719.42L1555.00 725.08L1556.00 730.50L1557.00 735.67L1558.00 740.57L1559.00 745.22L1560.00 749.59L1561.00 753.68L1562.00 757.49L1563.00 761.02L1564.00 764.25L1565.00 767.18L1566.00 769.81L1567.00 772.14L1568.00 774.17L1569.00 775.89L1570.00 777.29L1571.00 778.39L1572.00 779.17L1573.00 779.64L1574.00 779.80L1575.00 779.61L1576.00 779.02L1577.00 778.06L1578.00 776.72L1579.00 775.01L1580.00 772.94L1581.00 770.53L1582.00 767.79L1583.00 764.74L1584.00 761.39L1585.00 757.76L1586.00 753.87L1587.00 749.73L1588.00 745.36L1589.00 740.79L1590.00 736.02L1591.00 731.06L1592.00 725.94L1593.00 720.66L1594.00 715.24L1595.00 709.68L1596.00 703.98L1597.00 698.16L1598.00 692.21L1599.00 686.14L1600.00 679.95L1601.00 673.64L1602.00 667.21L1603.00 660.66L1604.00 653.98L1605.00 647.18L1606.00 640.25L1607.00 633.18L1608.00 625.99L1609.00 618.67L1610.00 611.22L1611.00 603.64L1612.00 595.94L1613.00 588.12L1614.00 580.20L1615.00 572.17L1616.00 564.06L1617.00 555.87L1618.00 547.62L1619.00 539.33L1620.00 531.02L1621.00 522.71L1622.00 514.41L1623.00 506.16L1624.00 497.98L1625.00 489.88L1626.00 481.90L1627.00 474.06L1628.00 466.38L1629.00 458.89L1630.00 451.61L1631.00 444.56L1632.00 437.76L1633.00 431.23L1634.00 424.98L1635.00 419.02L1636.00 413.38L1637.00 408.05L1638.00 403.05L1639.00 398.38L1640.00 394.05L1641.00 390.06L1642.00 386.42L1643.00 383.11L1644.00 380.15L1645.00 377.52L1646.00 375.24L1647.00 373.29L1648.00 371.68L1649.00 370.39L1650.00 369.44L1651.00 368.82L1652.00 368.53L1653.00 368.56L1654.00 368.89L1655.00 369.54L1656.00 370.49L1657.00 371.75L1658.00 373.32L1659.00 375.19L1660.00 377.38L1661.00 379.87L1662.00 382.67L1663.00 385.78L1664.00 389.20L1665.00 392.92L1666.00 396.93L1667.00 401.25L1668.00 405.85L1669.00 410.74L1670.00 415.90L1671.00 421.33L1672.00 427.02L1673.00 432.95L1674.00 439.11L1675.00 445.49L1676.00 452.07L1677.00 458.84L1678.00 465.78L1679.00 472.86L1680.00 480.08L1681.00 487.42L1682.00 494.85L1683.00 502.36L1684.00 509.94L1685.00 517.56L1686.00 525.20L1687.00 532.87L1688.00 540.53L1689.00 548.17L1690.00 555.80L1691.00 563.39L1692.00 570.93L1693.00 578.43L1694.00 585.86L1695.00 593.24L1696.00 600.55L1697.00 607.80L1698.00 614.97L1699.00 622.08L1700.00 629.12L1701.00 636.09L1702.00 642.99L1703.00 649.82L1704.00 656.59L1705.00 663.28L1706.00 669.91L1707.00 676.47L1708.00 682.96L1709.00 689.37L1710.00 695.69L1711.00 701.93L1712.00 708.08L1713.00 714.11L1714.00 720.03L1715.00 725.82L1716.00 731.45L1717.00 736.93L1718.00 742.22L1719.00 747.31L1720.00 752.18L1721.00 756.81L1722.00 761.17L1723.00 765.25L1724.00 769.02L1725.00 772.45L1726.00 775.54L1727.00 778.26L1728.00 780.59L1729.00 782.52L1730.00 784.03L1731.00 785.12L1732.00 785.78L1733.00 786.00L1734.00 785.85L1735.00 785.41L1736.00 784.67L1737.00 783.63L1738.00 782.31L1739.00 780.69L1740.00 778.79L1741.00 776.61L1742.00 774.15L1743.00 771.42L1744.00 768.42L1745.00 765.16L1746.00 761.64L1747.00 757.88L1748.00 753.86L1749.00 749.61L1750.00 745.13L1751.00 740.42L1752.00 735.49L1753.00 730.35L1754.00 725.00L1755.00 719.46L1756.00 713.72L1757.00 707.79L1758.00 701.69L1759.00 695.42L1760.00 688.98L1761.00 682.38L1762.00 675.64L1763.00 668.75L1764.00 661.73L1765.00 654.59L1766.00 647.34L1767.00 639.98L1768.00 632.52L1769.00 624.99L1770.00 617.38L1771.00 609.72L1772.00 602.01L1773.00 594.26L1774.00 586.50L1775.00 578.74L1776.00 570.98L1777.00 563.25L1778.00 555.57L1779.00 547.94L1780.00 540.38L1781.00 532.91L1782.00 525.54L1783.00 518.29L1784.00 511.18L1785.00 504.21L1786.00 497.41L1787.00 490.78L1788.00 484.33L1789.00 478.08L1790.00 472.04L1791.00 466.21L1792.00 460.60L1793.00 455.22L1794.00 450.08L1795.00 445.17L1796.00 440.50L1797.00 436.07L1798.00 431.89L1799.00 427.95L1800.00 424.24L1801.00 420.78L1802.00 417.55L1803.00 414.54L1804.00 411.77L1805.00 409.22L1806.00 406.88L1807.00 404.75L1808.00 402.83L1809.00 401.12L1810.00 399.59L1811.00 398.26L1812.00 397.12" stroke="#6666cc" stroke-width="2.78"/>
<path d="M240.00 469.07L241.00 473.89L242.00 478.86L243.00 483.96L244.00 489.20L245.00 494.56L246.00 500.04L247.00 505.64L248.00 511.35L249.00 517.16L250.00 523.07L251.00 529.07L252.00 535.15L253.00 541.31L254.00 547.54L255.00 553.84L256.00 560.19L257.00 566.59L258.00 573.02L259.00 579.49L260.00 585.98L261.00 592.47L262.00 598.97L263.00 605.45L264.00 611.91L265.00 618.34L266.00 624.73L267.00 631.05L268.00 637.31L269.00 643.49L270.00 649.57L271.00 655.55L272.00 661.41L273.00 667.15L274.00 672.75L275.00 678.21L276.00 683.50L277.00 688.63L278.00 693.59L279.00 698.36L280.00 702.94L281.00 707.33L282.00 711.51L283.00 715.49L284.00 719.25L285.00 722.80L286.00 726.13L287.00 729.24L288.00 732.13L289.00 734.80L290.00 737.24L291.00 739.45L292.00 741.43L293.00 743.20L294.00 744.73L295.00 746.04L296.00 747.12L297.00 747.97L298.00 748.60L299.00 749.01L300.00 749.19L301.00 749.14L302.00 748.84L303.00 748.30L304.00 747.51L305.00 746.48L306.00 745.20L307.00 743.68L308.00 741.92L309.00 739.92L310.00 737.69L311.00 735.21L312.00 732.51L313.00 729.58L314.00 726.42L315.00 723.05L316.00 719.45L317.00 715.64L318.00 711.62L319.00 707.40L320.00 702.99L321.00 698.38L322.00 693.58L323.00 688.60L324.00 683.45L325.00 678.13L326.00 672.66L327.00 667.03L328.00 661.26L329.00 655.36L330.00 649.32L331.00 643.18L332.00 636.92L333.00 630.56L334.00 624.11L335.00 617.58L336.00 610.98L337.00 604.32L338.00 597.61L339.00 590.86L340.00 584.08L341.00 577.28L342.00 570.47L343.00 563.66L344.00 556.87L345.00 550.10L346.00 543.37L347.00 536.68L348.00 530.05L349.00 523.49L350.00 517.00L351.00 510.61L352.00 504.32L353.00 498.14L354.00 492.09L355.00 486.17L356.00 480.40L357.00 474.79L358.00 469.34L359.00 464.07L360.00 458.99L361.00 454.11L362.00 449.44L363.00 444.98L364.00 440.76L365.00 436.77L366.00 433.03L367.00 429.54L368.00 426.31L369.00 423.35L370.00 420.67L371.00 418.26L372.00 416.15L373.00 414.33L374.00 412.81L375.00 411.58L376.00 410.66L377.00 410.05L378.00 409.74L379.00 409.73L380.00 409.94L381.00 410.35L382.00 410.98L383.00 411.82L384.00 412.87L385.00 414.13L386.00 415.60L387.00 417.27L388.00 419.16L389.00 421.26L390.00 423.57L391.00 426.08L392.00 428.81L393.00 431.75L394.00 434.89L395.00 438.24L396.00 441.80L397.00 445.57L398.00 449.53L399.00 453.70L400.00 458.07L401.00 462.63L402.00 467.38L403.00 472.33L404.00 477.45L405.00 482.76L406.00 488.23L407.00 493.88L408.00 499.68L409.00 505.63L410.00 511.72L411.00 517.94L412.00 524.28L413.00 530.74L414.00 537.28L415.00 543.92L416.00 550.62L417.00 557.39L418.00 564.19L419.00 571.02L420.00 577.87L421.00 584.71L422.00 591.53L423.00 598.32L424.00 605.05L425.00 611.72L426.00 618.31L427.00 624.80L428.00 631.18L429.00 637.43L430.00 643.55L431.00 649.51L432.00 655.31L433.00 660.93L434.00 666.37L435.00 671.62L436.00 676.67L437.00 681.51L438.00 686.14L439.00 690.55L440.00 694.73L441.00 698.69L442.00 702.42L443.00 705.92L444.00 709.19L445.00 712.22L446.00 715.03L447.00 717.60L448.00 719.95L449.00 722.06L450.00 723.95L451.00 725.61L452.00 727.04L453.00 728.26L454.00 729.25L455.00 730.01L456.00 730.56L457.00 730.89L458.00 731.00L459.00 730.89L460.00 730.58L461.00 730.05L462.00 729.30L463.00 728.34L464.00 727.16L465.00 725.75L466.00 724.11L467.00 722.24L468.00 720.13L469.00 717.77L470.00 715.17L471.00 712.31L472.00 709.19L473.00 705.82L474.00 702.18L475.00 698.28L476.00 694.11L477.00 689.68L478.00 685.00L479.00 680.06L480.00 674.87L481.00 669.45L482.00 663.80L483.00 657.92L484.00 651.85L485.00 645.58L486.00 639.14L487.00 632.54L488.00 625.80L489.00 618.94L490.00 611.97L491.00 604.91L492.00 597.79L493.00 590.62L494.00 583.41L495.00 576.19L496.00 568.97L497.00 561.77L498.00 554.59L499.00 547.46L500.00 540.39L501.00 533.38L502.00 526.44L503.00 519.59L504.00 512.83L505.00 506.17L506.00 499.61" stroke="#000000" stroke-width="4.17"/>
<rect x="250" y="171" width="1550" height="3" fill="#ff0000" stroke="none" shape-rendering="crispEdges"/>
<rect x="250" y="188" width="1550" height="3" fill="#ffa500" stroke="none" shape-rendering="crispEdges"/>
<rect x="250" y="225" width="1550" height="3" fill="#ffff00" stroke="none" shape-rendering="crispEdges"/>
</g>
<path d="M250 108 H1801 v1 H250Z M250 801 H1801 v1 H250Z M250 108 h1 V802 h-1Z M1800 108 h1 V802 h-1Z M250 802 h1 V807 h-1Z M405 802 h1 V807 h-1Z M560 802 h1 V807 h-1Z M715 802 h1 V807 h-1Z M870 802 h1 V807 h-1Z M1025 802 h1 V807 h-1Z M1180 802 h1 V807 h-1Z M1335 802 h1 V807 h-1Z M1490 802 h1 V807 h-1Z M1645 802 h1 V807 h-1Z M1800 802 h1 V807 h-1Z M245 801 H250 v1 H245Z M245 714 H250 v1 H245Z M245 628 H250 v1 H245Z M245 541 H250 v1 H245Z M245 455 H250 v1 H245Z M245 368 H250 v1 H245Z M245 281 H250 v1 H245Z M245 195 H250 v1 H245Z M245 108 H250 v1 H245Z" fill="#000" shape-rendering="crispEdges"/>
<g font-family='"Liberation Sans", sans-serif' font-size="14.70" fill="#000">
<text x="240.28" y="806.60" text-anchor="end" textLength="8.84" lengthAdjust="spacingAndGlyphs">0</text>
<text x="240.28" y="719.98" text-anchor="end" textLength="17.67" lengthAdjust="spacingAndGlyphs">50</text>
<text x="240.28" y="633.35" text-anchor="end" textLength="26.51" lengthAdjust="spacingAndGlyphs">100</text>
<text x="240.28" y="546.73" text-anchor="end" textLength="26.51" lengthAdjust="spacingAndGlyphs">150</text>
<text x="240.28" y="460.10" text-anchor="end" textLength="26.51" lengthAdjust="spacingAndGlyphs">200</text>
<text x="240.28" y="373.48" text-anchor="end" textLength="26.51" lengthAdjust="spacingAndGlyphs">250</text>
<text x="240.28" y="286.85" text-anchor="end" textLength="26.51" lengthAdjust="spacingAndGlyphs">300</text>
<text x="240.28" y="200.22" text-anchor="end" textLength="26.51" lengthAdjust="spacingAndGlyphs">350</text>
<text x="240.28" y="113.60" text-anchor="end" textLength="26.51" lengthAdjust="spacingAndGlyphs">400</text>
<text x="250.00" y="822.00" text-anchor="middle" textLength="78.43" lengthAdjust="spacingAndGlyphs">15/04 kl 12</text>
<text x="405.00" y="822.00" text-anchor="middle" textLength="78.43" lengthAdjust="spacingAndGlyphs">16/04 kl 00</text>
<text x="560.00" y="822.00" text-anchor="middle" textLength="78.43" lengthAdjust="spacingAndGlyphs">16/04 kl 12</text>
<text x="715.00" y="822.00" text-anchor="middle" textLength="78.43" lengthAdjust="spacingAndGlyphs">17/04 kl 00</text>
<text x="870.00" y="822.00" text-anchor="middle" textLength="78.43" lengthAdjust="spacingAndGlyphs">17/04 kl 12</text>
<text x="1025.00" y="822.00" text-anchor="middle" textLength="78.43" lengthAdjust="spacingAndGlyphs">18/04 kl 00</text>
<text x="1180.00" y="822.00" text-anchor="middle" textLength="78.43" lengthAdjust="spacingAndGlyphs">18/04 kl 12</text>
<text x="1335.00" y="822.00" text-anchor="middle" textLength="78.43" lengthAdjust="spacingAndGlyphs">19/04 kl 00</text>
<text x="1490.00" y="822.00" text-anchor="middle" textLength="78.43" lengthAdjust="spacingAndGlyphs">19/04 kl 12</text>
<text x="1645.00" y="822.00" text-anchor="middle" textLength="78.43" lengthAdjust="spacingAndGlyphs">20/04 kl 00</text>
<text x="1800.00" y="822.00" text-anchor="middle" textLength="78.43" lengthAdjust="spacingAndGlyphs">20/04 kl 12</text>
</g>
<text x="1025.00" y="99.80" text-anchor="middle" textLength="705.7" lengthAdjust="spacingAndGlyphs" font-family='"Liberation Sans", sans-serif' font-size="16.5" fill="#000">Stasjon TRAENA, DET oppdatert 2026-04-16 00:00, EPS oppdatert 2026-04-15 12:00</text>
<text transform="translate(203.80 455.20) rotate(-90)" text-anchor="middle" textLength="109.77" lengthAdjust="spacingAndGlyphs" font-family='"Liberation Sans", sans-serif' font-size="14.70" fill="#000">Vannstand [cm]</text>
<rect x="250.6" y="827.5" width="1549.2" height="35" rx="4.4" ry="4.4" fill="#ffffff" fill-opacity="0.8" stroke="#cccccc" stroke-width="1.11"/>
<path d="M256 843 H299.1" stroke="#000" stroke-width="4.17"/>
<path d="M594.2 843.5 H635.9" stroke="#6666cc" stroke-width="2.78"/>
<path d="M931.2 843.5 H972.9" stroke="#cc66cc" stroke-width="2.78"/>
<path d="M1197.3 843.5 H1239" stroke="#808080" stroke-width="2.78"/>
<path d="M1560 843.5 H1600" stroke="#dddddd" stroke-width="1.11"/>
<g font-family='"Liberation Sans", sans-serif' font-size="20.6" fill="#000">
<text x="312.60" y="850.40" textLength="140.87" lengthAdjust="spacingAndGlyphs">Observasjoner</text>
<text x="650.10" y="850.40" textLength="140.79" lengthAdjust="spacingAndGlyphs">Deterministisk</text>
<text x="987.10" y="850.40" textLength="70.72" lengthAdjust="spacingAndGlyphs">Median</text>
<text x="1253.20" y="850.40" textLength="165.89" lengthAdjust="spacingAndGlyphs">Min og maks EPS</text>
<text x="1615.00" y="850.40" textLength="178.11" lengthAdjust="spacingAndGlyphs">EPS-medlemmene</text>
</g>
</svg>
</body></html>
